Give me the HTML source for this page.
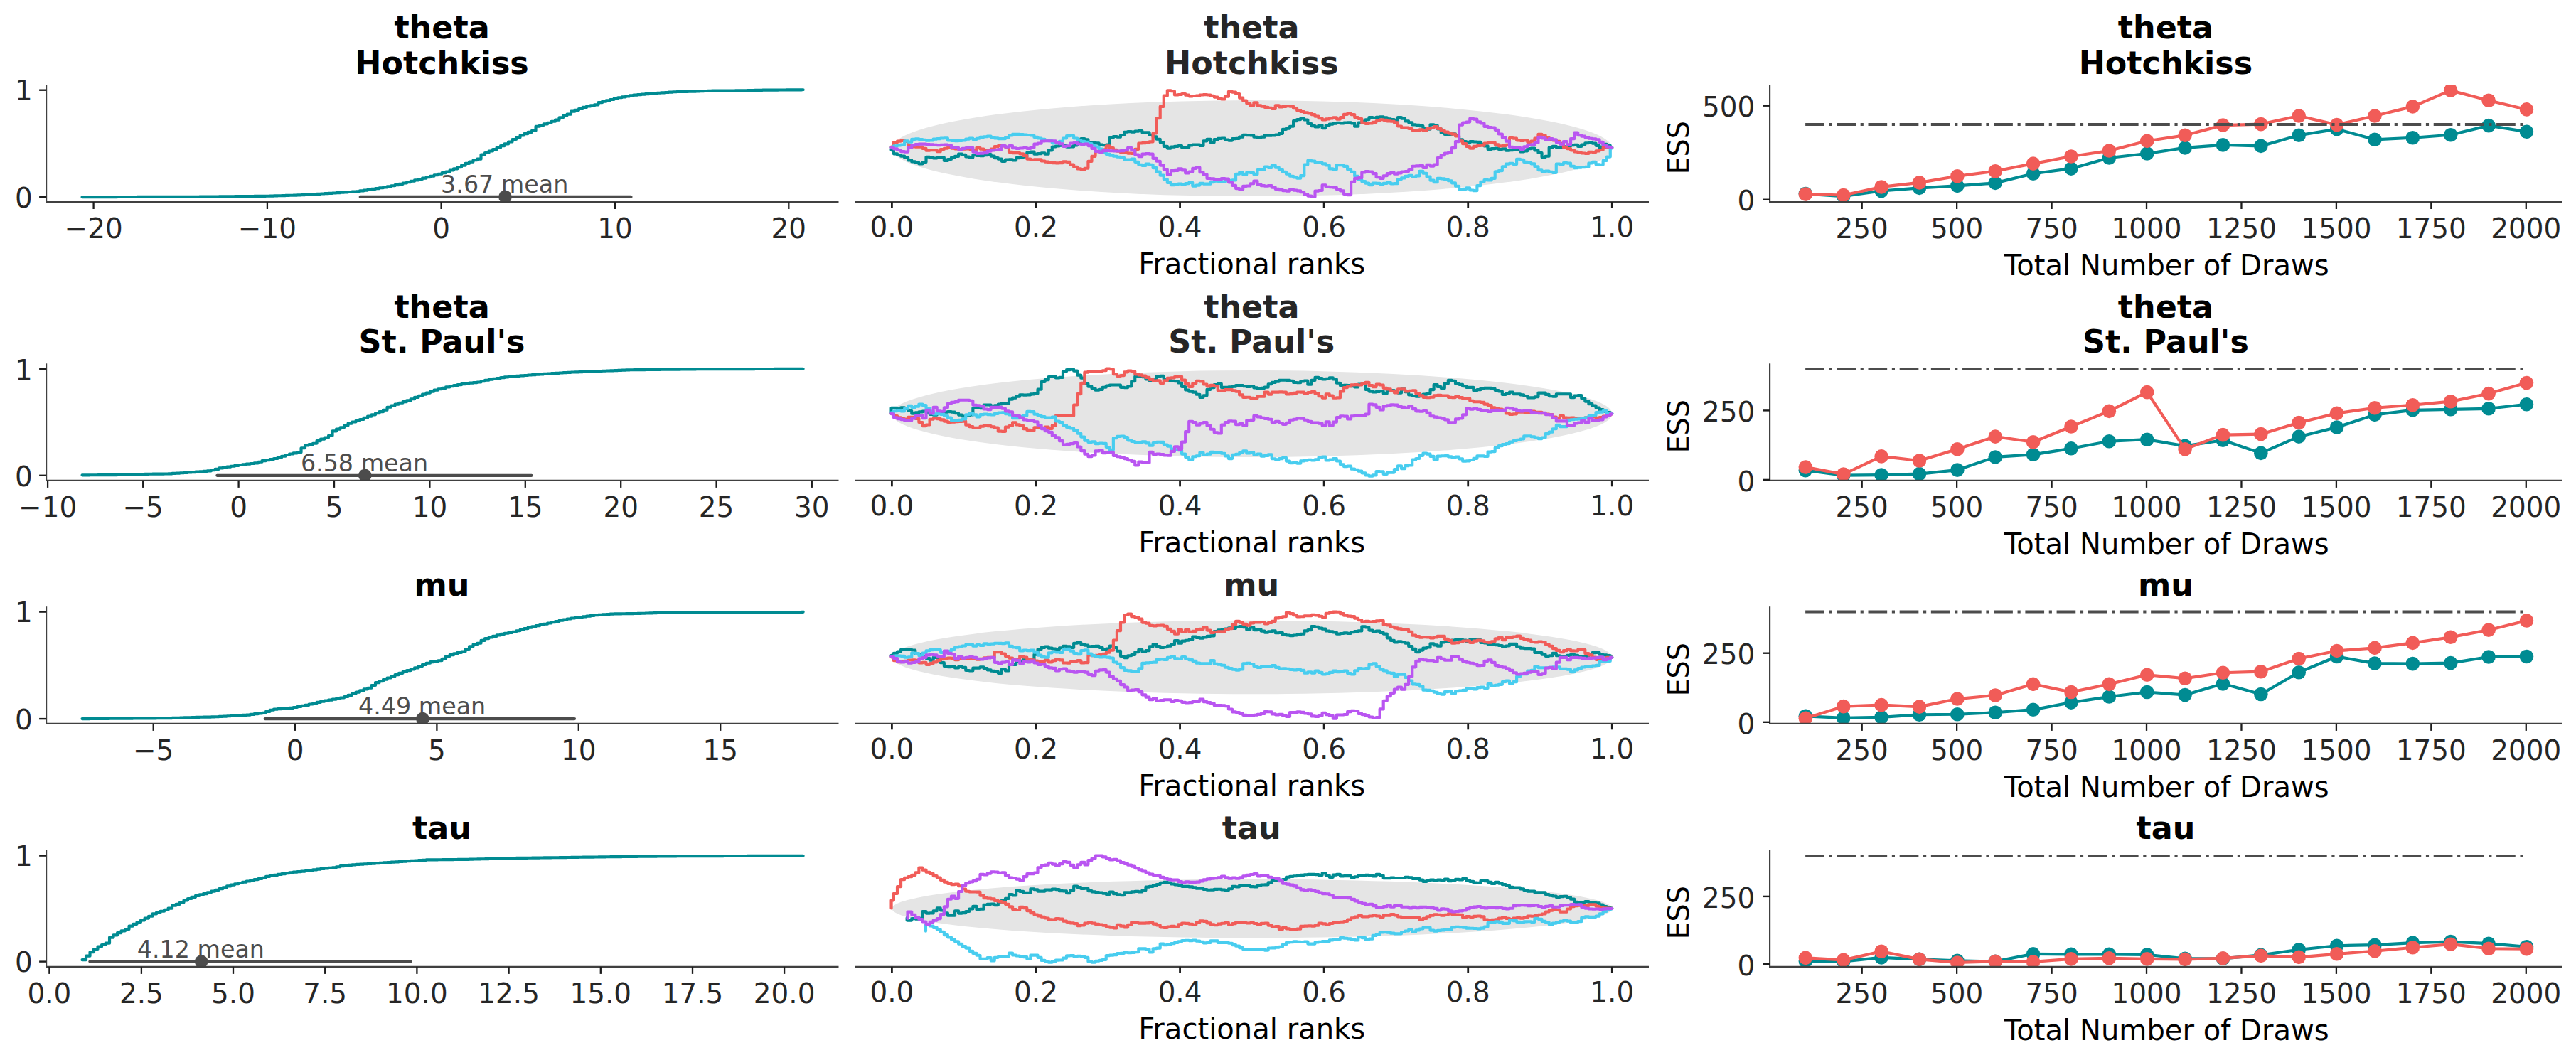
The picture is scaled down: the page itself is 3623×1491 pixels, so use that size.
<!DOCTYPE html>
<html><head><meta charset="utf-8"><title>plot</title>
<style>
html,body{margin:0;padding:0;background:#fff;}
svg{display:block;font-family:"DejaVu Sans","Liberation Sans",sans-serif;}
</style></head><body>
<svg width="3623" height="1491" viewBox="0 0 3623 1491">
<rect width="3623" height="1491" fill="#fff"/>
<defs><clipPath id="c1"><rect x="65.1" y="119.1" width="1114.4" height="164.9"/></clipPath><clipPath id="c2"><rect x="65.1" y="511.3" width="1114.4" height="164.6"/></clipPath><clipPath id="c3"><rect x="65.1" y="853.2" width="1114.4" height="164.7"/></clipPath><clipPath id="c4"><rect x="65.1" y="1195.1" width="1114.4" height="164.8"/></clipPath><clipPath id="c5"><rect x="1202.4" y="99.1" width="1116.6" height="184.9"/></clipPath><clipPath id="c6"><rect x="1202.4" y="491.3" width="1116.6" height="184.6"/></clipPath><clipPath id="c7"><rect x="1202.4" y="833.2" width="1116.6" height="184.7"/></clipPath><clipPath id="c8"><rect x="1202.4" y="1175.1" width="1116.6" height="184.8"/></clipPath><clipPath id="c9"><rect x="2489.1" y="119.1" width="1114.8" height="164.9"/></clipPath><clipPath id="c10"><rect x="2489.1" y="511.3" width="1114.8" height="164.6"/></clipPath><clipPath id="c11"><rect x="2489.1" y="853.2" width="1114.8" height="164.7"/></clipPath><clipPath id="c12"><rect x="2489.1" y="1195.1" width="1114.8" height="164.8"/></clipPath></defs>
<g clip-path="url(#c1)">
<path d="M115.53 277.17 L121.03 277.17 L121.03 277.15 L126.53 277.15 L126.53 277.14 L132.03 277.14 L132.03 277.12 L137.53 277.12 L137.53 277.11 L143.03 277.11 L143.03 277.09 L148.53 277.09 L148.53 277.08 L154.03 277.08 L154.03 277.06 L159.53 277.06 L159.53 277.04 L165.03 277.04 L165.03 277.03 L170.53 277.03 L170.53 277.01 L176.03 277.01 L176.03 277 L181.53 277 L181.53 276.98 L187.03 276.98 L187.03 276.97 L192.53 276.97 L192.53 276.95 L198.03 276.95 L198.03 276.94 L203.53 276.94 L203.53 276.92 L209.03 276.92 L209.03 276.9 L214.53 276.9 L214.53 276.89 L220.03 276.89 L220.03 276.87 L225.53 276.87 L225.53 276.86 L231.03 276.86 L231.03 276.84 L236.53 276.84 L236.53 276.83 L242.03 276.83 L242.03 276.81 L247.53 276.81 L247.53 276.79 L253.03 276.79 L253.03 276.78 L258.53 276.78 L258.53 276.76 L264.03 276.76 L264.03 276.75 L269.53 276.75 L269.53 276.73 L275.03 276.73 L275.03 276.72 L280.53 276.72 L280.53 276.69 L286.03 276.69 L286.03 276.64 L291.53 276.64 L291.53 276.58 L297.03 276.58 L297.03 276.53 L302.53 276.53 L302.53 276.47 L308.03 276.47 L308.03 276.42 L313.53 276.42 L313.53 276.36 L319.03 276.36 L319.03 276.31 L324.53 276.31 L324.53 276.25 L330.03 276.25 L330.03 276.2 L335.53 276.2 L335.53 276.14 L341.03 276.14 L341.03 276.09 L346.53 276.09 L346.53 276.03 L352.03 276.03 L352.03 275.98 L357.53 275.98 L357.53 275.92 L363.03 275.92 L363.03 275.87 L368.53 275.87 L368.53 275.81 L374.03 275.81 L374.03 275.73 L379.53 275.73 L379.53 275.57 L385.03 275.57 L385.03 275.4 L390.53 275.4 L390.53 275.24 L396.03 275.24 L396.03 275.07 L401.53 275.07 L401.53 274.91 L407.03 274.91 L407.03 274.74 L412.53 274.74 L412.53 274.58 L418.03 274.58 L418.03 274.41 L423.53 274.41 L423.53 274.12 L429.03 274.12 L429.03 273.79 L434.53 273.79 L434.53 273.46 L440.03 273.46 L440.03 273.13 L445.53 273.13 L445.53 272.8 L451.03 272.8 L451.03 272.47 L456.53 272.47 L456.53 272.14 L462.03 272.14 L462.03 271.81 L467.53 271.81 L467.53 271.47 L473.03 271.47 L473.03 271.1 L478.53 271.1 L478.53 270.74 L484.03 270.74 L484.03 270.37 L489.53 270.37 L489.53 270.01 L495.03 270.01 L495.03 269.64 L500.53 269.64 L500.53 269.23 L506.03 269.23 L506.03 268.41 L511.53 268.41 L511.53 267.58 L517.03 267.58 L517.03 266.76 L522.53 266.76 L522.53 265.93 L528.03 265.93 L528.03 265.11 L533.53 265.11 L533.53 264.28 L539.03 264.28 L539.03 263.44 L544.53 263.44 L544.53 262.34 L550.03 262.34 L550.03 261.24 L555.53 261.24 L555.53 260.14 L561.03 260.14 L561.03 258.9 L566.53 258.9 L566.53 257.53 L572.03 257.53 L572.03 256.15 L577.53 256.15 L577.53 254.78 L583.03 254.78 L583.03 253.4 L588.53 253.4 L588.53 252.03 L594.03 252.03 L594.03 250.65 L599.53 250.65 L599.53 249.23 L605.03 249.23 L605.03 247.75 L610.53 247.75 L610.53 246.26 L616.03 246.26 L616.03 244.78 L621.53 244.78 L621.53 243.14 L627.03 243.14 L627.03 241.49 L632.53 241.49 L632.53 239.51 L638.03 239.51 L638.03 237.35 L643.53 237.35 L643.53 235.06 L649.03 235.06 L649.03 232.65 L654.53 232.65 L654.53 229.9 L660.03 229.9 L660.03 227.54 L665.53 227.54 L665.53 225.25 L671.03 225.25 L671.03 223.64 L676.53 223.64 L676.53 217.48 L682.03 217.48 L682.03 214.98 L687.53 214.98 L687.53 212.51 L693.03 212.51 L693.03 210.18 L698.53 210.18 L698.53 207.65 L704.03 207.65 L704.03 205.09 L709.53 205.09 L709.53 202.4 L715.03 202.4 L715.03 199.46 L720.53 199.46 L720.53 196.02 L726.03 196.02 L726.03 193.17 L731.53 193.17 L731.53 190.42 L737.03 190.42 L737.03 188.09 L742.53 188.09 L742.53 185.89 L748.03 185.89 L748.03 183.82 L753.53 183.82 L753.53 177.72 L759.03 177.72 L759.03 176.07 L764.53 176.07 L764.53 174.42 L770.03 174.42 L770.03 172.77 L775.53 172.77 L775.53 170.74 L781.03 170.74 L781.03 168.54 L786.53 168.54 L786.53 165.33 L792.03 165.33 L792.03 162.29 L797.53 162.29 L797.53 160.64 L803.03 160.64 L803.03 156.65 L808.53 156.65 L808.53 154.82 L814.03 154.82 L814.03 152.99 L819.53 152.99 L819.53 150.94 L825.03 150.94 L825.03 149.41 L830.53 149.41 L830.53 148.38 L836.03 148.38 L836.03 147.35 L841.53 147.35 L841.53 144.18 L847.03 144.18 L847.03 142.76 L852.53 142.76 L852.53 141.39 L858.03 141.39 L858.03 140.01 L863.53 140.01 L863.53 138.64 L869.03 138.64 L869.03 137.28 L874.53 137.28 L874.53 136.29 L880.03 136.29 L880.03 135.3 L885.53 135.3 L885.53 134.31 L891.03 134.31 L891.03 133.57 L896.53 133.57 L896.53 133.08 L902.03 133.08 L902.03 132.58 L907.53 132.58 L907.53 132.09 L913.03 132.09 L913.03 131.65 L918.53 131.65 L918.53 131.21 L924.03 131.21 L924.03 130.77 L929.53 130.77 L929.53 130.36 L935.03 130.36 L935.03 129.99 L940.53 129.99 L940.53 129.63 L946.03 129.63 L946.03 129.26 L951.53 129.26 L951.53 128.96 L957.03 128.96 L957.03 128.87 L962.53 128.87 L962.53 128.79 L968.03 128.79 L968.03 128.7 L973.53 128.7 L973.53 128.62 L979.03 128.62 L979.03 128.45 L984.53 128.45 L984.53 128.23 L990.03 128.23 L990.03 128.01 L995.53 128.01 L995.53 127.79 L1001.03 127.79 L1001.03 127.62 L1006.53 127.62 L1006.53 127.62 L1012.03 127.62 L1012.03 127.63 L1017.53 127.63 L1017.53 127.63 L1023.03 127.63 L1023.03 127.64 L1028.53 127.64 L1028.53 127.56 L1034.03 127.56 L1034.03 127.45 L1039.53 127.45 L1039.53 127.34 L1045.03 127.34 L1045.03 127.23 L1050.53 127.23 L1050.53 127.12 L1056.03 127.12 L1056.03 127.01 L1061.53 127.01 L1061.53 126.9 L1067.03 126.9 L1067.03 126.79 L1072.53 126.79 L1072.53 126.7 L1078.03 126.7 L1078.03 126.65 L1083.53 126.65 L1083.53 126.61 L1089.03 126.61 L1089.03 126.57 L1094.53 126.57 L1094.53 126.52 L1100.03 126.52 L1100.03 126.48 L1105.53 126.48 L1105.53 126.43 L1111.03 126.43 L1111.03 126.39 L1116.53 126.39 L1116.53 126.35 L1122.03 126.35 L1122.03 126.3 L1127.53 126.3 L1127.53 126.26 L1129.64 126.26 L1129.64 126.24" fill="none" stroke="#008b92" stroke-width="4.17" stroke-linejoin="round" stroke-linecap="round"/>
<line x1="506.7" y1="276.9" x2="887.5" y2="276.9" stroke="#4c4c4c" stroke-width="4.17" stroke-linecap="round"/>
<circle cx="710.5" cy="276.9" r="9.3" fill="#4c4c4c"/>
</g>
<g clip-path="url(#c2)">
<path d="M115.53 668.35 L121.03 668.35 L121.03 668.31 L126.53 668.31 L126.53 668.28 L132.03 668.28 L132.03 668.24 L137.53 668.24 L137.53 668.2 L143.03 668.2 L143.03 668.17 L148.53 668.17 L148.53 668.13 L154.03 668.13 L154.03 668.1 L159.53 668.1 L159.53 668.06 L165.03 668.06 L165.03 668.02 L170.53 668.02 L170.53 667.99 L176.03 667.99 L176.03 667.95 L181.53 667.95 L181.53 667.92 L187.03 667.92 L187.03 667.83 L192.53 667.83 L192.53 667.43 L198.03 667.43 L198.03 667.03 L203.53 667.03 L203.53 666.84 L209.03 666.84 L209.03 666.77 L214.53 666.77 L214.53 666.7 L220.03 666.7 L220.03 666.62 L225.53 666.62 L225.53 666.55 L231.03 666.55 L231.03 666.48 L236.53 666.48 L236.53 666.32 L242.03 666.32 L242.03 665.95 L247.53 665.95 L247.53 665.59 L253.03 665.59 L253.03 665.22 L258.53 665.22 L258.53 664.85 L264.03 664.85 L264.03 664.49 L269.53 664.49 L269.53 664.12 L275.03 664.12 L275.03 663.68 L280.53 663.68 L280.53 663.24 L286.03 663.24 L286.03 662.8 L291.53 662.8 L291.53 662.36 L297.03 662.36 L297.03 661.24 L302.53 661.24 L302.53 659.83 L308.03 659.83 L308.03 658.41 L313.53 658.41 L313.53 657.42 L319.03 657.42 L319.03 656.57 L324.53 656.57 L324.53 655.73 L330.03 655.73 L330.03 654.88 L335.53 654.88 L335.53 654.03 L341.03 654.03 L341.03 653.24 L346.53 653.24 L346.53 652.62 L352.03 652.62 L352.03 652 L357.53 652 L357.53 651.38 L363.03 651.38 L363.03 649.78 L368.53 649.78 L368.53 648.1 L374.03 648.1 L374.03 647.07 L379.53 647.07 L379.53 646.04 L385.03 646.04 L385.03 645.01 L390.53 645.01 L390.53 643.46 L396.03 643.46 L396.03 641.74 L401.53 641.74 L401.53 640.02 L407.03 640.02 L407.03 638.5 L412.53 638.5 L412.53 637.32 L418.03 637.32 L418.03 636.14 L423.53 636.14 L423.53 630.23 L429.03 630.23 L429.03 626.31 L434.53 626.31 L434.53 625.04 L440.03 625.04 L440.03 623.73 L445.53 623.73 L445.53 620.06 L451.03 620.06 L451.03 617.6 L456.53 617.6 L456.53 615.5 L462.03 615.5 L462.03 612.75 L467.53 612.75 L467.53 606.44 L473.03 606.44 L473.03 603.57 L478.53 603.57 L478.53 601.37 L484.03 601.37 L484.03 598.54 L489.53 598.54 L489.53 595.57 L495.03 595.57 L495.03 593.52 L500.53 593.52 L500.53 591.87 L506.03 591.87 L506.03 589.98 L511.53 589.98 L511.53 587.92 L517.03 587.92 L517.03 585.66 L522.53 585.66 L522.53 583.36 L528.03 583.36 L528.03 581.18 L533.53 581.18 L533.53 579.2 L539.03 579.2 L539.03 576.75 L544.53 576.75 L544.53 572.71 L550.03 572.71 L550.03 570.62 L555.53 570.62 L555.53 568.6 L561.03 568.6 L561.03 566.74 L566.53 566.74 L566.53 565.09 L572.03 565.09 L572.03 563.44 L577.53 563.44 L577.53 561.22 L583.03 561.22 L583.03 558.93 L588.53 558.93 L588.53 556.72 L594.03 556.72 L594.03 554.65 L599.53 554.65 L599.53 552.62 L605.03 552.62 L605.03 550.6 L610.53 550.6 L610.53 548.65 L616.03 548.65 L616.03 547.24 L621.53 547.24 L621.53 545.84 L627.03 545.84 L627.03 544.43 L632.53 544.43 L632.53 543.15 L638.03 543.15 L638.03 542.16 L643.53 542.16 L643.53 541.17 L649.03 541.17 L649.03 540.18 L654.53 540.18 L654.53 539.21 L660.03 539.21 L660.03 538.66 L665.53 538.66 L665.53 538.11 L671.03 538.11 L671.03 537.49 L676.53 537.49 L676.53 536.11 L682.03 536.11 L682.03 534.74 L687.53 534.74 L687.53 533.66 L693.03 533.66 L693.03 532.84 L698.53 532.84 L698.53 532.01 L704.03 532.01 L704.03 531.19 L709.53 531.19 L709.53 530.36 L715.03 530.36 L715.03 529.72 L720.53 529.72 L720.53 529.28 L726.03 529.28 L726.03 528.84 L731.53 528.84 L731.53 528.4 L737.03 528.4 L737.03 527.96 L742.53 527.96 L742.53 527.52 L748.03 527.52 L748.03 527.09 L753.53 527.09 L753.53 526.7 L759.03 526.7 L759.03 526.32 L764.53 526.32 L764.53 525.93 L770.03 525.93 L770.03 525.55 L775.53 525.55 L775.53 525.19 L781.03 525.19 L781.03 524.84 L786.53 524.84 L786.53 524.49 L792.03 524.49 L792.03 524.14 L797.53 524.14 L797.53 523.8 L803.03 523.8 L803.03 523.51 L808.53 523.51 L808.53 523.29 L814.03 523.29 L814.03 523.07 L819.53 523.07 L819.53 522.85 L825.03 522.85 L825.03 522.62 L830.53 522.62 L830.53 522.4 L836.03 522.4 L836.03 522.18 L841.53 522.18 L841.53 521.96 L847.03 521.96 L847.03 521.74 L852.53 521.74 L852.53 521.52 L858.03 521.52 L858.03 521.3 L863.53 521.3 L863.53 521.08 L869.03 521.08 L869.03 520.86 L874.53 520.86 L874.53 520.64 L880.03 520.64 L880.03 520.42 L885.53 520.42 L885.53 520.21 L891.03 520.21 L891.03 520.16 L896.53 520.16 L896.53 520.1 L902.03 520.1 L902.03 520.05 L907.53 520.05 L907.53 519.99 L913.03 519.99 L913.03 519.94 L918.53 519.94 L918.53 519.88 L924.03 519.88 L924.03 519.83 L929.53 519.83 L929.53 519.77 L935.03 519.77 L935.03 519.72 L940.53 519.72 L940.53 519.66 L946.03 519.66 L946.03 519.61 L951.53 519.61 L951.53 519.55 L957.03 519.55 L957.03 519.5 L962.53 519.5 L962.53 519.44 L968.03 519.44 L968.03 519.39 L973.53 519.39 L973.53 519.33 L979.03 519.33 L979.03 519.28 L984.53 519.28 L984.53 519.26 L990.03 519.26 L990.03 519.25 L995.53 519.25 L995.53 519.23 L1001.03 519.23 L1001.03 519.21 L1006.53 519.21 L1006.53 519.2 L1012.03 519.2 L1012.03 519.18 L1017.53 519.18 L1017.53 519.16 L1023.03 519.16 L1023.03 519.15 L1028.53 519.15 L1028.53 519.13 L1034.03 519.13 L1034.03 519.11 L1039.53 519.11 L1039.53 519.09 L1045.03 519.09 L1045.03 519.08 L1050.53 519.08 L1050.53 519.06 L1056.03 519.06 L1056.03 519.04 L1061.53 519.04 L1061.53 519.03 L1067.03 519.03 L1067.03 519.01 L1072.53 519.01 L1072.53 518.99 L1078.03 518.99 L1078.03 518.98 L1083.53 518.98 L1083.53 518.96 L1089.03 518.96 L1089.03 518.94 L1094.53 518.94 L1094.53 518.93 L1100.03 518.93 L1100.03 518.91 L1105.53 518.91 L1105.53 518.89 L1111.03 518.89 L1111.03 518.87 L1116.53 518.87 L1116.53 518.86 L1122.03 518.86 L1122.03 518.84 L1127.53 518.84 L1127.53 518.82 L1129.64 518.82 L1129.64 518.82" fill="none" stroke="#008b92" stroke-width="4.17" stroke-linejoin="round" stroke-linecap="round"/>
<line x1="305.4" y1="668.8" x2="747.6" y2="668.8" stroke="#4c4c4c" stroke-width="4.17" stroke-linecap="round"/>
<circle cx="513.3" cy="668.8" r="9.3" fill="#4c4c4c"/>
</g>
<g clip-path="url(#c3)">
<path d="M115.53 1011.08 L121.03 1011.08 L121.03 1011.04 L126.53 1011.04 L126.53 1011 L132.03 1011 L132.03 1010.95 L137.53 1010.95 L137.53 1010.91 L143.03 1010.91 L143.03 1010.86 L148.53 1010.86 L148.53 1010.82 L154.03 1010.82 L154.03 1010.78 L159.53 1010.78 L159.53 1010.73 L165.03 1010.73 L165.03 1010.69 L170.53 1010.69 L170.53 1010.65 L176.03 1010.65 L176.03 1010.6 L181.53 1010.6 L181.53 1010.56 L187.03 1010.56 L187.03 1010.52 L192.53 1010.52 L192.53 1010.47 L198.03 1010.47 L198.03 1010.43 L203.53 1010.43 L203.53 1010.38 L209.03 1010.38 L209.03 1010.34 L214.53 1010.34 L214.53 1010.3 L220.03 1010.3 L220.03 1010.25 L225.53 1010.25 L225.53 1010.21 L231.03 1010.21 L231.03 1010.17 L236.53 1010.17 L236.53 1010.04 L242.03 1010.04 L242.03 1009.88 L247.53 1009.88 L247.53 1009.71 L253.03 1009.71 L253.03 1009.55 L258.53 1009.55 L258.53 1009.38 L264.03 1009.38 L264.03 1009.22 L269.53 1009.22 L269.53 1009.05 L275.03 1009.05 L275.03 1008.89 L280.53 1008.89 L280.53 1008.74 L286.03 1008.74 L286.03 1008.64 L291.53 1008.64 L291.53 1008.54 L297.03 1008.54 L297.03 1008.45 L302.53 1008.45 L302.53 1008.25 L308.03 1008.25 L308.03 1007.92 L313.53 1007.92 L313.53 1007.59 L319.03 1007.59 L319.03 1007.26 L324.53 1007.26 L324.53 1006.93 L330.03 1006.93 L330.03 1006.6 L335.53 1006.6 L335.53 1006.27 L341.03 1006.27 L341.03 1005.94 L346.53 1005.94 L346.53 1005.61 L352.03 1005.61 L352.03 1004.9 L357.53 1004.9 L357.53 1004.18 L363.03 1004.18 L363.03 1003.47 L368.53 1003.47 L368.53 1002.75 L374.03 1002.75 L374.03 1000.92 L379.53 1000.92 L379.53 998.72 L385.03 998.72 L385.03 997.62 L390.53 997.62 L390.53 997.17 L396.03 997.17 L396.03 996.71 L401.53 996.71 L401.53 996.25 L407.03 996.25 L407.03 995.79 L412.53 995.79 L412.53 995.01 L418.03 995.01 L418.03 993.98 L423.53 993.98 L423.53 992.95 L429.03 992.95 L429.03 991.87 L434.53 991.87 L434.53 990.52 L440.03 990.52 L440.03 989.18 L445.53 989.18 L445.53 987.84 L451.03 987.84 L451.03 986.61 L456.53 986.61 L456.53 985.6 L462.03 985.6 L462.03 984.59 L467.53 984.59 L467.53 983.57 L473.03 983.57 L473.03 982.54 L478.53 982.54 L478.53 981.5 L484.03 981.5 L484.03 980.01 L489.53 980.01 L489.53 977.89 L495.03 977.89 L495.03 975.77 L500.53 975.77 L500.53 973.61 L506.03 973.61 L506.03 971.41 L511.53 971.41 L511.53 969.4 L517.03 969.4 L517.03 967.75 L522.53 967.75 L522.53 964 L528.03 964 L528.03 960.16 L533.53 960.16 L533.53 958.07 L539.03 958.07 L539.03 955.78 L544.53 955.78 L544.53 953.49 L550.03 953.49 L550.03 951.25 L555.53 951.25 L555.53 949.05 L561.03 949.05 L561.03 946.85 L566.53 946.85 L566.53 944.93 L572.03 944.93 L572.03 943.2 L577.53 943.2 L577.53 941.47 L583.03 941.47 L583.03 939.39 L588.53 939.39 L588.53 937.1 L594.03 937.1 L594.03 934.83 L599.53 934.83 L599.53 932.76 L605.03 932.76 L605.03 931.15 L610.53 931.15 L610.53 930.21 L616.03 930.21 L616.03 929.26 L621.53 929.26 L621.53 926.89 L627.03 926.89 L627.03 923.06 L632.53 923.06 L632.53 921.19 L638.03 921.19 L638.03 919.35 L643.53 919.35 L643.53 917.92 L649.03 917.92 L649.03 916.49 L654.53 916.49 L654.53 912.97 L660.03 912.97 L660.03 909.31 L665.53 909.31 L665.53 906.43 L671.03 906.43 L671.03 904.78 L676.53 904.78 L676.53 900.88 L682.03 900.88 L682.03 898.06 L687.53 898.06 L687.53 896.5 L693.03 896.5 L693.03 894.94 L698.53 894.94 L698.53 893.39 L704.03 893.39 L704.03 891.83 L709.53 891.83 L709.53 890.76 L715.03 890.76 L715.03 889.84 L720.53 889.84 L720.53 888.79 L726.03 888.79 L726.03 887.25 L731.53 887.25 L731.53 885.71 L737.03 885.71 L737.03 884.17 L742.53 884.17 L742.53 882.63 L748.03 882.63 L748.03 881.41 L753.53 881.41 L753.53 880.2 L759.03 880.2 L759.03 878.99 L764.53 878.99 L764.53 877.78 L770.03 877.78 L770.03 876.53 L775.53 876.53 L775.53 875.27 L781.03 875.27 L781.03 874 L786.53 874 L786.53 872.74 L792.03 872.74 L792.03 871.56 L797.53 871.56 L797.53 870.46 L803.03 870.46 L803.03 869.51 L808.53 869.51 L808.53 868.8 L814.03 868.8 L814.03 868.08 L819.53 868.08 L819.53 867.37 L825.03 867.37 L825.03 866.64 L830.53 866.64 L830.53 865.87 L836.03 865.87 L836.03 865.12 L841.53 865.12 L841.53 864.74 L847.03 864.74 L847.03 864.35 L852.53 864.35 L852.53 863.97 L858.03 863.97 L858.03 863.58 L863.53 863.58 L863.53 863.43 L869.03 863.43 L869.03 863.34 L874.53 863.34 L874.53 863.25 L880.03 863.25 L880.03 863.15 L885.53 863.15 L885.53 863.06 L891.03 863.06 L891.03 862.97 L896.53 862.97 L896.53 862.87 L902.03 862.87 L902.03 862.73 L907.53 862.73 L907.53 862.51 L913.03 862.51 L913.03 862.29 L918.53 862.29 L918.53 862.07 L924.03 862.07 L924.03 861.86 L929.53 861.86 L929.53 861.64 L935.03 861.64 L935.03 861.55 L940.53 861.55 L940.53 861.55 L946.03 861.55 L946.03 861.55 L951.53 861.55 L951.53 861.55 L957.03 861.55 L957.03 861.55 L962.53 861.55 L962.53 861.55 L968.03 861.55 L968.03 861.55 L973.53 861.55 L973.53 861.55 L979.03 861.55 L979.03 861.55 L984.53 861.55 L984.53 861.55 L990.03 861.55 L990.03 861.55 L995.53 861.55 L995.53 861.55 L1001.03 861.55 L1001.03 861.55 L1006.53 861.55 L1006.53 861.55 L1012.03 861.55 L1012.03 861.55 L1017.53 861.55 L1017.53 861.55 L1023.03 861.55 L1023.03 861.55 L1028.53 861.55 L1028.53 861.55 L1034.03 861.55 L1034.03 861.55 L1039.53 861.55 L1039.53 861.55 L1045.03 861.55 L1045.03 861.55 L1050.53 861.55 L1050.53 861.55 L1056.03 861.55 L1056.03 861.55 L1061.53 861.55 L1061.53 861.55 L1067.03 861.55 L1067.03 861.55 L1072.53 861.55 L1072.53 861.55 L1078.03 861.55 L1078.03 861.55 L1083.53 861.55 L1083.53 861.55 L1089.03 861.55 L1089.03 861.55 L1094.53 861.55 L1094.53 861.55 L1100.03 861.55 L1100.03 861.55 L1105.53 861.55 L1105.53 861.55 L1111.03 861.55 L1111.03 861.55 L1116.53 861.55 L1116.53 861.55 L1122.03 861.55 L1122.03 861.23 L1127.53 861.23 L1127.53 860.79 L1129.64 860.79 L1129.64 860.62" fill="none" stroke="#008b92" stroke-width="4.17" stroke-linejoin="round" stroke-linecap="round"/>
<line x1="372.7" y1="1011.1" x2="808" y2="1011.1" stroke="#4c4c4c" stroke-width="4.17" stroke-linecap="round"/>
<circle cx="594.4" cy="1011.1" r="9.3" fill="#4c4c4c"/>
</g>
<g clip-path="url(#c4)">
<path d="M115.53 1350.13 L121.03 1350.13 L121.03 1344.65 L126.53 1344.65 L126.53 1339.2 L132.03 1339.2 L132.03 1334.97 L137.53 1334.97 L137.53 1331.53 L143.03 1331.53 L143.03 1328.97 L148.53 1328.97 L148.53 1326.68 L154.03 1326.68 L154.03 1318.57 L159.53 1318.57 L159.53 1315.39 L165.03 1315.39 L165.03 1312.09 L170.53 1312.09 L170.53 1309.3 L176.03 1309.3 L176.03 1307.1 L181.53 1307.1 L181.53 1302.57 L187.03 1302.57 L187.03 1299.82 L192.53 1299.82 L192.53 1297.07 L198.03 1297.07 L198.03 1294.32 L203.53 1294.32 L203.53 1291.57 L209.03 1291.57 L209.03 1288.74 L214.53 1288.74 L214.53 1285.43 L220.03 1285.43 L220.03 1283.6 L225.53 1283.6 L225.53 1281.76 L231.03 1281.76 L231.03 1279.93 L236.53 1279.93 L236.53 1277.66 L242.03 1277.66 L242.03 1273.67 L247.53 1273.67 L247.53 1271.84 L253.03 1271.84 L253.03 1269.33 L258.53 1269.33 L258.53 1266.29 L264.03 1266.29 L264.03 1263.99 L269.53 1263.99 L269.53 1261.81 L275.03 1261.81 L275.03 1259.79 L280.53 1259.79 L280.53 1258.42 L286.03 1258.42 L286.03 1257.04 L291.53 1257.04 L291.53 1255.34 L297.03 1255.34 L297.03 1253.62 L302.53 1253.62 L302.53 1251.89 L308.03 1251.89 L308.03 1250.06 L313.53 1250.06 L313.53 1248.22 L319.03 1248.22 L319.03 1246.39 L324.53 1246.39 L324.53 1244.56 L330.03 1244.56 L330.03 1243.25 L335.53 1243.25 L335.53 1242.01 L341.03 1242.01 L341.03 1240.77 L346.53 1240.77 L346.53 1239.49 L352.03 1239.49 L352.03 1238.21 L357.53 1238.21 L357.53 1237.1 L363.03 1237.1 L363.03 1236 L368.53 1236 L368.53 1234.8 L374.03 1234.8 L374.03 1232.87 L379.53 1232.87 L379.53 1231.68 L385.03 1231.68 L385.03 1230.79 L390.53 1230.79 L390.53 1229.89 L396.03 1229.89 L396.03 1229.06 L401.53 1229.06 L401.53 1228.23 L407.03 1228.23 L407.03 1227.41 L412.53 1227.41 L412.53 1226.68 L418.03 1226.68 L418.03 1226.13 L423.53 1226.13 L423.53 1225.58 L429.03 1225.58 L429.03 1225.03 L434.53 1225.03 L434.53 1224.25 L440.03 1224.25 L440.03 1223.43 L445.53 1223.43 L445.53 1222.6 L451.03 1222.6 L451.03 1221.86 L456.53 1221.86 L456.53 1221.31 L462.03 1221.31 L462.03 1220.76 L467.53 1220.76 L467.53 1220.21 L473.03 1220.21 L473.03 1219.24 L478.53 1219.24 L478.53 1218.14 L484.03 1218.14 L484.03 1217.53 L489.53 1217.53 L489.53 1216.92 L495.03 1216.92 L495.03 1216.31 L500.53 1216.31 L500.53 1215.92 L506.03 1215.92 L506.03 1215.57 L511.53 1215.57 L511.53 1215.23 L517.03 1215.23 L517.03 1214.89 L522.53 1214.89 L522.53 1214.54 L528.03 1214.54 L528.03 1214.19 L533.53 1214.19 L533.53 1213.81 L539.03 1213.81 L539.03 1213.42 L544.53 1213.42 L544.53 1213.04 L550.03 1213.04 L550.03 1212.66 L555.53 1212.66 L555.53 1212.3 L561.03 1212.3 L561.03 1211.93 L566.53 1211.93 L566.53 1211.56 L572.03 1211.56 L572.03 1211.2 L577.53 1211.2 L577.53 1210.84 L583.03 1210.84 L583.03 1210.49 L588.53 1210.49 L588.53 1210.14 L594.03 1210.14 L594.03 1209.79 L599.53 1209.79 L599.53 1209.44 L605.03 1209.44 L605.03 1209.36 L610.53 1209.36 L610.53 1209.3 L616.03 1209.3 L616.03 1209.24 L621.53 1209.24 L621.53 1209.18 L627.03 1209.18 L627.03 1209.12 L632.53 1209.12 L632.53 1209.06 L638.03 1209.06 L638.03 1209.01 L643.53 1209.01 L643.53 1208.95 L649.03 1208.95 L649.03 1208.89 L654.53 1208.89 L654.53 1208.79 L660.03 1208.79 L660.03 1208.65 L665.53 1208.65 L665.53 1208.5 L671.03 1208.5 L671.03 1208.35 L676.53 1208.35 L676.53 1208.21 L682.03 1208.21 L682.03 1208.06 L687.53 1208.06 L687.53 1207.91 L693.03 1207.91 L693.03 1207.77 L698.53 1207.77 L698.53 1207.62 L704.03 1207.62 L704.03 1207.47 L709.53 1207.47 L709.53 1207.33 L715.03 1207.33 L715.03 1207.18 L720.53 1207.18 L720.53 1207.03 L726.03 1207.03 L726.03 1206.94 L731.53 1206.94 L731.53 1206.87 L737.03 1206.87 L737.03 1206.79 L742.53 1206.79 L742.53 1206.72 L748.03 1206.72 L748.03 1206.65 L753.53 1206.65 L753.53 1206.57 L759.03 1206.57 L759.03 1206.5 L764.53 1206.5 L764.53 1206.43 L770.03 1206.43 L770.03 1206.35 L775.53 1206.35 L775.53 1206.28 L781.03 1206.28 L781.03 1206.21 L786.53 1206.21 L786.53 1206.13 L792.03 1206.13 L792.03 1206.06 L797.53 1206.06 L797.53 1205.99 L803.03 1205.99 L803.03 1205.91 L808.53 1205.91 L808.53 1205.84 L814.03 1205.84 L814.03 1205.77 L819.53 1205.77 L819.53 1205.69 L825.03 1205.69 L825.03 1205.62 L830.53 1205.62 L830.53 1205.55 L836.03 1205.55 L836.03 1205.47 L841.53 1205.47 L841.53 1205.4 L847.03 1205.4 L847.03 1205.33 L852.53 1205.33 L852.53 1205.25 L858.03 1205.25 L858.03 1205.18 L863.53 1205.18 L863.53 1205.11 L869.03 1205.11 L869.03 1205.06 L874.53 1205.06 L874.53 1205 L880.03 1205 L880.03 1204.95 L885.53 1204.95 L885.53 1204.89 L891.03 1204.89 L891.03 1204.84 L896.53 1204.84 L896.53 1204.78 L902.03 1204.78 L902.03 1204.73 L907.53 1204.73 L907.53 1204.67 L913.03 1204.67 L913.03 1204.62 L918.53 1204.62 L918.53 1204.56 L924.03 1204.56 L924.03 1204.51 L929.53 1204.51 L929.53 1204.45 L935.03 1204.45 L935.03 1204.4 L940.53 1204.4 L940.53 1204.34 L946.03 1204.34 L946.03 1204.29 L951.53 1204.29 L951.53 1204.23 L957.03 1204.23 L957.03 1204.19 L962.53 1204.19 L962.53 1204.18 L968.03 1204.18 L968.03 1204.16 L973.53 1204.16 L973.53 1204.15 L979.03 1204.15 L979.03 1204.13 L984.53 1204.13 L984.53 1204.12 L990.03 1204.12 L990.03 1204.1 L995.53 1204.1 L995.53 1204.09 L1001.03 1204.09 L1001.03 1204.07 L1006.53 1204.07 L1006.53 1204.06 L1012.03 1204.06 L1012.03 1204.04 L1017.53 1204.04 L1017.53 1204.03 L1023.03 1204.03 L1023.03 1204.02 L1028.53 1204.02 L1028.53 1204 L1034.03 1204 L1034.03 1203.99 L1039.53 1203.99 L1039.53 1203.97 L1045.03 1203.97 L1045.03 1203.96 L1050.53 1203.96 L1050.53 1203.94 L1056.03 1203.94 L1056.03 1203.93 L1061.53 1203.93 L1061.53 1203.91 L1067.03 1203.91 L1067.03 1203.9 L1072.53 1203.9 L1072.53 1203.88 L1078.03 1203.88 L1078.03 1203.87 L1083.53 1203.87 L1083.53 1203.85 L1089.03 1203.85 L1089.03 1203.84 L1094.53 1203.84 L1094.53 1203.82 L1100.03 1203.82 L1100.03 1203.81 L1105.53 1203.81 L1105.53 1203.8 L1111.03 1203.8 L1111.03 1203.78 L1116.53 1203.78 L1116.53 1203.77 L1122.03 1203.77 L1122.03 1203.75 L1127.53 1203.75 L1127.53 1203.74 L1129.64 1203.74 L1129.64 1203.73" fill="none" stroke="#008b92" stroke-width="4.17" stroke-linejoin="round" stroke-linecap="round"/>
<line x1="126.4" y1="1352.6" x2="577.3" y2="1352.6" stroke="#4c4c4c" stroke-width="4.17" stroke-linecap="round"/>
<circle cx="283.2" cy="1352.6" r="9.3" fill="#4c4c4c"/>
</g>
<g clip-path="url(#c5)">
<ellipse cx="1760.85" cy="208.6" rx="506.45" ry="67.5" fill="#e5e5e5"/>
<path d="M1253.58 210.09 L1253.58 211.04 L1254.4 211.04 L1256.93 211.04 L1256.93 216.3 L1262 216.3 L1262 217.99 L1267.06 217.99 L1267.06 219.67 L1272.13 219.67 L1272.13 221.65 L1277.19 221.65 L1277.19 225.45 L1282.25 225.45 L1282.25 227.43 L1287.32 227.43 L1287.32 228.95 L1292.38 228.95 L1292.38 230.47 L1297.45 230.47 L1297.45 228.07 L1302.51 228.07 L1302.51 220.76 L1307.58 220.76 L1307.58 221.86 L1312.64 221.86 L1312.64 222.52 L1317.71 222.52 L1317.71 221.8 L1322.77 221.8 L1322.77 221.48 L1327.84 221.48 L1327.84 225.91 L1332.9 225.91 L1332.9 223.96 L1337.96 223.96 L1337.96 221.59 L1343.03 221.59 L1343.03 219.9 L1348.09 219.9 L1348.09 216.52 L1353.16 216.52 L1353.16 217.79 L1358.22 217.79 L1358.22 220.47 L1363.29 220.47 L1363.29 221.51 L1368.35 221.51 L1368.35 218.04 L1373.42 218.04 L1373.42 218.88 L1378.48 218.88 L1378.48 219.1 L1383.54 219.1 L1383.54 218.15 L1388.61 218.15 L1388.61 217.2 L1393.67 217.2 L1393.67 219.7 L1398.74 219.7 L1398.74 222.13 L1403.8 222.13 L1403.8 223.65 L1408.87 223.65 L1408.87 226.79 L1413.93 226.79 L1413.93 224.66 L1419 224.66 L1419 224.44 L1424.06 224.44 L1424.06 225.29 L1429.13 225.29 L1429.13 222.12 L1434.19 222.12 L1434.19 221.17 L1439.25 221.17 L1439.25 220.33 L1444.32 220.33 L1444.32 214.57 L1449.38 214.57 L1449.38 213.56 L1454.45 213.56 L1454.45 216.64 L1459.51 216.64 L1459.51 216.1 L1464.58 216.1 L1464.58 215.26 L1469.64 215.26 L1469.64 216.73 L1474.71 216.73 L1474.71 211.52 L1479.77 211.52 L1479.77 206.48 L1484.83 206.48 L1484.83 205.53 L1489.9 205.53 L1489.9 204.58 L1494.96 204.58 L1494.96 205.08 L1500.03 205.08 L1500.03 206.77 L1505.09 206.77 L1505.09 206.41 L1510.16 206.41 L1510.16 204.3 L1515.22 204.3 L1515.22 199.97 L1520.29 199.97 L1520.29 195.04 L1525.35 195.04 L1525.35 196.31 L1530.42 196.31 L1530.42 199.98 L1535.48 199.98 L1535.48 200.4 L1540.54 200.4 L1540.54 201.37 L1545.61 201.37 L1545.61 203.55 L1550.67 203.55 L1550.67 204.06 L1555.74 204.06 L1555.74 203.46 L1560.8 203.46 L1560.8 193.74 L1565.87 193.74 L1565.87 191.99 L1570.93 191.99 L1570.93 192.72 L1576 192.72 L1576 190.03 L1581.06 190.03 L1581.06 185.75 L1586.12 185.75 L1586.12 185.11 L1591.19 185.11 L1591.19 185.62 L1596.25 185.62 L1596.25 184.67 L1601.32 184.67 L1601.32 183.97 L1606.38 183.97 L1606.38 186.32 L1611.45 186.32 L1611.45 186.32 L1616.51 186.32 L1616.51 189.8 L1621.58 189.8 L1621.58 192.34 L1626.64 192.34 L1626.64 195.75 L1631.71 195.75 L1631.71 200.29 L1636.77 200.29 L1636.77 205.9 L1641.83 205.9 L1641.83 208.6 L1646.9 208.6 L1646.9 206.7 L1651.96 206.7 L1651.96 205.85 L1657.03 205.85 L1657.03 205.01 L1662.09 205.01 L1662.09 207.5 L1667.16 207.5 L1667.16 207.85 L1672.22 207.85 L1672.22 204.3 L1677.29 204.3 L1677.29 203.66 L1682.35 203.66 L1682.35 203.67 L1687.41 203.67 L1687.41 204.94 L1692.48 204.94 L1692.48 198.34 L1697.54 198.34 L1697.54 195.81 L1702.61 195.81 L1702.61 200.23 L1707.67 200.23 L1707.67 196.17 L1712.74 196.17 L1712.74 194.91 L1717.8 194.91 L1717.8 194.49 L1722.87 194.49 L1722.87 196.6 L1727.93 196.6 L1727.93 197.6 L1733 197.6 L1733 195.06 L1738.06 195.06 L1738.06 194.81 L1743.12 194.81 L1743.12 192.69 L1748.19 192.69 L1748.19 189.79 L1753.25 189.79 L1753.25 190.16 L1758.32 190.16 L1758.32 190.52 L1763.38 190.52 L1763.38 192.77 L1768.45 192.77 L1768.45 193.66 L1773.51 193.66 L1773.51 192.64 L1778.58 192.64 L1778.58 190.56 L1783.64 190.56 L1783.64 190.56 L1788.7 190.56 L1788.7 190.42 L1793.77 190.42 L1793.77 189.58 L1798.83 189.58 L1798.83 187.79 L1803.9 187.79 L1803.9 181.88 L1808.96 181.88 L1808.96 180.61 L1814.03 180.61 L1814.03 177.74 L1819.09 177.74 L1819.09 170.08 L1824.16 170.08 L1824.16 168.06 L1829.22 168.06 L1829.22 166.64 L1834.29 166.64 L1834.29 168.52 L1839.35 168.52 L1839.35 173.96 L1844.41 173.96 L1844.41 177.11 L1849.48 177.11 L1849.48 178.38 L1854.54 178.38 L1854.54 176.1 L1859.61 176.1 L1859.61 180.04 L1864.67 180.04 L1864.67 176.24 L1869.74 176.24 L1869.74 174.57 L1874.8 174.57 L1874.8 173.62 L1879.87 173.62 L1879.87 172.79 L1884.93 172.79 L1884.93 173.52 L1889.99 173.52 L1889.99 172.51 L1895.06 172.51 L1895.06 172.27 L1900.12 172.27 L1900.12 173.29 L1905.19 173.29 L1905.19 177.65 L1910.25 177.65 L1910.25 172.67 L1915.32 172.67 L1915.32 170.65 L1920.38 170.65 L1920.38 168.22 L1925.45 168.22 L1925.45 165.1 L1930.51 165.1 L1930.51 165.94 L1935.58 165.94 L1935.58 164.92 L1940.64 164.92 L1940.64 164.42 L1945.7 164.42 L1945.7 165.33 L1950.77 165.33 L1950.77 167.31 L1955.83 167.31 L1955.83 168.15 L1960.9 168.15 L1960.9 169 L1965.96 169 L1965.96 165.09 L1971.03 165.09 L1971.03 166.71 L1976.09 166.71 L1976.09 170.4 L1981.16 170.4 L1981.16 172.21 L1986.22 172.21 L1986.22 175.39 L1991.28 175.39 L1991.28 175.8 L1996.35 175.8 L1996.35 177.07 L2001.41 177.07 L2001.41 181.02 L2006.48 181.02 L2006.48 181.74 L2011.54 181.74 L2011.54 175.28 L2016.61 175.28 L2016.61 176.57 L2021.67 176.57 L2021.67 181.32 L2026.74 181.32 L2026.74 186.92 L2031.8 186.92 L2031.8 188.88 L2036.87 188.88 L2036.87 189.49 L2041.93 189.49 L2041.93 188.22 L2046.99 188.22 L2046.99 190.85 L2052.06 190.85 L2052.06 196.33 L2057.12 196.33 L2057.12 199.1 L2062.19 199.1 L2062.19 201.21 L2067.25 201.21 L2067.25 199.11 L2072.32 199.11 L2072.32 199.47 L2077.38 199.47 L2077.38 199.83 L2082.45 199.83 L2082.45 202.93 L2087.51 202.93 L2087.51 205.38 L2092.57 205.38 L2092.57 210 L2097.64 210 L2097.64 209.15 L2102.7 209.15 L2102.7 208.57 L2107.77 208.57 L2107.77 210.03 L2112.83 210.03 L2112.83 209.4 L2117.9 209.4 L2117.9 211.75 L2122.96 211.75 L2122.96 211.24 L2128.03 211.24 L2128.03 210.68 L2133.09 210.68 L2133.09 210.32 L2138.16 210.32 L2138.16 213.44 L2143.22 213.44 L2143.22 212.36 L2148.28 212.36 L2148.28 209.05 L2153.35 209.05 L2153.35 208.54 L2158.41 208.54 L2158.41 211.39 L2163.48 211.39 L2163.48 215.01 L2168.54 215.01 L2168.54 221.11 L2173.61 221.11 L2173.61 219.75 L2178.67 219.75 L2178.67 207.49 L2183.74 207.49 L2183.74 205.87 L2188.8 205.87 L2188.8 207.37 L2193.86 207.37 L2193.86 206.87 L2198.93 206.87 L2198.93 206.28 L2203.99 206.28 L2203.99 205.44 L2209.06 205.44 L2209.06 204.17 L2214.12 204.17 L2214.12 203.95 L2219.19 203.95 L2219.19 205.89 L2224.25 205.89 L2224.25 203.49 L2229.32 203.49 L2229.32 201.21 L2234.38 201.21 L2234.38 200.93 L2239.45 200.93 L2239.45 201.57 L2244.51 201.57 L2244.51 204.79 L2249.57 204.79 L2249.57 207.38 L2254.64 207.38 L2254.64 202.82 L2259.7 202.82 L2259.7 204.76 L2264.77 204.76 L2264.77 207.26 L2267.3 207.26" fill="none" stroke="#008b92" stroke-width="4.17" stroke-linejoin="round" stroke-linecap="round"/>
<path d="M1253.58 207.55 L1253.58 206.53 L1254.4 206.53 L1256.93 206.53 L1256.93 200.2 L1262 200.2 L1262 198.54 L1267.06 198.54 L1267.06 197.9 L1272.13 197.9 L1272.13 198.98 L1277.19 198.98 L1277.19 204.47 L1282.25 204.47 L1282.25 206.31 L1287.32 206.31 L1287.32 206.7 L1292.38 206.7 L1292.38 206.7 L1297.45 206.7 L1297.45 208.94 L1302.51 208.94 L1302.51 211.63 L1307.58 211.63 L1307.58 211.27 L1312.64 211.27 L1312.64 211.17 L1317.71 211.17 L1317.71 213.2 L1322.77 213.2 L1322.77 209.99 L1327.84 209.99 L1327.84 208.73 L1332.9 208.73 L1332.9 207.61 L1337.96 207.61 L1337.96 208.56 L1343.03 208.56 L1343.03 209.51 L1348.09 209.51 L1348.09 209.98 L1353.16 209.98 L1353.16 209.7 L1358.22 209.7 L1358.22 209.42 L1363.29 209.42 L1363.29 209.8 L1368.35 209.8 L1368.35 211.32 L1373.42 211.32 L1373.42 207.85 L1378.48 207.85 L1378.48 209.57 L1383.54 209.57 L1383.54 211.79 L1388.61 211.79 L1388.61 211.79 L1393.67 211.79 L1393.67 209.54 L1398.74 209.54 L1398.74 206.16 L1403.8 206.16 L1403.8 205 L1408.87 205 L1408.87 205.48 L1413.93 205.48 L1413.93 207 L1419 207 L1419 213.87 L1424.06 213.87 L1424.06 215.14 L1429.13 215.14 L1429.13 215.19 L1434.19 215.19 L1434.19 216.36 L1439.25 216.36 L1439.25 219.01 L1444.32 219.01 L1444.32 223.56 L1449.38 223.56 L1449.38 224.94 L1454.45 224.94 L1454.45 224.22 L1459.51 224.22 L1459.51 224.32 L1464.58 224.32 L1464.58 226.5 L1469.64 226.5 L1469.64 227.58 L1474.71 227.58 L1474.71 228.67 L1479.77 228.67 L1479.77 229.06 L1484.83 229.06 L1484.83 229.37 L1489.9 229.37 L1489.9 229.2 L1494.96 229.2 L1494.96 227.3 L1500.03 227.3 L1500.03 227.82 L1505.09 227.82 L1505.09 231.61 L1510.16 231.61 L1510.16 234.91 L1515.22 234.91 L1515.22 237.41 L1520.29 237.41 L1520.29 238.61 L1525.35 238.61 L1525.35 236.71 L1530.42 236.71 L1530.42 226.9 L1535.48 226.9 L1535.48 219.86 L1540.54 219.86 L1540.54 213.07 L1545.61 213.07 L1545.61 211.89 L1550.67 211.89 L1550.67 210.37 L1555.74 210.37 L1555.74 205.36 L1560.8 205.36 L1560.8 208.07 L1565.87 208.07 L1565.87 210.94 L1570.93 210.94 L1570.93 212.75 L1576 212.75 L1576 214.39 L1581.06 214.39 L1581.06 214.81 L1586.12 214.81 L1586.12 215.68 L1591.19 215.68 L1591.19 215.95 L1596.25 215.95 L1596.25 209.87 L1601.32 209.87 L1601.32 201.48 L1606.38 201.48 L1606.38 201.16 L1611.45 201.16 L1611.45 200.85 L1616.51 200.85 L1616.51 199.41 L1621.58 199.41 L1621.58 187.32 L1626.64 187.32 L1626.64 166.14 L1631.71 166.14 L1631.71 149.8 L1636.77 149.8 L1636.77 134.68 L1641.83 134.68 L1641.83 127.23 L1646.9 127.23 L1646.9 128.24 L1651.96 128.24 L1651.96 133.51 L1657.03 133.51 L1657.03 133.01 L1662.09 133.01 L1662.09 132 L1667.16 132 L1667.16 133.64 L1672.22 133.64 L1672.22 135.33 L1677.29 135.33 L1677.29 135.03 L1682.35 135.03 L1682.35 134.66 L1687.41 134.66 L1687.41 133.48 L1692.48 133.48 L1692.48 133.09 L1697.54 133.09 L1697.54 133.51 L1702.61 133.51 L1702.61 134.83 L1707.67 134.83 L1707.67 136.61 L1712.74 136.61 L1712.74 138.06 L1717.8 138.06 L1717.8 139.5 L1722.87 139.5 L1722.87 135.75 L1727.93 135.75 L1727.93 128.79 L1733 128.79 L1733 129.63 L1738.06 129.63 L1738.06 132.02 L1743.12 132.02 L1743.12 137.64 L1748.19 137.64 L1748.19 141.69 L1753.25 141.69 L1753.25 145.3 L1758.32 145.3 L1758.32 148.37 L1763.38 148.37 L1763.38 144.22 L1768.45 144.22 L1768.45 148.36 L1773.51 148.36 L1773.51 149.62 L1778.58 149.62 L1778.58 150.86 L1783.64 150.86 L1783.64 151.94 L1788.7 151.94 L1788.7 153.03 L1793.77 153.03 L1793.77 148.43 L1798.83 148.43 L1798.83 150.32 L1803.9 150.32 L1803.9 149.83 L1808.96 149.83 L1808.96 149.05 L1814.03 149.05 L1814.03 149.69 L1819.09 149.69 L1819.09 152.19 L1824.16 152.19 L1824.16 155.15 L1829.22 155.15 L1829.22 156.96 L1834.29 156.96 L1834.29 158.42 L1839.35 158.42 L1839.35 159.43 L1844.41 159.43 L1844.41 161.12 L1849.48 161.12 L1849.48 163.65 L1854.54 163.65 L1854.54 166.18 L1859.61 166.18 L1859.61 168.4 L1864.67 168.4 L1864.67 167.39 L1869.74 167.39 L1869.74 166.37 L1874.8 166.37 L1874.8 165.36 L1879.87 165.36 L1879.87 167.58 L1884.93 167.58 L1884.93 165.16 L1889.99 165.16 L1889.99 160.79 L1895.06 160.79 L1895.06 159.78 L1900.12 159.78 L1900.12 161.06 L1905.19 161.06 L1905.19 165 L1910.25 165 L1910.25 167.02 L1915.32 167.02 L1915.32 172.76 L1920.38 172.76 L1920.38 174.03 L1925.45 174.03 L1925.45 173.4 L1930.51 173.4 L1930.51 171.87 L1935.58 171.87 L1935.58 169.98 L1940.64 169.98 L1940.64 168.26 L1945.7 168.26 L1945.7 168.82 L1950.77 168.82 L1950.77 170.31 L1955.83 170.31 L1955.83 170.73 L1960.9 170.73 L1960.9 172.39 L1965.96 172.39 L1965.96 177.46 L1971.03 177.46 L1971.03 179.53 L1976.09 179.53 L1976.09 179.53 L1981.16 179.53 L1981.16 180.99 L1986.22 180.99 L1986.22 183.07 L1991.28 183.07 L1991.28 183.71 L1996.35 183.71 L1996.35 182.26 L2001.41 182.26 L2001.41 183.77 L2006.48 183.77 L2006.48 181.14 L2011.54 181.14 L2011.54 179.82 L2016.61 179.82 L2016.61 178.16 L2021.67 178.16 L2021.67 181.02 L2026.74 181.02 L2026.74 183.71 L2031.8 183.71 L2031.8 185.61 L2036.87 185.61 L2036.87 187.4 L2041.93 187.4 L2041.93 188.66 L2046.99 188.66 L2046.99 191.41 L2052.06 191.41 L2052.06 198.4 L2057.12 198.4 L2057.12 202.19 L2062.19 202.19 L2062.19 205.99 L2067.25 205.99 L2067.25 208.76 L2072.32 208.76 L2072.32 205.83 L2077.38 205.83 L2077.38 205 L2082.45 205 L2082.45 204.57 L2087.51 204.57 L2087.51 201.5 L2092.57 201.5 L2092.57 200.66 L2097.64 200.66 L2097.64 200.32 L2102.7 200.32 L2102.7 203.34 L2107.77 203.34 L2107.77 205.37 L2112.83 205.37 L2112.83 205.08 L2117.9 205.08 L2117.9 203.82 L2122.96 203.82 L2122.96 194.01 L2128.03 194.01 L2128.03 194.64 L2133.09 194.64 L2133.09 197.3 L2138.16 197.3 L2138.16 197.83 L2143.22 197.83 L2143.22 197.5 L2148.28 197.5 L2148.28 199.84 L2153.35 199.84 L2153.35 198.57 L2158.41 198.57 L2158.41 194.61 L2163.48 194.61 L2163.48 188.91 L2168.54 188.91 L2168.54 190.17 L2173.61 190.17 L2173.61 193.48 L2178.67 193.48 L2178.67 195.97 L2183.74 195.97 L2183.74 197.37 L2188.8 197.37 L2188.8 198.78 L2193.86 198.78 L2193.86 201.8 L2198.93 201.8 L2198.93 207.5 L2203.99 207.5 L2203.99 209.05 L2209.06 209.05 L2209.06 211.29 L2214.12 211.29 L2214.12 213.46 L2219.19 213.46 L2219.19 214.72 L2224.25 214.72 L2224.25 215.51 L2229.32 215.51 L2229.32 216.01 L2234.38 216.01 L2234.38 213.72 L2239.45 213.72 L2239.45 214.02 L2244.51 214.02 L2244.51 212.29 L2249.57 212.29 L2249.57 211.03 L2254.64 211.03 L2254.64 206.95 L2259.7 206.95 L2259.7 207.36 L2264.77 207.36 L2264.77 207.78 L2267.3 207.78" fill="none" stroke="#f15c58" stroke-width="4.17" stroke-linejoin="round" stroke-linecap="round"/>
<path d="M1253.58 207.55 L1253.58 207.24 L1254.4 207.24 L1256.93 207.24 L1256.93 205.34 L1262 205.34 L1262 204.31 L1267.06 204.31 L1267.06 203.46 L1272.13 203.46 L1272.13 198.38 L1277.19 198.38 L1277.19 199.65 L1282.25 199.65 L1282.25 195.87 L1287.32 195.87 L1287.32 195.38 L1292.38 195.38 L1292.38 196.11 L1297.45 196.11 L1297.45 196.88 L1302.51 196.88 L1302.51 197.73 L1307.58 197.73 L1307.58 197.39 L1312.64 197.39 L1312.64 195.61 L1317.71 195.61 L1317.71 195.05 L1322.77 195.05 L1322.77 194.48 L1327.84 194.48 L1327.84 194.21 L1332.9 194.21 L1332.9 197.39 L1337.96 197.39 L1337.96 197.81 L1343.03 197.81 L1343.03 198.19 L1348.09 198.19 L1348.09 197.82 L1353.16 197.82 L1353.16 197.46 L1358.22 197.46 L1358.22 195.56 L1363.29 195.56 L1363.29 194.52 L1368.35 194.52 L1368.35 196.04 L1373.42 196.04 L1373.42 194.76 L1378.48 194.76 L1378.48 192.89 L1383.54 192.89 L1383.54 192.26 L1388.61 192.26 L1388.61 191.62 L1393.67 191.62 L1393.67 193.1 L1398.74 193.1 L1398.74 194.44 L1403.8 194.44 L1403.8 195.16 L1408.87 195.16 L1408.87 195.18 L1413.93 195.18 L1413.93 193.66 L1419 193.66 L1419 190.42 L1424.06 190.42 L1424.06 188.87 L1429.13 188.87 L1429.13 188.87 L1434.19 188.87 L1434.19 189.01 L1439.25 189.01 L1439.25 189.52 L1444.32 189.52 L1444.32 190.02 L1449.38 190.02 L1449.38 190.53 L1454.45 190.53 L1454.45 192.92 L1459.51 192.92 L1459.51 194.52 L1464.58 194.52 L1464.58 195.93 L1469.64 195.93 L1469.64 197.02 L1474.71 197.02 L1474.71 198.1 L1479.77 198.1 L1479.77 201.31 L1484.83 201.31 L1484.83 200.04 L1489.9 200.04 L1489.9 198.78 L1494.96 198.78 L1494.96 194.49 L1500.03 194.49 L1500.03 191.18 L1505.09 191.18 L1505.09 190.76 L1510.16 190.76 L1510.16 194.46 L1515.22 194.46 L1515.22 196.99 L1520.29 196.99 L1520.29 198.73 L1525.35 198.73 L1525.35 199.75 L1530.42 199.75 L1530.42 202.04 L1535.48 202.04 L1535.48 204.49 L1540.54 204.49 L1540.54 206.51 L1545.61 206.51 L1545.61 209.62 L1550.67 209.62 L1550.67 213.84 L1555.74 213.84 L1555.74 216.95 L1560.8 216.95 L1560.8 218.72 L1565.87 218.72 L1565.87 219.74 L1570.93 219.74 L1570.93 220.75 L1576 220.75 L1576 221.76 L1581.06 221.76 L1581.06 224.46 L1586.12 224.46 L1586.12 224.63 L1591.19 224.63 L1591.19 223.68 L1596.25 223.68 L1596.25 227.83 L1601.32 227.83 L1601.32 231.81 L1606.38 231.81 L1606.38 232.9 L1611.45 232.9 L1611.45 230.52 L1616.51 230.52 L1616.51 231.79 L1621.58 231.79 L1621.58 236.15 L1626.64 236.15 L1626.64 241.62 L1631.71 241.62 L1631.71 246.69 L1636.77 246.69 L1636.77 252.18 L1641.83 252.18 L1641.83 257.02 L1646.9 257.02 L1646.9 260.18 L1651.96 260.18 L1651.96 259.17 L1657.03 259.17 L1657.03 258.69 L1662.09 258.69 L1662.09 259.33 L1667.16 259.33 L1667.16 258.09 L1672.22 258.09 L1672.22 256.83 L1677.29 256.83 L1677.29 261.58 L1682.35 261.58 L1682.35 260.57 L1687.41 260.57 L1687.41 257.82 L1692.48 257.82 L1692.48 258.6 L1697.54 258.6 L1697.54 258.64 L1702.61 258.64 L1702.61 256.11 L1707.67 256.11 L1707.67 254.76 L1712.74 254.76 L1712.74 254.99 L1717.8 254.99 L1717.8 255.62 L1722.87 255.62 L1722.87 254.35 L1727.93 254.35 L1727.93 253.86 L1733 253.86 L1733 253.44 L1738.06 253.44 L1738.06 244.78 L1743.12 244.78 L1743.12 242.64 L1748.19 242.64 L1748.19 245.68 L1753.25 245.68 L1753.25 242.46 L1758.32 242.46 L1758.32 242.97 L1763.38 242.97 L1763.38 245.24 L1768.45 245.24 L1768.45 238.96 L1773.51 238.96 L1773.51 238.96 L1778.58 238.96 L1778.58 234.64 L1783.64 234.64 L1783.64 235.85 L1788.7 235.85 L1788.7 232.69 L1793.77 232.69 L1793.77 235.69 L1798.83 235.69 L1798.83 238.86 L1803.9 238.86 L1803.9 241.82 L1808.96 241.82 L1808.96 244.77 L1814.03 244.77 L1814.03 247.73 L1819.09 247.73 L1819.09 249.52 L1824.16 249.52 L1824.16 250.74 L1829.22 250.74 L1829.22 247.18 L1834.29 247.18 L1834.29 231.5 L1839.35 231.5 L1839.35 225.8 L1844.41 225.8 L1844.41 226.49 L1849.48 226.49 L1849.48 228.77 L1854.54 228.77 L1854.54 228.77 L1859.61 228.77 L1859.61 230.37 L1864.67 230.37 L1864.67 232.48 L1869.74 232.48 L1869.74 237.43 L1874.8 237.43 L1874.8 238.33 L1879.87 238.33 L1879.87 232.17 L1884.93 232.17 L1884.93 232.17 L1889.99 232.17 L1889.99 233.89 L1895.06 233.89 L1895.06 238.28 L1900.12 238.28 L1900.12 241.82 L1905.19 241.82 L1905.19 247.81 L1910.25 247.81 L1910.25 252.62 L1915.32 252.62 L1915.32 255.15 L1920.38 255.15 L1920.38 257.68 L1925.45 257.68 L1925.45 260.16 L1930.51 260.16 L1930.51 257.62 L1935.58 257.62 L1935.58 257.92 L1940.64 257.92 L1940.64 258.9 L1945.7 258.9 L1945.7 257.89 L1950.77 257.89 L1950.77 256.72 L1955.83 256.72 L1955.83 258.33 L1960.9 258.33 L1960.9 258.15 L1965.96 258.15 L1965.96 252.1 L1971.03 252.1 L1971.03 250.41 L1976.09 250.41 L1976.09 247.88 L1981.16 247.88 L1981.16 246.93 L1986.22 246.93 L1986.22 248.95 L1991.28 248.95 L1991.28 247.43 L1996.35 247.43 L1996.35 240.83 L2001.41 240.83 L2001.41 243.72 L2006.48 243.72 L2006.48 248.54 L2011.54 248.54 L2011.54 253.6 L2016.61 253.6 L2016.61 256.27 L2021.67 256.27 L2021.67 250.95 L2026.74 250.95 L2026.74 251.45 L2031.8 251.45 L2031.8 252.57 L2036.87 252.57 L2036.87 254.26 L2041.93 254.26 L2041.93 257.35 L2046.99 257.35 L2046.99 261.78 L2052.06 261.78 L2052.06 266.21 L2057.12 266.21 L2057.12 265.93 L2062.19 265.93 L2062.19 264.3 L2067.25 264.3 L2067.25 267.52 L2072.32 267.52 L2072.32 268.27 L2077.38 268.27 L2077.38 261.12 L2082.45 261.12 L2082.45 255.85 L2087.51 255.85 L2087.51 253.09 L2092.57 253.09 L2092.57 253.41 L2097.64 253.41 L2097.64 250.95 L2102.7 250.95 L2102.7 241.38 L2107.77 241.38 L2107.77 240.13 L2112.83 240.13 L2112.83 234.41 L2117.9 234.41 L2117.9 230.55 L2122.96 230.55 L2122.96 229.72 L2128.03 229.72 L2128.03 230.99 L2133.09 230.99 L2133.09 223.73 L2138.16 223.73 L2138.16 224.74 L2143.22 224.74 L2143.22 227.95 L2148.28 227.95 L2148.28 228.46 L2153.35 228.46 L2153.35 230.37 L2158.41 230.37 L2158.41 234.28 L2163.48 234.28 L2163.48 239.21 L2168.54 239.21 L2168.54 241.15 L2173.61 241.15 L2173.61 240.68 L2178.67 240.68 L2178.67 241.95 L2183.74 241.95 L2183.74 242.84 L2188.8 242.84 L2188.8 230.47 L2193.86 230.47 L2193.86 231.1 L2198.93 231.1 L2198.93 229.08 L2203.99 229.08 L2203.99 229.58 L2209.06 229.58 L2209.06 233.71 L2214.12 233.71 L2214.12 236.09 L2219.19 236.09 L2219.19 235.58 L2224.25 235.58 L2224.25 235.16 L2229.32 235.16 L2229.32 234.73 L2234.38 234.73 L2234.38 229.5 L2239.45 229.5 L2239.45 227.78 L2244.51 227.78 L2244.51 231.35 L2249.57 231.35 L2249.57 231.83 L2254.64 231.83 L2254.64 225.93 L2259.7 225.93 L2259.7 220.58 L2264.77 220.58 L2264.77 208.39 L2267.3 208.39" fill="none" stroke="#48cdef" stroke-width="4.17" stroke-linejoin="round" stroke-linecap="round"/>
<path d="M1253.58 207.55 L1253.58 207.79 L1254.4 207.79 L1256.93 207.79 L1256.93 209.31 L1262 209.31 L1262 211.01 L1267.06 211.01 L1267.06 213.18 L1272.13 213.18 L1272.13 213.59 L1277.19 213.59 L1277.19 207.65 L1282.25 207.65 L1282.25 204.33 L1287.32 204.33 L1287.32 203.11 L1292.38 203.11 L1292.38 202.69 L1297.45 202.69 L1297.45 202.64 L1302.51 202.64 L1302.51 203.06 L1307.58 203.06 L1307.58 203.44 L1312.64 203.44 L1312.64 203.75 L1317.71 203.75 L1317.71 204.07 L1322.77 204.07 L1322.77 203.91 L1327.84 203.91 L1327.84 203.6 L1332.9 203.6 L1332.9 204.15 L1337.96 204.15 L1337.96 207.55 L1343.03 207.55 L1343.03 207.83 L1348.09 207.83 L1348.09 210.36 L1353.16 210.36 L1353.16 208.84 L1358.22 208.84 L1358.22 208.04 L1363.29 208.04 L1363.29 207.73 L1368.35 207.73 L1368.35 213.55 L1373.42 213.55 L1373.42 216.03 L1378.48 216.03 L1378.48 215.61 L1383.54 215.61 L1383.54 215.17 L1388.61 215.17 L1388.61 212.63 L1393.67 212.63 L1393.67 211.37 L1398.74 211.37 L1398.74 210.74 L1403.8 210.74 L1403.8 210.1 L1408.87 210.1 L1408.87 205.14 L1413.93 205.14 L1413.93 206.66 L1419 206.66 L1419 205.11 L1424.06 205.11 L1424.06 208.27 L1429.13 208.27 L1429.13 209 L1434.19 209 L1434.19 208.46 L1439.25 208.46 L1439.25 208.02 L1444.32 208.02 L1444.32 208.9 L1449.38 208.9 L1449.38 207.63 L1454.45 207.63 L1454.45 202.7 L1459.51 202.7 L1459.51 201.68 L1464.58 201.68 L1464.58 198.5 L1469.64 198.5 L1469.64 198.21 L1474.71 198.21 L1474.71 198.21 L1479.77 198.21 L1479.77 198.21 L1484.83 198.21 L1484.83 200.1 L1489.9 200.1 L1489.9 202.21 L1494.96 202.21 L1494.96 205.81 L1500.03 205.81 L1500.03 205.25 L1505.09 205.25 L1505.09 201.48 L1510.16 201.48 L1510.16 200.8 L1515.22 200.8 L1515.22 202.49 L1520.29 202.49 L1520.29 203.04 L1525.35 203.04 L1525.35 202.53 L1530.42 202.53 L1530.42 205.12 L1535.48 205.12 L1535.48 208.92 L1540.54 208.92 L1540.54 212.91 L1545.61 212.91 L1545.61 214.04 L1550.67 214.04 L1550.67 212.14 L1555.74 212.14 L1555.74 212 L1560.8 212 L1560.8 212.25 L1565.87 212.25 L1565.87 212.5 L1570.93 212.5 L1570.93 212.47 L1576 212.47 L1576 212.11 L1581.06 212.11 L1581.06 211.21 L1586.12 211.21 L1586.12 207.86 L1591.19 207.86 L1591.19 211.27 L1596.25 211.27 L1596.25 217.56 L1601.32 217.56 L1601.32 220.04 L1606.38 220.04 L1606.38 216.69 L1611.45 216.69 L1611.45 216.19 L1616.51 216.19 L1616.51 216.63 L1621.58 216.63 L1621.58 222.94 L1626.64 222.94 L1626.64 226.74 L1631.71 226.74 L1631.71 232.57 L1636.77 232.57 L1636.77 238.6 L1641.83 238.6 L1641.83 245.7 L1646.9 245.7 L1646.9 240.09 L1651.96 240.09 L1651.96 239.86 L1657.03 239.86 L1657.03 237.26 L1662.09 237.26 L1662.09 239.4 L1667.16 239.4 L1667.16 243.46 L1672.22 243.46 L1672.22 241.56 L1677.29 241.56 L1677.29 236.88 L1682.35 236.88 L1682.35 235.62 L1687.41 235.62 L1687.41 242.04 L1692.48 242.04 L1692.48 245.37 L1697.54 245.37 L1697.54 250.96 L1702.61 250.96 L1702.61 251.39 L1707.67 251.39 L1707.67 252.14 L1712.74 252.14 L1712.74 252.74 L1717.8 252.74 L1717.8 251.01 L1722.87 251.01 L1722.87 251.64 L1727.93 251.64 L1727.93 256.31 L1733 256.31 L1733 260.8 L1738.06 260.8 L1738.06 265.12 L1743.12 265.12 L1743.12 266.51 L1748.19 266.51 L1748.19 261.93 L1753.25 261.93 L1753.25 261.48 L1758.32 261.48 L1758.32 258.24 L1763.38 258.24 L1763.38 254.47 L1768.45 254.47 L1768.45 259.35 L1773.51 259.35 L1773.51 261.06 L1778.58 261.06 L1778.58 261.77 L1783.64 261.77 L1783.64 261.14 L1788.7 261.14 L1788.7 263.7 L1793.77 263.7 L1793.77 265.91 L1798.83 265.91 L1798.83 267.18 L1803.9 267.18 L1803.9 268.07 L1808.96 268.07 L1808.96 268.58 L1814.03 268.58 L1814.03 266.31 L1819.09 266.31 L1819.09 267.57 L1824.16 267.57 L1824.16 268.33 L1829.22 268.33 L1829.22 270.23 L1834.29 270.23 L1834.29 273.22 L1839.35 273.22 L1839.35 275.61 L1844.41 275.61 L1844.41 276.88 L1849.48 276.88 L1849.48 268.61 L1854.54 268.61 L1854.54 267.98 L1859.61 267.98 L1859.61 260.41 L1864.67 260.41 L1864.67 262.94 L1869.74 262.94 L1869.74 263.11 L1874.8 263.11 L1874.8 263.76 L1879.87 263.76 L1879.87 266.26 L1884.93 266.26 L1884.93 268.29 L1889.99 268.29 L1889.99 272.97 L1895.06 272.97 L1895.06 274.11 L1900.12 274.11 L1900.12 255.73 L1905.19 255.73 L1905.19 250.82 L1910.25 250.82 L1910.25 250.19 L1915.32 250.19 L1915.32 242.33 L1920.38 242.33 L1920.38 241.06 L1925.45 241.06 L1925.45 241.52 L1930.51 241.52 L1930.51 244.08 L1935.58 244.08 L1935.58 249.15 L1940.64 249.15 L1940.64 250.85 L1945.7 250.85 L1945.7 247.24 L1950.77 247.24 L1950.77 244.2 L1955.83 244.2 L1955.83 242.88 L1960.9 242.88 L1960.9 244.77 L1965.96 244.77 L1965.96 243.33 L1971.03 243.33 L1971.03 241.64 L1976.09 241.64 L1976.09 241.04 L1981.16 241.04 L1981.16 239.01 L1986.22 239.01 L1986.22 233.78 L1991.28 233.78 L1991.28 233.42 L1996.35 233.42 L1996.35 233.06 L2001.41 233.06 L2001.41 236.03 L2006.48 236.03 L2006.48 231.93 L2011.54 231.93 L2011.54 233.55 L2016.61 233.55 L2016.61 231.65 L2021.67 231.65 L2021.67 222 L2026.74 222 L2026.74 218.1 L2031.8 218.1 L2031.8 215.57 L2036.87 215.57 L2036.87 214.65 L2041.93 214.65 L2041.93 208.1 L2046.99 208.1 L2046.99 199.05 L2052.06 199.05 L2052.06 175.58 L2057.12 175.58 L2057.12 172.58 L2062.19 172.58 L2062.19 171.56 L2067.25 171.56 L2067.25 166.79 L2072.32 166.79 L2072.32 167.69 L2077.38 167.69 L2077.38 171.41 L2082.45 171.41 L2082.45 173.38 L2087.51 173.38 L2087.51 177.95 L2092.57 177.95 L2092.57 178.96 L2097.64 178.96 L2097.64 179.53 L2102.7 179.53 L2102.7 182.86 L2107.77 182.86 L2107.77 188.51 L2112.83 188.51 L2112.83 193.57 L2117.9 193.57 L2117.9 198.64 L2122.96 198.64 L2122.96 206.73 L2128.03 206.73 L2128.03 207.15 L2133.09 207.15 L2133.09 207.72 L2138.16 207.72 L2138.16 209.86 L2143.22 209.86 L2143.22 206.22 L2148.28 206.22 L2148.28 203.95 L2153.35 203.95 L2153.35 203.45 L2158.41 203.45 L2158.41 200.91 L2163.48 200.91 L2163.48 192.95 L2168.54 192.95 L2168.54 194.36 L2173.61 194.36 L2173.61 196.83 L2178.67 196.83 L2178.67 195.04 L2183.74 195.04 L2183.74 196.26 L2188.8 196.26 L2188.8 200.2 L2193.86 200.2 L2193.86 202.73 L2198.93 202.73 L2198.93 199.11 L2203.99 199.11 L2203.99 203.24 L2209.06 203.24 L2209.06 195.14 L2214.12 195.14 L2214.12 186.54 L2219.19 186.54 L2219.19 190.18 L2224.25 190.18 L2224.25 191.7 L2229.32 191.7 L2229.32 193.22 L2234.38 193.22 L2234.38 194.73 L2239.45 194.73 L2239.45 195.29 L2244.51 195.29 L2244.51 196.35 L2249.57 196.35 L2249.57 199.9 L2254.64 199.9 L2254.64 203.96 L2259.7 203.96 L2259.7 206.5 L2264.77 206.5 L2264.77 207.63 L2267.3 207.63" fill="none" stroke="#b955f1" stroke-width="4.17" stroke-linejoin="round" stroke-linecap="round"/>
</g>
<g clip-path="url(#c6)">
<ellipse cx="1760.85" cy="582" rx="506.45" ry="61" fill="#e5e5e5"/>
<path d="M1253.58 581.41 L1253.58 573.77 L1254.4 573.77 L1256.93 573.77 L1256.93 573.77 L1262 573.77 L1262 577.28 L1267.06 577.28 L1267.06 573.41 L1272.13 573.41 L1272.13 575.01 L1277.19 575.01 L1277.19 578.02 L1282.25 578.02 L1282.25 581.68 L1287.32 581.68 L1287.32 580.44 L1292.38 580.44 L1292.38 579.43 L1297.45 579.43 L1297.45 578.49 L1302.51 578.49 L1302.51 579.86 L1307.58 579.86 L1307.58 582.81 L1312.64 582.81 L1312.64 583.73 L1317.71 583.73 L1317.71 581.33 L1322.77 581.33 L1322.77 580.32 L1327.84 580.32 L1327.84 579.54 L1332.9 579.54 L1332.9 579.12 L1337.96 579.12 L1337.96 579.54 L1343.03 579.54 L1343.03 581.22 L1348.09 581.22 L1348.09 583.56 L1353.16 583.56 L1353.16 585.47 L1358.22 585.47 L1358.22 584.96 L1363.29 584.96 L1363.29 583.48 L1368.35 583.48 L1368.35 573.76 L1373.42 573.76 L1373.42 573.25 L1378.48 573.25 L1378.48 574.1 L1383.54 574.1 L1383.54 569.53 L1388.61 569.53 L1388.61 569.53 L1393.67 569.53 L1393.67 572.25 L1398.74 572.25 L1398.74 570.23 L1403.8 570.23 L1403.8 568.53 L1408.87 568.53 L1408.87 567.01 L1413.93 567.01 L1413.93 567.48 L1419 567.48 L1419 561.7 L1424.06 561.7 L1424.06 559.57 L1429.13 559.57 L1429.13 557.75 L1434.19 557.75 L1434.19 555.22 L1439.25 555.22 L1439.25 555.69 L1444.32 555.69 L1444.32 555.36 L1449.38 555.36 L1449.38 554.42 L1454.45 554.42 L1454.45 553.47 L1459.51 553.47 L1459.51 547.65 L1464.58 547.65 L1464.58 536.98 L1469.64 536.98 L1469.64 534.18 L1474.71 534.18 L1474.71 530.01 L1479.77 530.01 L1479.77 529.34 L1484.83 529.34 L1484.83 531.52 L1489.9 531.52 L1489.9 530.91 L1494.96 530.91 L1494.96 522.29 L1500.03 522.29 L1500.03 520.18 L1505.09 520.18 L1505.09 519.67 L1510.16 519.67 L1510.16 521.68 L1515.22 521.68 L1515.22 527.68 L1520.29 527.68 L1520.29 531.66 L1525.35 531.66 L1525.35 539.72 L1530.42 539.72 L1530.42 543.65 L1535.48 543.65 L1535.48 546.18 L1540.54 546.18 L1540.54 548.71 L1545.61 548.71 L1545.61 547.93 L1550.67 547.93 L1550.67 544.73 L1555.74 544.73 L1555.74 542.62 L1560.8 542.62 L1560.8 541.51 L1565.87 541.51 L1565.87 541.51 L1570.93 541.51 L1570.93 541.51 L1576 541.51 L1576 544.85 L1581.06 544.85 L1581.06 545.26 L1586.12 545.26 L1586.12 543.41 L1591.19 543.41 L1591.19 536.25 L1596.25 536.25 L1596.25 529.62 L1601.32 529.62 L1601.32 529.65 L1606.38 529.65 L1606.38 530.16 L1611.45 530.16 L1611.45 533.33 L1616.51 533.33 L1616.51 535.21 L1621.58 535.21 L1621.58 534.42 L1626.64 534.42 L1626.64 529.56 L1631.71 529.56 L1631.71 528.77 L1636.77 528.77 L1636.77 533.55 L1641.83 533.55 L1641.83 535.06 L1646.9 535.06 L1646.9 535.81 L1651.96 535.81 L1651.96 536.17 L1657.03 536.17 L1657.03 538.46 L1662.09 538.46 L1662.09 543.96 L1667.16 543.96 L1667.16 548.48 L1672.22 548.48 L1672.22 550.65 L1677.29 550.65 L1677.29 551.66 L1682.35 551.66 L1682.35 554.75 L1687.41 554.75 L1687.41 558.85 L1692.48 558.85 L1692.48 556.21 L1697.54 556.21 L1697.54 547.83 L1702.61 547.83 L1702.61 545.23 L1707.67 545.23 L1707.67 541.18 L1712.74 541.18 L1712.74 539.81 L1717.8 539.81 L1717.8 544.9 L1722.87 544.9 L1722.87 544.9 L1727.93 544.9 L1727.93 544.44 L1733 544.44 L1733 543.7 L1738.06 543.7 L1738.06 542.18 L1743.12 542.18 L1743.12 542.07 L1748.19 542.07 L1748.19 543.09 L1753.25 543.09 L1753.25 543.95 L1758.32 543.95 L1758.32 543.32 L1763.38 543.32 L1763.38 545.41 L1768.45 545.41 L1768.45 546.33 L1773.51 546.33 L1773.51 545.83 L1778.58 545.83 L1778.58 544.67 L1783.64 544.67 L1783.64 540.21 L1788.7 540.21 L1788.7 537.9 L1793.77 537.9 L1793.77 536.63 L1798.83 536.63 L1798.83 534.72 L1803.9 534.72 L1803.9 534.72 L1808.96 534.72 L1808.96 534.87 L1814.03 534.87 L1814.03 535.88 L1819.09 535.88 L1819.09 538 L1824.16 538 L1824.16 538.24 L1829.22 538.24 L1829.22 536.41 L1834.29 536.41 L1834.29 535.65 L1839.35 535.65 L1839.35 540.66 L1844.41 540.66 L1844.41 534.9 L1849.48 534.9 L1849.48 530.95 L1854.54 530.95 L1854.54 532.1 L1859.61 532.1 L1859.61 533.5 L1864.67 533.5 L1864.67 532.81 L1869.74 532.81 L1869.74 531.32 L1874.8 531.32 L1874.8 533.38 L1879.87 533.38 L1879.87 538.78 L1884.93 538.78 L1884.93 542.19 L1889.99 542.19 L1889.99 541.77 L1895.06 541.77 L1895.06 541.99 L1900.12 541.99 L1900.12 543.26 L1905.19 543.26 L1905.19 544.53 L1910.25 544.53 L1910.25 540.64 L1915.32 540.64 L1915.32 540.01 L1920.38 540.01 L1920.38 547.8 L1925.45 547.8 L1925.45 550.59 L1930.51 550.59 L1930.51 551.48 L1935.58 551.48 L1935.58 550.85 L1940.64 550.85 L1940.64 550.18 L1945.7 550.18 L1945.7 553.4 L1950.77 553.4 L1950.77 549.15 L1955.83 549.15 L1955.83 549.15 L1960.9 549.15 L1960.9 551.86 L1965.96 551.86 L1965.96 552.55 L1971.03 552.55 L1971.03 547.45 L1976.09 547.45 L1976.09 551.16 L1981.16 551.16 L1981.16 555.46 L1986.22 555.46 L1986.22 556.98 L1991.28 556.98 L1991.28 557.64 L1996.35 557.64 L1996.35 555.92 L2001.41 555.92 L2001.41 554.64 L2006.48 554.64 L2006.48 553.16 L2011.54 553.16 L2011.54 548.09 L2016.61 548.09 L2016.61 541.05 L2021.67 541.05 L2021.67 544.03 L2026.74 544.03 L2026.74 546 L2031.8 546 L2031.8 539.45 L2036.87 539.45 L2036.87 534.72 L2041.93 534.72 L2041.93 535.82 L2046.99 535.82 L2046.99 539.6 L2052.06 539.6 L2052.06 540.86 L2057.12 540.86 L2057.12 543.17 L2062.19 543.17 L2062.19 544.9 L2067.25 544.9 L2067.25 544.9 L2072.32 544.9 L2072.32 549.15 L2077.38 549.15 L2077.38 548.14 L2082.45 548.14 L2082.45 546.1 L2087.51 546.1 L2087.51 545.75 L2092.57 545.75 L2092.57 545.75 L2097.64 545.75 L2097.64 546.88 L2102.7 546.88 L2102.7 548.97 L2107.77 548.97 L2107.77 550.49 L2112.83 550.49 L2112.83 555.02 L2117.9 555.02 L2117.9 553.6 L2122.96 553.6 L2122.96 551.7 L2128.03 551.7 L2128.03 554.24 L2133.09 554.24 L2133.09 554.24 L2138.16 554.24 L2138.16 555.36 L2143.22 555.36 L2143.22 557 L2148.28 557 L2148.28 559.34 L2153.35 559.34 L2153.35 559.29 L2158.41 559.29 L2158.41 558.28 L2163.48 558.28 L2163.48 552.55 L2168.54 552.55 L2168.54 552.55 L2173.61 552.55 L2173.61 554.88 L2178.67 554.88 L2178.67 557.1 L2183.74 557.1 L2183.74 557.64 L2188.8 557.64 L2188.8 554.24 L2193.86 554.24 L2193.86 554.24 L2198.93 554.24 L2198.93 554.24 L2203.99 554.24 L2203.99 554.24 L2209.06 554.24 L2209.06 559.18 L2214.12 559.18 L2214.12 556.69 L2219.19 556.69 L2219.19 555.97 L2224.25 555.97 L2224.25 560.34 L2229.32 560.34 L2229.32 564.58 L2234.38 564.58 L2234.38 568.16 L2239.45 568.16 L2239.45 570.47 L2244.51 570.47 L2244.51 573.62 L2249.57 573.62 L2249.57 576.15 L2254.64 576.15 L2254.64 578.68 L2259.7 578.68 L2259.7 580.17 L2264.77 580.17 L2264.77 581.57 L2267.3 581.57" fill="none" stroke="#008b92" stroke-width="4.17" stroke-linejoin="round" stroke-linecap="round"/>
<path d="M1253.58 581.41 L1253.58 581.96 L1254.4 581.96 L1256.93 581.96 L1256.93 585.14 L1262 585.14 L1262 587.25 L1267.06 587.25 L1267.06 589.13 L1272.13 589.13 L1272.13 589.63 L1277.19 589.63 L1277.19 586.95 L1282.25 586.95 L1282.25 586.87 L1287.32 586.87 L1287.32 588.81 L1292.38 588.81 L1292.38 593.97 L1297.45 593.97 L1297.45 599.15 L1302.51 599.15 L1302.51 597.53 L1307.58 597.53 L1307.58 589.78 L1312.64 589.78 L1312.64 588.52 L1317.71 588.52 L1317.71 589.16 L1322.77 589.16 L1322.77 590.43 L1327.84 590.43 L1327.84 592.64 L1332.9 592.64 L1332.9 594 L1337.96 594 L1337.96 593.64 L1343.03 593.64 L1343.03 593.28 L1348.09 593.28 L1348.09 592.97 L1353.16 592.97 L1353.16 592.65 L1358.22 592.65 L1358.22 597.64 L1363.29 597.64 L1363.29 600.17 L1368.35 600.17 L1368.35 601.79 L1373.42 601.79 L1373.42 601.75 L1378.48 601.75 L1378.48 599.72 L1383.54 599.72 L1383.54 598.57 L1388.61 598.57 L1388.61 599.07 L1393.67 599.07 L1393.67 600.21 L1398.74 600.21 L1398.74 601.66 L1403.8 601.66 L1403.8 606.69 L1408.87 606.69 L1408.87 606.88 L1413.93 606.88 L1413.93 600.7 L1419 600.7 L1419 599.02 L1424.06 599.02 L1424.06 594.39 L1429.13 594.39 L1429.13 597.39 L1434.19 597.39 L1434.19 598.76 L1439.25 598.76 L1439.25 603.13 L1444.32 603.13 L1444.32 604.92 L1449.38 604.92 L1449.38 605.81 L1454.45 605.81 L1454.45 601.22 L1459.51 601.22 L1459.51 600.87 L1464.58 600.87 L1464.58 601.72 L1469.64 601.72 L1469.64 600.63 L1474.71 600.63 L1474.71 603 L1479.77 603 L1479.77 598.27 L1484.83 598.27 L1484.83 584.81 L1489.9 584.81 L1489.9 584.81 L1494.96 584.81 L1494.96 584 L1500.03 584 L1500.03 584.1 L1505.09 584.1 L1505.09 584.98 L1510.16 584.98 L1510.16 569.47 L1515.22 569.47 L1515.22 554.2 L1520.29 554.2 L1520.29 538.94 L1525.35 538.94 L1525.35 523.66 L1530.42 523.66 L1530.42 522.22 L1535.48 522.22 L1535.48 522.41 L1540.54 522.41 L1540.54 522.63 L1545.61 522.63 L1545.61 521.98 L1550.67 521.98 L1550.67 521.22 L1555.74 521.22 L1555.74 518.58 L1560.8 518.58 L1560.8 519.28 L1565.87 519.28 L1565.87 526.12 L1570.93 526.12 L1570.93 528.93 L1576 528.93 L1576 528.08 L1581.06 528.08 L1581.06 523.38 L1586.12 523.38 L1586.12 521.51 L1591.19 521.51 L1591.19 522.25 L1596.25 522.25 L1596.25 526.29 L1601.32 526.29 L1601.32 527.37 L1606.38 527.37 L1606.38 528.46 L1611.45 528.46 L1611.45 530.93 L1616.51 530.93 L1616.51 533.93 L1621.58 533.93 L1621.58 535.54 L1626.64 535.54 L1626.64 535.3 L1631.71 535.3 L1631.71 538.79 L1636.77 538.79 L1636.77 535.42 L1641.83 535.42 L1641.83 531.75 L1646.9 531.75 L1646.9 531.32 L1651.96 531.32 L1651.96 530.13 L1657.03 530.13 L1657.03 529.63 L1662.09 529.63 L1662.09 534.63 L1667.16 534.63 L1667.16 540.08 L1672.22 540.08 L1672.22 543.98 L1677.29 543.98 L1677.29 539.28 L1682.35 539.28 L1682.35 535.71 L1687.41 535.71 L1687.41 536.37 L1692.48 536.37 L1692.48 540.52 L1697.54 540.52 L1697.54 543.41 L1702.61 543.41 L1702.61 541.84 L1707.67 541.84 L1707.67 543.18 L1712.74 543.18 L1712.74 549.51 L1717.8 549.51 L1717.8 549.41 L1722.87 549.41 L1722.87 548.17 L1727.93 548.17 L1727.93 548.18 L1733 548.18 L1733 549.45 L1738.06 549.45 L1738.06 550.71 L1743.12 550.71 L1743.12 555.38 L1748.19 555.38 L1748.19 558.94 L1753.25 558.94 L1753.25 558.78 L1758.32 558.78 L1758.32 559.86 L1763.38 559.86 L1763.38 560.36 L1768.45 560.36 L1768.45 557.64 L1773.51 557.64 L1773.51 557.64 L1778.58 557.64 L1778.58 551.54 L1783.64 551.54 L1783.64 554.56 L1788.7 554.56 L1788.7 551.54 L1793.77 551.54 L1793.77 551.67 L1798.83 551.67 L1798.83 551.3 L1803.9 551.3 L1803.9 551.54 L1808.96 551.54 L1808.96 554.46 L1814.03 554.46 L1814.03 554.07 L1819.09 554.07 L1819.09 552.8 L1824.16 552.8 L1824.16 551.53 L1829.22 551.53 L1829.22 551.62 L1834.29 551.62 L1834.29 553.31 L1839.35 553.31 L1839.35 551.98 L1844.41 551.98 L1844.41 551.12 L1849.48 551.12 L1849.48 553.65 L1854.54 553.65 L1854.54 557.13 L1859.61 557.13 L1859.61 559.55 L1864.67 559.55 L1864.67 554.39 L1869.74 554.39 L1869.74 556.52 L1874.8 556.52 L1874.8 559.74 L1879.87 559.74 L1879.87 559.44 L1884.93 559.44 L1884.93 550.4 L1889.99 550.4 L1889.99 545.1 L1895.06 545.1 L1895.06 543.41 L1900.12 543.41 L1900.12 541.4 L1905.19 541.4 L1905.19 541.11 L1910.25 541.11 L1910.25 541.51 L1915.32 541.51 L1915.32 539.24 L1920.38 539.24 L1920.38 537.84 L1925.45 537.84 L1925.45 542.17 L1930.51 542.17 L1930.51 544.04 L1935.58 544.04 L1935.58 540.66 L1940.64 540.66 L1940.64 541.46 L1945.7 541.46 L1945.7 545.79 L1950.77 545.79 L1950.77 547.31 L1955.83 547.31 L1955.83 549.84 L1960.9 549.84 L1960.9 552.37 L1965.96 552.37 L1965.96 547.45 L1971.03 547.45 L1971.03 547.45 L1976.09 547.45 L1976.09 550.48 L1981.16 550.48 L1981.16 549.84 L1986.22 549.84 L1986.22 549.21 L1991.28 549.21 L1991.28 553.13 L1996.35 553.13 L1996.35 556.24 L2001.41 556.24 L2001.41 558.84 L2006.48 558.84 L2006.48 559.23 L2011.54 559.23 L2011.54 558.72 L2016.61 558.72 L2016.61 556.45 L2021.67 556.45 L2021.67 555.94 L2026.74 555.94 L2026.74 556.49 L2031.8 556.49 L2031.8 556.65 L2036.87 556.65 L2036.87 558.82 L2041.93 558.82 L2041.93 559.12 L2046.99 559.12 L2046.99 557.85 L2052.06 557.85 L2052.06 559.05 L2057.12 559.05 L2057.12 560.94 L2062.19 560.94 L2062.19 560.3 L2067.25 560.3 L2067.25 563.83 L2072.32 563.83 L2072.32 565.28 L2077.38 565.28 L2077.38 565.28 L2082.45 565.28 L2082.45 565.92 L2087.51 565.92 L2087.51 568.68 L2092.57 568.68 L2092.57 570.13 L2097.64 570.13 L2097.64 573.42 L2102.7 573.42 L2102.7 574.88 L2107.77 574.88 L2107.77 575.47 L2112.83 575.47 L2112.83 576.92 L2117.9 576.92 L2117.9 581.52 L2122.96 581.52 L2122.96 582.79 L2128.03 582.79 L2128.03 582.36 L2133.09 582.36 L2133.09 579.72 L2138.16 579.72 L2138.16 579.72 L2143.22 579.72 L2143.22 579.96 L2148.28 579.96 L2148.28 580.37 L2153.35 580.37 L2153.35 578.5 L2158.41 578.5 L2158.41 579.72 L2163.48 579.72 L2163.48 579.72 L2168.54 579.72 L2168.54 581.04 L2173.61 581.04 L2173.61 582.49 L2178.67 582.49 L2178.67 583.16 L2183.74 583.16 L2183.74 586.53 L2188.8 586.53 L2188.8 588.42 L2193.86 588.42 L2193.86 584.81 L2198.93 584.81 L2198.93 587.57 L2203.99 587.57 L2203.99 587.86 L2209.06 587.86 L2209.06 587.63 L2214.12 587.63 L2214.12 588.05 L2219.19 588.05 L2219.19 588.21 L2224.25 588.21 L2224.25 588.02 L2229.32 588.02 L2229.32 587.38 L2234.38 587.38 L2234.38 586.95 L2239.45 586.95 L2239.45 586.53 L2244.51 586.53 L2244.51 588.1 L2249.57 588.1 L2249.57 587.02 L2254.64 587.02 L2254.64 585.55 L2259.7 585.55 L2259.7 583.94 L2264.77 583.94 L2264.77 582.33 L2267.3 582.33" fill="none" stroke="#f15c58" stroke-width="4.17" stroke-linejoin="round" stroke-linecap="round"/>
<path d="M1253.58 580.56 L1253.58 580.24 L1254.4 580.24 L1256.93 580.24 L1256.93 578.21 L1262 578.21 L1262 577.58 L1267.06 577.58 L1267.06 578.42 L1272.13 578.42 L1272.13 574.68 L1277.19 574.68 L1277.19 570.89 L1282.25 570.89 L1282.25 573.06 L1287.32 573.06 L1287.32 571.77 L1292.38 571.77 L1292.38 568.58 L1297.45 568.58 L1297.45 570.05 L1302.51 570.05 L1302.51 574.23 L1307.58 574.23 L1307.58 578.51 L1312.64 578.51 L1312.64 582.29 L1317.71 582.29 L1317.71 581.84 L1322.77 581.84 L1322.77 582.84 L1327.84 582.84 L1327.84 584.74 L1332.9 584.74 L1332.9 587.53 L1337.96 587.53 L1337.96 591.6 L1343.03 591.6 L1343.03 591.56 L1348.09 591.56 L1348.09 590.71 L1353.16 590.71 L1353.16 589.52 L1358.22 589.52 L1358.22 583.25 L1363.29 583.25 L1363.29 581.47 L1368.35 581.47 L1368.35 583.37 L1373.42 583.37 L1373.42 586.29 L1378.48 586.29 L1378.48 583.1 L1383.54 583.1 L1383.54 582.47 L1388.61 582.47 L1388.61 583.11 L1393.67 583.11 L1393.67 583.46 L1398.74 583.46 L1398.74 581.94 L1403.8 581.94 L1403.8 580.58 L1408.87 580.58 L1408.87 580.31 L1413.93 580.31 L1413.93 582.21 L1419 582.21 L1419 583.49 L1424.06 583.49 L1424.06 588.21 L1429.13 588.21 L1429.13 588.21 L1434.19 588.21 L1434.19 585.79 L1439.25 585.79 L1439.25 584.86 L1444.32 584.86 L1444.32 578.95 L1449.38 578.95 L1449.38 579.15 L1454.45 579.15 L1454.45 582.76 L1459.51 582.76 L1459.51 584.66 L1464.58 584.66 L1464.58 586.14 L1469.64 586.14 L1469.64 587.59 L1474.71 587.59 L1474.71 587.63 L1479.77 587.63 L1479.77 586.61 L1484.83 586.61 L1484.83 592.46 L1489.9 592.46 L1489.9 593.97 L1494.96 593.97 L1494.96 598.07 L1500.03 598.07 L1500.03 600.92 L1505.09 600.92 L1505.09 602.44 L1510.16 602.44 L1510.16 605.39 L1515.22 605.39 L1515.22 609.55 L1520.29 609.55 L1520.29 614.61 L1525.35 614.61 L1525.35 619.68 L1530.42 619.68 L1530.42 621.91 L1535.48 621.91 L1535.48 621.4 L1540.54 621.4 L1540.54 624.13 L1545.61 624.13 L1545.61 623.67 L1550.67 623.67 L1550.67 623.84 L1555.74 623.84 L1555.74 628.96 L1560.8 628.96 L1560.8 632.71 L1565.87 632.71 L1565.87 616.2 L1570.93 616.2 L1570.93 613.86 L1576 613.86 L1576 613.52 L1581.06 613.52 L1581.06 615.04 L1586.12 615.04 L1586.12 619.32 L1591.19 619.32 L1591.19 620.98 L1596.25 620.98 L1596.25 622.24 L1601.32 622.24 L1601.32 622.53 L1606.38 622.53 L1606.38 621.41 L1611.45 621.41 L1611.45 623.31 L1616.51 623.31 L1616.51 626.64 L1621.58 626.64 L1621.58 622.98 L1626.64 622.98 L1626.64 621.71 L1631.71 621.71 L1631.71 621.9 L1636.77 621.9 L1636.77 625.59 L1641.83 625.59 L1641.83 627.61 L1646.9 627.61 L1646.9 631.5 L1651.96 631.5 L1651.96 632.35 L1657.03 632.35 L1657.03 633.19 L1662.09 633.19 L1662.09 638.61 L1667.16 638.61 L1667.16 643.03 L1672.22 643.03 L1672.22 646.68 L1677.29 646.68 L1677.29 642.24 L1682.35 642.24 L1682.35 641.23 L1687.41 641.23 L1687.41 636.6 L1692.48 636.6 L1692.48 639.71 L1697.54 639.71 L1697.54 638.7 L1702.61 638.7 L1702.61 635.92 L1707.67 635.92 L1707.67 636.56 L1712.74 636.56 L1712.74 636.01 L1717.8 636.01 L1717.8 637.74 L1722.87 637.74 L1722.87 641.36 L1727.93 641.36 L1727.93 645.09 L1733 645.09 L1733 639.76 L1738.06 639.76 L1738.06 638.75 L1743.12 638.75 L1743.12 636.88 L1748.19 636.88 L1748.19 634.35 L1753.25 634.35 L1753.25 637.32 L1758.32 637.32 L1758.32 636.68 L1763.38 636.68 L1763.38 639.74 L1768.45 639.74 L1768.45 638.48 L1773.51 638.48 L1773.51 641.58 L1778.58 641.58 L1778.58 640.94 L1783.64 640.94 L1783.64 639.42 L1788.7 639.42 L1788.7 645.26 L1793.77 645.26 L1793.77 646.28 L1798.83 646.28 L1798.83 645.12 L1803.9 645.12 L1803.9 643.81 L1808.96 643.81 L1808.96 648.57 L1814.03 648.57 L1814.03 651.28 L1819.09 651.28 L1819.09 650.41 L1824.16 650.41 L1824.16 651.72 L1829.22 651.72 L1829.22 648.38 L1834.29 648.38 L1834.29 647.54 L1839.35 647.54 L1839.35 646.88 L1844.41 646.88 L1844.41 647.5 L1849.48 647.5 L1849.48 646.24 L1854.54 646.24 L1854.54 643.36 L1859.61 643.36 L1859.61 642.54 L1864.67 642.54 L1864.67 647.37 L1869.74 647.37 L1869.74 646.66 L1874.8 646.66 L1874.8 645.18 L1879.87 645.18 L1879.87 648.47 L1884.93 648.47 L1884.93 653.26 L1889.99 653.26 L1889.99 656.1 L1895.06 656.1 L1895.06 655.6 L1900.12 655.6 L1900.12 659.58 L1905.19 659.58 L1905.19 660.84 L1910.25 660.84 L1910.25 662.55 L1915.32 662.55 L1915.32 665.29 L1920.38 665.29 L1920.38 668.46 L1925.45 668.46 L1925.45 669.7 L1930.51 669.7 L1930.51 668.43 L1935.58 668.43 L1935.58 663.18 L1940.64 663.18 L1940.64 663.34 L1945.7 663.34 L1945.7 666.91 L1950.77 666.91 L1950.77 664.62 L1955.83 664.62 L1955.83 664.62 L1960.9 664.62 L1960.9 660.15 L1965.96 660.15 L1965.96 655.28 L1971.03 655.28 L1971.03 659.17 L1976.09 659.17 L1976.09 655.12 L1981.16 655.12 L1981.16 654.49 L1986.22 654.49 L1986.22 646.56 L1991.28 646.56 L1991.28 645.03 L1996.35 645.03 L1996.35 640.8 L2001.41 640.8 L2001.41 637.64 L2006.48 637.64 L2006.48 638.57 L2011.54 638.57 L2011.54 641.9 L2016.61 641.9 L2016.61 646.62 L2021.67 646.62 L2021.67 641.68 L2026.74 641.68 L2026.74 641.22 L2031.8 641.22 L2031.8 641.08 L2036.87 641.08 L2036.87 642.35 L2041.93 642.35 L2041.93 643.28 L2046.99 643.28 L2046.99 642.65 L2052.06 642.65 L2052.06 645.36 L2057.12 645.36 L2057.12 648.73 L2062.19 648.73 L2062.19 648.3 L2067.25 648.3 L2067.25 647.03 L2072.32 647.03 L2072.32 644.89 L2077.38 644.89 L2077.38 641.36 L2082.45 641.36 L2082.45 641.35 L2087.51 641.35 L2087.51 642.03 L2092.57 642.03 L2092.57 635.69 L2097.64 635.69 L2097.64 635.19 L2102.7 635.19 L2102.7 629.63 L2107.77 629.63 L2107.77 627.13 L2112.83 627.13 L2112.83 625.2 L2117.9 625.2 L2117.9 624.14 L2122.96 624.14 L2122.96 621.54 L2128.03 621.54 L2128.03 620.02 L2133.09 620.02 L2133.09 618.87 L2138.16 618.87 L2138.16 617.53 L2143.22 617.53 L2143.22 613.35 L2148.28 613.35 L2148.28 613.22 L2153.35 613.22 L2153.35 614.23 L2158.41 614.23 L2158.41 615.6 L2163.48 615.6 L2163.48 617.05 L2168.54 617.05 L2168.54 615.55 L2173.61 615.55 L2173.61 610.11 L2178.67 610.11 L2178.67 607.7 L2183.74 607.7 L2183.74 603.21 L2188.8 603.21 L2188.8 597.92 L2193.86 597.92 L2193.86 600.07 L2198.93 600.07 L2198.93 600.09 L2203.99 600.09 L2203.99 590.86 L2209.06 590.86 L2209.06 590.25 L2214.12 590.25 L2214.12 589.77 L2219.19 589.77 L2219.19 589.35 L2224.25 589.35 L2224.25 588.3 L2229.32 588.3 L2229.32 587.36 L2234.38 587.36 L2234.38 585.19 L2239.45 585.19 L2239.45 584.01 L2244.51 584.01 L2244.51 580.15 L2249.57 580.15 L2249.57 579.55 L2254.64 579.55 L2254.64 578.02 L2259.7 578.02 L2259.7 581.58 L2264.77 581.58 L2264.77 581.85 L2267.3 581.85" fill="none" stroke="#48cdef" stroke-width="4.17" stroke-linejoin="round" stroke-linecap="round"/>
<path d="M1253.58 581.41 L1253.58 582.23 L1254.4 582.23 L1256.93 582.23 L1256.93 587.29 L1262 587.29 L1262 589.04 L1267.06 589.04 L1267.06 590.12 L1272.13 590.12 L1272.13 591.64 L1277.19 591.64 L1277.19 591.56 L1282.25 591.56 L1282.25 588.31 L1287.32 588.31 L1287.32 584.99 L1292.38 584.99 L1292.38 584.15 L1297.45 584.15 L1297.45 588.21 L1302.51 588.21 L1302.51 576.73 L1307.58 576.73 L1307.58 581.41 L1312.64 581.41 L1312.64 572.92 L1317.71 572.92 L1317.71 578.23 L1322.77 578.23 L1322.77 578.74 L1327.84 578.74 L1327.84 573.26 L1332.9 573.26 L1332.9 567.66 L1337.96 567.66 L1337.96 565.88 L1343.03 565.88 L1343.03 565.07 L1348.09 565.07 L1348.09 562.73 L1353.16 562.73 L1353.16 562.73 L1358.22 562.73 L1358.22 562.73 L1363.29 562.73 L1363.29 563.92 L1368.35 563.92 L1368.35 569.76 L1373.42 569.76 L1373.42 570.4 L1378.48 570.4 L1378.48 571.41 L1383.54 571.41 L1383.54 575.48 L1388.61 575.48 L1388.61 576.11 L1393.67 576.11 L1393.67 572.94 L1398.74 572.94 L1398.74 572.92 L1403.8 572.92 L1403.8 572.92 L1408.87 572.92 L1408.87 574.59 L1413.93 574.59 L1413.93 578.33 L1419 578.33 L1419 579.34 L1424.06 579.34 L1424.06 584.21 L1429.13 584.21 L1429.13 585.06 L1434.19 585.06 L1434.19 587.46 L1439.25 587.46 L1439.25 590.35 L1444.32 590.35 L1444.32 591.07 L1449.38 591.07 L1449.38 591.94 L1454.45 591.94 L1454.45 593.21 L1459.51 593.21 L1459.51 597.98 L1464.58 597.98 L1464.58 603.04 L1469.64 603.04 L1469.64 606.07 L1474.71 606.07 L1474.71 607.85 L1479.77 607.85 L1479.77 613.02 L1484.83 613.02 L1484.83 615.4 L1489.9 615.4 L1489.9 620.18 L1494.96 620.18 L1494.96 625.46 L1500.03 625.46 L1500.03 624.95 L1505.09 624.95 L1505.09 624.17 L1510.16 624.17 L1510.16 623.16 L1515.22 623.16 L1515.22 628.47 L1520.29 628.47 L1520.29 634.14 L1525.35 634.14 L1525.35 638.77 L1530.42 638.77 L1530.42 642.13 L1535.48 642.13 L1535.48 640.42 L1540.54 640.42 L1540.54 634.4 L1545.61 634.4 L1545.61 633.39 L1550.67 633.39 L1550.67 637.2 L1555.74 637.2 L1555.74 636.7 L1560.8 636.7 L1560.8 635.92 L1565.87 635.92 L1565.87 641.01 L1570.93 641.01 L1570.93 642.28 L1576 642.28 L1576 643.58 L1581.06 643.58 L1581.06 645.1 L1586.12 645.1 L1586.12 647.14 L1591.19 647.14 L1591.19 648.88 L1596.25 648.88 L1596.25 654.43 L1601.32 654.43 L1601.32 649.65 L1606.38 649.65 L1606.38 650.22 L1611.45 650.22 L1611.45 650.94 L1616.51 650.94 L1616.51 635.93 L1621.58 635.93 L1621.58 638.96 L1626.64 638.96 L1626.64 638.46 L1631.71 638.46 L1631.71 639.17 L1636.77 639.17 L1636.77 640.44 L1641.83 640.44 L1641.83 640.76 L1646.9 640.76 L1646.9 634.9 L1651.96 634.9 L1651.96 628.26 L1657.03 628.26 L1657.03 631.86 L1662.09 631.86 L1662.09 621.55 L1667.16 621.55 L1667.16 607.08 L1672.22 607.08 L1672.22 592.76 L1677.29 592.76 L1677.29 594.06 L1682.35 594.06 L1682.35 597.65 L1687.41 597.65 L1687.41 595.3 L1692.48 595.3 L1692.48 594.19 L1697.54 594.19 L1697.54 598.94 L1702.61 598.94 L1702.61 603.78 L1707.67 603.78 L1707.67 608.22 L1712.74 608.22 L1712.74 609.53 L1717.8 609.53 L1717.8 597.63 L1722.87 597.63 L1722.87 594.15 L1727.93 594.15 L1727.93 592.32 L1733 592.32 L1733 592.63 L1738.06 592.63 L1738.06 597.23 L1743.12 597.23 L1743.12 596.13 L1748.19 596.13 L1748.19 598.68 L1753.25 598.68 L1753.25 591.33 L1758.32 591.33 L1758.32 590.82 L1763.38 590.82 L1763.38 584.95 L1768.45 584.95 L1768.45 586.45 L1773.51 586.45 L1773.51 587.89 L1778.58 587.89 L1778.58 588.9 L1783.64 588.9 L1783.64 589.77 L1788.7 589.77 L1788.7 594.32 L1793.77 594.32 L1793.77 592.87 L1798.83 592.87 L1798.83 594.98 L1803.9 594.98 L1803.9 596.83 L1808.96 596.83 L1808.96 594.94 L1814.03 594.94 L1814.03 590.78 L1819.09 590.78 L1819.09 589.73 L1824.16 589.73 L1824.16 588.47 L1829.22 588.47 L1829.22 588.71 L1834.29 588.71 L1834.29 590.78 L1839.35 590.78 L1839.35 592.92 L1844.41 592.92 L1844.41 594.61 L1849.48 594.61 L1849.48 594.61 L1854.54 594.61 L1854.54 595.58 L1859.61 595.58 L1859.61 598.6 L1864.67 598.6 L1864.67 593.3 L1869.74 593.3 L1869.74 598.61 L1874.8 598.61 L1874.8 593.64 L1879.87 593.64 L1879.87 587.06 L1884.93 587.06 L1884.93 585.28 L1889.99 585.28 L1889.99 585.62 L1895.06 585.62 L1895.06 589.45 L1900.12 589.45 L1900.12 585.24 L1905.19 585.24 L1905.19 584.36 L1910.25 584.36 L1910.25 584.8 L1915.32 584.8 L1915.32 584.38 L1920.38 584.38 L1920.38 582.52 L1925.45 582.52 L1925.45 568.69 L1930.51 568.69 L1930.51 569.32 L1935.58 569.32 L1935.58 572.93 L1940.64 572.93 L1940.64 576.52 L1945.7 576.52 L1945.7 571.45 L1950.77 571.45 L1950.77 570.43 L1955.83 570.43 L1955.83 569.42 L1960.9 569.42 L1960.9 569.69 L1965.96 569.69 L1965.96 571.83 L1971.03 571.83 L1971.03 572.84 L1976.09 572.84 L1976.09 573.7 L1981.16 573.7 L1981.16 571.11 L1986.22 571.11 L1986.22 575.06 L1991.28 575.06 L1991.28 578.33 L1996.35 578.33 L1996.35 578.77 L2001.41 578.77 L2001.41 578.02 L2006.48 578.02 L2006.48 580.74 L2011.54 580.74 L2011.54 585.23 L2016.61 585.23 L2016.61 586.54 L2021.67 586.54 L2021.67 587.56 L2026.74 587.56 L2026.74 588.57 L2031.8 588.57 L2031.8 590.37 L2036.87 590.37 L2036.87 594.21 L2041.93 594.21 L2041.93 594.29 L2046.99 594.29 L2046.99 589.42 L2052.06 589.42 L2052.06 588.43 L2057.12 588.43 L2057.12 583.29 L2062.19 583.29 L2062.19 574.62 L2067.25 574.62 L2067.25 575.59 L2072.32 575.59 L2072.32 574.62 L2077.38 574.62 L2077.38 575.84 L2082.45 575.84 L2082.45 577.28 L2087.51 577.28 L2087.51 577.86 L2092.57 577.86 L2092.57 578.88 L2097.64 578.88 L2097.64 576.96 L2102.7 576.96 L2102.7 576.83 L2107.77 576.83 L2107.77 577.56 L2112.83 577.56 L2112.83 576.86 L2117.9 576.86 L2117.9 573.77 L2122.96 573.77 L2122.96 574.4 L2128.03 574.4 L2128.03 575.92 L2133.09 575.92 L2133.09 577.72 L2138.16 577.72 L2138.16 578.36 L2143.22 578.36 L2143.22 577.17 L2148.28 577.17 L2148.28 577.36 L2153.35 577.36 L2153.35 580.04 L2158.41 580.04 L2158.41 580.88 L2163.48 580.88 L2163.48 581.18 L2168.54 581.18 L2168.54 580.77 L2173.61 580.77 L2173.61 583.11 L2178.67 583.11 L2178.67 583.26 L2183.74 583.26 L2183.74 587.8 L2188.8 587.8 L2188.8 592.45 L2193.86 592.45 L2193.86 592.45 L2198.93 592.45 L2198.93 592.45 L2203.99 592.45 L2203.99 598.3 L2209.06 598.3 L2209.06 598.39 L2214.12 598.39 L2214.12 595.38 L2219.19 595.38 L2219.19 594.66 L2224.25 594.66 L2224.25 591.14 L2229.32 591.14 L2229.32 594.2 L2234.38 594.2 L2234.38 588.21 L2239.45 588.21 L2239.45 591.32 L2244.51 591.32 L2244.51 591.12 L2249.57 591.12 L2249.57 590.3 L2254.64 590.3 L2254.64 586.4 L2259.7 586.4 L2259.7 584.09 L2264.77 584.09 L2264.77 582.36 L2267.3 582.36" fill="none" stroke="#b955f1" stroke-width="4.17" stroke-linejoin="round" stroke-linecap="round"/>
</g>
<g clip-path="url(#c7)">
<ellipse cx="1760.85" cy="924.5" rx="506.45" ry="51.8" fill="#e5e5e5"/>
<path d="M1253.58 923.11 L1253.58 921.72 L1254.4 921.72 L1256.93 921.72 L1256.93 918.74 L1262 918.74 L1262 916.51 L1267.06 916.51 L1267.06 913.8 L1272.13 913.8 L1272.13 913.02 L1277.19 913.02 L1277.19 913.75 L1282.25 913.75 L1282.25 914.47 L1287.32 914.47 L1287.32 919.96 L1292.38 919.96 L1292.38 920.35 L1297.45 920.35 L1297.45 924.05 L1302.51 924.05 L1302.51 926.1 L1307.58 926.1 L1307.58 928.57 L1312.64 928.57 L1312.64 924.81 L1317.71 924.81 L1317.71 924.81 L1322.77 924.81 L1322.77 932.19 L1327.84 932.19 L1327.84 937.11 L1332.9 937.11 L1332.9 938.12 L1337.96 938.12 L1337.96 937.78 L1343.03 937.78 L1343.03 939.38 L1348.09 939.38 L1348.09 937.9 L1353.16 937.9 L1353.16 938.84 L1358.22 938.84 L1358.22 942.99 L1363.29 942.99 L1363.29 943.49 L1368.35 943.49 L1368.35 939.68 L1373.42 939.68 L1373.42 939.64 L1378.48 939.64 L1378.48 938.42 L1383.54 938.42 L1383.54 940.13 L1388.61 940.13 L1388.61 942.36 L1393.67 942.36 L1393.67 943.77 L1398.74 943.77 L1398.74 944.9 L1403.8 944.9 L1403.8 946.85 L1408.87 946.85 L1408.87 941.24 L1413.93 941.24 L1413.93 943.39 L1419 943.39 L1419 934.52 L1424.06 934.52 L1424.06 934.98 L1429.13 934.98 L1429.13 930.44 L1434.19 930.44 L1434.19 929.93 L1439.25 929.93 L1439.25 926.22 L1444.32 926.22 L1444.32 927.53 L1449.38 927.53 L1449.38 928.21 L1454.45 928.21 L1454.45 920.64 L1459.51 920.64 L1459.51 913.34 L1464.58 913.34 L1464.58 910.81 L1469.64 910.81 L1469.64 909.53 L1474.71 909.53 L1474.71 911.7 L1479.77 911.7 L1479.77 912.53 L1484.83 912.53 L1484.83 913.3 L1489.9 913.3 L1489.9 911.27 L1494.96 911.27 L1494.96 908.78 L1500.03 908.78 L1500.03 909.42 L1505.09 909.42 L1505.09 911 L1510.16 911 L1510.16 904.71 L1515.22 904.71 L1515.22 903.71 L1520.29 903.71 L1520.29 906.37 L1525.35 906.37 L1525.35 907.63 L1530.42 907.63 L1530.42 909.45 L1535.48 909.45 L1535.48 909.03 L1540.54 909.03 L1540.54 908.95 L1545.61 908.95 L1545.61 910.97 L1550.67 910.97 L1550.67 913.33 L1555.74 913.33 L1555.74 912.56 L1560.8 912.56 L1560.8 908.68 L1565.87 908.68 L1565.87 911.02 L1570.93 911.02 L1570.93 915.77 L1576 915.77 L1576 923.03 L1581.06 923.03 L1581.06 925.08 L1586.12 925.08 L1586.12 922.26 L1591.19 922.26 L1591.19 921.02 L1596.25 921.02 L1596.25 917.17 L1601.32 917.17 L1601.32 913.77 L1606.38 913.77 L1606.38 916.59 L1611.45 916.59 L1611.45 915.07 L1616.51 915.07 L1616.51 909.44 L1621.58 909.44 L1621.58 906.2 L1626.64 906.2 L1626.64 909.19 L1631.71 909.19 L1631.71 910.96 L1636.77 910.96 L1636.77 910.19 L1641.83 910.19 L1641.83 908.66 L1646.9 908.66 L1646.9 906.13 L1651.96 906.13 L1651.96 901.04 L1657.03 901.04 L1657.03 904.78 L1662.09 904.78 L1662.09 901.62 L1667.16 901.62 L1667.16 900.72 L1672.22 900.72 L1672.22 899.71 L1677.29 899.71 L1677.29 895.47 L1682.35 895.47 L1682.35 897 L1687.41 897 L1687.41 897.64 L1692.48 897.64 L1692.48 896.47 L1697.54 896.47 L1697.54 894.95 L1702.61 894.95 L1702.61 894.45 L1707.67 894.45 L1707.67 888.15 L1712.74 888.15 L1712.74 886.3 L1717.8 886.3 L1717.8 885.8 L1722.87 885.8 L1722.87 884.59 L1727.93 884.59 L1727.93 883.33 L1733 883.33 L1733 883.86 L1738.06 883.86 L1738.06 881.76 L1743.12 881.76 L1743.12 881.08 L1748.19 881.08 L1748.19 882.26 L1753.25 882.26 L1753.25 885.75 L1758.32 885.75 L1758.32 882.36 L1763.38 882.36 L1763.38 886.15 L1768.45 886.15 L1768.45 885.08 L1773.51 885.08 L1773.51 887.56 L1778.58 887.56 L1778.58 889.56 L1783.64 889.56 L1783.64 888.29 L1788.7 888.29 L1788.7 887.45 L1793.77 887.45 L1793.77 890.22 L1798.83 890.22 L1798.83 890 L1803.9 890 L1803.9 892.86 L1808.96 892.86 L1808.96 893.52 L1814.03 893.52 L1814.03 894.16 L1819.09 894.16 L1819.09 893.52 L1824.16 893.52 L1824.16 892.89 L1829.22 892.89 L1829.22 891.77 L1834.29 891.77 L1834.29 887.3 L1839.35 887.3 L1839.35 886.04 L1844.41 886.04 L1844.41 881.14 L1849.48 881.14 L1849.48 881.76 L1854.54 881.76 L1854.54 883.64 L1859.61 883.64 L1859.61 884.65 L1864.67 884.65 L1864.67 887.52 L1869.74 887.52 L1869.74 888.37 L1874.8 888.37 L1874.8 889.42 L1879.87 889.42 L1879.87 891.7 L1884.93 891.7 L1884.93 891.03 L1889.99 891.03 L1889.99 890.33 L1895.06 890.33 L1895.06 890.85 L1900.12 890.85 L1900.12 889.11 L1905.19 889.11 L1905.19 888.1 L1910.25 888.1 L1910.25 887.45 L1915.32 887.45 L1915.32 881.21 L1920.38 881.21 L1920.38 882.45 L1925.45 882.45 L1925.45 886.62 L1930.51 886.62 L1930.51 888.3 L1935.58 888.3 L1935.58 887.66 L1940.64 887.66 L1940.64 889.84 L1945.7 889.84 L1945.7 891.61 L1950.77 891.61 L1950.77 897.36 L1955.83 897.36 L1955.83 900.88 L1960.9 900.88 L1960.9 903.41 L1965.96 903.41 L1965.96 902.35 L1971.03 902.35 L1971.03 903.06 L1976.09 903.06 L1976.09 904.57 L1981.16 904.57 L1981.16 909.09 L1986.22 909.09 L1986.22 912.79 L1991.28 912.79 L1991.28 917.24 L1996.35 917.24 L1996.35 914.56 L2001.41 914.56 L2001.41 911.54 L2006.48 911.54 L2006.48 910.38 L2011.54 910.38 L2011.54 905.28 L2016.61 905.28 L2016.61 907.34 L2021.67 907.34 L2021.67 908.68 L2026.74 908.68 L2026.74 903.42 L2031.8 903.42 L2031.8 902.73 L2036.87 902.73 L2036.87 902.51 L2041.93 902.51 L2041.93 900.6 L2046.99 900.6 L2046.99 899.66 L2052.06 899.66 L2052.06 899.65 L2057.12 899.65 L2057.12 900.58 L2062.19 900.58 L2062.19 902.5 L2067.25 902.5 L2067.25 899.34 L2072.32 899.34 L2072.32 899.34 L2077.38 899.34 L2077.38 900.18 L2082.45 900.18 L2082.45 903.97 L2087.51 903.97 L2087.51 904.43 L2092.57 904.43 L2092.57 906.14 L2097.64 906.14 L2097.64 906.98 L2102.7 906.98 L2102.7 907.26 L2107.77 907.26 L2107.77 907.99 L2112.83 907.99 L2112.83 909.45 L2117.9 909.45 L2117.9 908.46 L2122.96 908.46 L2122.96 905.93 L2128.03 905.93 L2128.03 905.91 L2133.09 905.91 L2133.09 909.7 L2138.16 909.7 L2138.16 911.56 L2143.22 911.56 L2143.22 912.07 L2148.28 912.07 L2148.28 912.07 L2153.35 912.07 L2153.35 912.64 L2158.41 912.64 L2158.41 918.02 L2163.48 918.02 L2163.48 917.98 L2168.54 917.98 L2168.54 920.67 L2173.61 920.67 L2173.61 922.81 L2178.67 922.81 L2178.67 922.26 L2183.74 922.26 L2183.74 918.87 L2188.8 918.87 L2188.8 922.27 L2193.86 922.27 L2193.86 923.53 L2198.93 923.53 L2198.93 923.54 L2203.99 923.54 L2203.99 921.89 L2209.06 921.89 L2209.06 920.56 L2214.12 920.56 L2214.12 921.74 L2219.19 921.74 L2219.19 923.44 L2224.25 923.44 L2224.25 923.94 L2229.32 923.94 L2229.32 923.35 L2234.38 923.35 L2234.38 919.97 L2239.45 919.97 L2239.45 918.11 L2244.51 918.11 L2244.51 918.02 L2249.57 918.02 L2249.57 920.73 L2254.64 920.73 L2254.64 921.37 L2259.7 921.37 L2259.7 922.2 L2264.77 922.2 L2264.77 924.26 L2267.3 924.26" fill="none" stroke="#008b92" stroke-width="4.17" stroke-linejoin="round" stroke-linecap="round"/>
<path d="M1253.58 923.11 L1253.58 924.33 L1254.4 924.33 L1256.93 924.33 L1256.93 929.2 L1262 929.2 L1262 931.23 L1267.06 931.23 L1267.06 930.78 L1272.13 930.78 L1272.13 929.73 L1277.19 929.73 L1277.19 928.46 L1282.25 928.46 L1282.25 928.21 L1287.32 928.21 L1287.32 928.71 L1292.38 928.71 L1292.38 932.38 L1297.45 932.38 L1297.45 931.75 L1302.51 931.75 L1302.51 934.83 L1307.58 934.83 L1307.58 933.14 L1312.64 933.14 L1312.64 931.37 L1317.71 931.37 L1317.71 928.91 L1322.77 928.91 L1322.77 927.28 L1327.84 927.28 L1327.84 926.26 L1332.9 926.26 L1332.9 925.66 L1337.96 925.66 L1337.96 925.89 L1343.03 925.89 L1343.03 928.21 L1348.09 928.21 L1348.09 926.74 L1353.16 926.74 L1353.16 925.96 L1358.22 925.96 L1358.22 926.38 L1363.29 926.38 L1363.29 926.51 L1368.35 926.51 L1368.35 926.51 L1373.42 926.51 L1373.42 927.67 L1378.48 927.67 L1378.48 926.91 L1383.54 926.91 L1383.54 925.37 L1388.61 925.37 L1388.61 924.81 L1393.67 924.81 L1393.67 924.81 L1398.74 924.81 L1398.74 917.17 L1403.8 917.17 L1403.8 917.17 L1408.87 917.17 L1408.87 919.66 L1413.93 919.66 L1413.93 923.02 L1419 923.02 L1419 925.58 L1424.06 925.58 L1424.06 928.11 L1429.13 928.11 L1429.13 927.6 L1434.19 927.6 L1434.19 923.11 L1439.25 923.11 L1439.25 924.52 L1444.32 924.52 L1444.32 927.28 L1449.38 927.28 L1449.38 928.43 L1454.45 928.43 L1454.45 929.5 L1459.51 929.5 L1459.51 930.75 L1464.58 930.75 L1464.58 930.12 L1469.64 930.12 L1469.64 928.41 L1474.71 928.41 L1474.71 931.46 L1479.77 931.46 L1479.77 929.25 L1484.83 929.25 L1484.83 927.64 L1489.9 927.64 L1489.9 928.29 L1494.96 928.29 L1494.96 932.53 L1500.03 932.53 L1500.03 932.56 L1505.09 932.56 L1505.09 930.98 L1510.16 930.98 L1510.16 930.02 L1515.22 930.02 L1515.22 929.18 L1520.29 929.18 L1520.29 932.45 L1525.35 932.45 L1525.35 932.15 L1530.42 932.15 L1530.42 921.42 L1535.48 921.42 L1535.48 922.14 L1540.54 922.14 L1540.54 921.74 L1545.61 921.74 L1545.61 920.92 L1550.67 920.92 L1550.67 919.9 L1555.74 919.9 L1555.74 917.65 L1560.8 917.65 L1560.8 914.72 L1565.87 914.72 L1565.87 900.53 L1570.93 900.53 L1570.93 887.2 L1576 887.2 L1576 875.41 L1581.06 875.41 L1581.06 864.97 L1586.12 864.97 L1586.12 863.68 L1591.19 863.68 L1591.19 867.16 L1596.25 867.16 L1596.25 868.42 L1601.32 868.42 L1601.32 870.6 L1606.38 870.6 L1606.38 875.61 L1611.45 875.61 L1611.45 876.63 L1616.51 876.63 L1616.51 879.83 L1621.58 879.83 L1621.58 880.33 L1626.64 880.33 L1626.64 879.75 L1631.71 879.75 L1631.71 879.66 L1636.77 879.66 L1636.77 880.72 L1641.83 880.72 L1641.83 884.92 L1646.9 884.92 L1646.9 887.88 L1651.96 887.88 L1651.96 891.67 L1657.03 891.67 L1657.03 885.75 L1662.09 885.75 L1662.09 888.97 L1667.16 888.97 L1667.16 885.75 L1672.22 885.75 L1672.22 888.85 L1677.29 888.85 L1677.29 887.92 L1682.35 887.92 L1682.35 885.06 L1687.41 885.06 L1687.41 884.9 L1692.48 884.9 L1692.48 882.36 L1697.54 882.36 L1697.54 886.55 L1702.61 886.55 L1702.61 889.83 L1707.67 889.83 L1707.67 888.82 L1712.74 888.82 L1712.74 888.3 L1717.8 888.3 L1717.8 888.3 L1722.87 888.3 L1722.87 885.8 L1727.93 885.8 L1727.93 884.14 L1733 884.14 L1733 878.53 L1738.06 878.53 L1738.06 873.82 L1743.12 873.82 L1743.12 875.56 L1748.19 875.56 L1748.19 877.91 L1753.25 877.91 L1753.25 879.55 L1758.32 879.55 L1758.32 876.41 L1763.38 876.41 L1763.38 875.4 L1768.45 875.4 L1768.45 875.45 L1773.51 875.45 L1773.51 875.02 L1778.58 875.02 L1778.58 877.34 L1783.64 877.34 L1783.64 875.97 L1788.7 875.97 L1788.7 873.86 L1793.77 873.86 L1793.77 869.41 L1798.83 869.41 L1798.83 868.15 L1803.9 868.15 L1803.9 867.23 L1808.96 867.23 L1808.96 861.61 L1814.03 861.61 L1814.03 863.05 L1819.09 863.05 L1819.09 865.21 L1824.16 865.21 L1824.16 867.4 L1829.22 867.4 L1829.22 867.25 L1834.29 867.25 L1834.29 866.23 L1839.35 866.23 L1839.35 866.23 L1844.41 866.23 L1844.41 864.92 L1849.48 864.92 L1849.48 865.5 L1854.54 865.5 L1854.54 866.77 L1859.61 866.77 L1859.61 868.04 L1864.67 868.04 L1864.67 862.76 L1869.74 862.76 L1869.74 861.88 L1874.8 861.88 L1874.8 860.62 L1879.87 860.62 L1879.87 860.75 L1884.93 860.75 L1884.93 863.13 L1889.99 863.13 L1889.99 865.75 L1895.06 865.75 L1895.06 866.59 L1900.12 866.59 L1900.12 867.18 L1905.19 867.18 L1905.19 869.71 L1910.25 869.71 L1910.25 872.24 L1915.32 872.24 L1915.32 874.7 L1920.38 874.7 L1920.38 873.88 L1925.45 873.88 L1925.45 874.51 L1930.51 874.51 L1930.51 874.15 L1935.58 874.15 L1935.58 873.3 L1940.64 873.3 L1940.64 873.02 L1945.7 873.02 L1945.7 878.97 L1950.77 878.97 L1950.77 879.42 L1955.83 879.42 L1955.83 881.73 L1960.9 881.73 L1960.9 883.31 L1965.96 883.31 L1965.96 884.39 L1971.03 884.39 L1971.03 885.65 L1976.09 885.65 L1976.09 885.75 L1981.16 885.75 L1981.16 888.84 L1986.22 888.84 L1986.22 893.7 L1991.28 893.7 L1991.28 894.96 L1996.35 894.96 L1996.35 896.61 L2001.41 896.61 L2001.41 896.23 L2006.48 896.23 L2006.48 896.29 L2011.54 896.29 L2011.54 897.32 L2016.61 897.32 L2016.61 896.45 L2021.67 896.45 L2021.67 894.84 L2026.74 894.84 L2026.74 894.91 L2031.8 894.91 L2031.8 898.8 L2036.87 898.8 L2036.87 900.87 L2041.93 900.87 L2041.93 904.67 L2046.99 904.67 L2046.99 904.22 L2052.06 904.22 L2052.06 902.95 L2057.12 902.95 L2057.12 901.49 L2062.19 901.49 L2062.19 901.42 L2067.25 901.42 L2067.25 903.95 L2072.32 903.95 L2072.32 901.68 L2077.38 901.68 L2077.38 900.59 L2082.45 900.59 L2082.45 901.25 L2087.51 901.25 L2087.51 903.04 L2092.57 903.04 L2092.57 903.75 L2097.64 903.75 L2097.64 902.23 L2102.7 902.23 L2102.7 898.43 L2107.77 898.43 L2107.77 896.79 L2112.83 896.79 L2112.83 900.19 L2117.9 900.19 L2117.9 896.79 L2122.96 896.79 L2122.96 896.79 L2128.03 896.79 L2128.03 895.53 L2133.09 895.53 L2133.09 894.63 L2138.16 894.63 L2138.16 897.8 L2143.22 897.8 L2143.22 899.59 L2148.28 899.59 L2148.28 900.57 L2153.35 900.57 L2153.35 902.99 L2158.41 902.99 L2158.41 903.36 L2163.48 903.36 L2163.48 902.65 L2168.54 902.65 L2168.54 903.06 L2173.61 903.06 L2173.61 906.18 L2178.67 906.18 L2178.67 908.72 L2183.74 908.72 L2183.74 912.12 L2188.8 912.12 L2188.8 914.91 L2193.86 914.91 L2193.86 917.16 L2198.93 917.16 L2198.93 915.15 L2203.99 915.15 L2203.99 913.76 L2209.06 913.76 L2209.06 915.44 L2214.12 915.44 L2214.12 915.47 L2219.19 915.47 L2219.19 913.77 L2224.25 913.77 L2224.25 913.77 L2229.32 913.77 L2229.32 919.08 L2234.38 919.08 L2234.38 921.29 L2239.45 921.29 L2239.45 924.6 L2244.51 924.6 L2244.51 927.82 L2249.57 927.82 L2249.57 927.19 L2254.64 927.19 L2254.64 926.55 L2259.7 926.55 L2259.7 924.94 L2264.77 924.94 L2264.77 924.81 L2267.3 924.81" fill="none" stroke="#f15c58" stroke-width="4.17" stroke-linejoin="round" stroke-linecap="round"/>
<path d="M1253.58 923.11 L1253.58 923.03 L1254.4 923.03 L1256.93 923.03 L1256.93 922.52 L1262 922.52 L1262 922.47 L1267.06 922.47 L1267.06 922.89 L1272.13 922.89 L1272.13 924.74 L1277.19 924.74 L1277.19 924.23 L1282.25 924.23 L1282.25 918.51 L1287.32 918.51 L1287.32 918.99 L1292.38 918.99 L1292.38 922.26 L1297.45 922.26 L1297.45 918.52 L1302.51 918.52 L1302.51 915.21 L1307.58 915.21 L1307.58 914.14 L1312.64 914.14 L1312.64 913.54 L1317.71 913.54 L1317.71 913.99 L1322.77 913.99 L1322.77 917.82 L1327.84 917.82 L1327.84 916.15 L1332.9 916.15 L1332.9 915.73 L1337.96 915.73 L1337.96 912.96 L1343.03 912.96 L1343.03 910.49 L1348.09 910.49 L1348.09 909.48 L1353.16 909.48 L1353.16 908.46 L1358.22 908.46 L1358.22 906.88 L1363.29 906.88 L1363.29 906.72 L1368.35 906.72 L1368.35 908.63 L1373.42 908.63 L1373.42 907 L1378.48 907 L1378.48 908.01 L1383.54 908.01 L1383.54 905.29 L1388.61 905.29 L1388.61 905.92 L1393.67 905.92 L1393.67 905.57 L1398.74 905.57 L1398.74 904.72 L1403.8 904.72 L1403.8 904.85 L1408.87 904.85 L1408.87 905.08 L1413.93 905.08 L1413.93 904.45 L1419 904.45 L1419 908.8 L1424.06 908.8 L1424.06 910.32 L1429.13 910.32 L1429.13 911.19 L1434.19 911.19 L1434.19 915.47 L1439.25 915.47 L1439.25 914.48 L1444.32 914.48 L1444.32 915.16 L1449.38 915.16 L1449.38 914.66 L1454.45 914.66 L1454.45 917.77 L1459.51 917.77 L1459.51 921.64 L1464.58 921.64 L1464.58 924.18 L1469.64 924.18 L1469.64 924.58 L1474.71 924.58 L1474.71 918.29 L1479.77 918.29 L1479.77 916.89 L1484.83 916.89 L1484.83 917.41 L1489.9 917.41 L1489.9 917.83 L1494.96 917.83 L1494.96 913.84 L1500.03 913.84 L1500.03 912.92 L1505.09 912.92 L1505.09 915.65 L1510.16 915.65 L1510.16 919.01 L1515.22 919.01 L1515.22 920.08 L1520.29 920.08 L1520.29 915 L1525.35 915 L1525.35 914.45 L1530.42 914.45 L1530.42 919.54 L1535.48 919.54 L1535.48 922.16 L1540.54 922.16 L1540.54 923.95 L1545.61 923.95 L1545.61 924.5 L1550.67 924.5 L1550.67 924.06 L1555.74 924.06 L1555.74 924.69 L1560.8 924.69 L1560.8 925.49 L1565.87 925.49 L1565.87 931.48 L1570.93 931.48 L1570.93 933.88 L1576 933.88 L1576 939.16 L1581.06 939.16 L1581.06 942.88 L1586.12 942.88 L1586.12 943.4 L1591.19 943.4 L1591.19 944.8 L1596.25 944.8 L1596.25 944.69 L1601.32 944.69 L1601.32 940.3 L1606.38 940.3 L1606.38 932.8 L1611.45 932.8 L1611.45 932.33 L1616.51 932.33 L1616.51 932.02 L1621.58 932.02 L1621.58 931.7 L1626.64 931.7 L1626.64 927.91 L1631.71 927.91 L1631.71 927.37 L1636.77 927.37 L1636.77 928 L1641.83 928 L1641.83 924.8 L1646.9 924.8 L1646.9 923.11 L1651.96 923.11 L1651.96 926.21 L1657.03 926.21 L1657.03 926.95 L1662.09 926.95 L1662.09 923.96 L1667.16 923.96 L1667.16 926.9 L1672.22 926.9 L1672.22 928.17 L1677.29 928.17 L1677.29 929.84 L1682.35 929.84 L1682.35 932.7 L1687.41 932.7 L1687.41 933.3 L1692.48 933.3 L1692.48 933.3 L1697.54 933.3 L1697.54 933.3 L1702.61 933.3 L1702.61 929.06 L1707.67 929.06 L1707.67 933.81 L1712.74 933.81 L1712.74 934.75 L1717.8 934.75 L1717.8 935.76 L1722.87 935.76 L1722.87 938.71 L1727.93 938.71 L1727.93 939.97 L1733 939.97 L1733 941.62 L1738.06 941.62 L1738.06 942.55 L1743.12 942.55 L1743.12 941.35 L1748.19 941.35 L1748.19 933.45 L1753.25 933.45 L1753.25 932.72 L1758.32 932.72 L1758.32 933.99 L1763.38 933.99 L1763.38 937.09 L1768.45 937.09 L1768.45 939 L1773.51 939 L1773.51 937.73 L1778.58 937.73 L1778.58 937.01 L1783.64 937.01 L1783.64 937.34 L1788.7 937.34 L1788.7 936.06 L1793.77 936.06 L1793.77 938.81 L1798.83 938.81 L1798.83 940.52 L1803.9 940.52 L1803.9 940.34 L1808.96 940.34 L1808.96 940.85 L1814.03 940.85 L1814.03 941.97 L1819.09 941.97 L1819.09 942.34 L1824.16 942.34 L1824.16 941.9 L1829.22 941.9 L1829.22 942.8 L1834.29 942.8 L1834.29 946.69 L1839.35 946.69 L1839.35 945.33 L1844.41 945.33 L1844.41 946.59 L1849.48 946.59 L1849.48 943.49 L1854.54 943.49 L1854.54 945.91 L1859.61 945.91 L1859.61 948.47 L1864.67 948.47 L1864.67 947.21 L1869.74 947.21 L1869.74 945.94 L1874.8 945.94 L1874.8 943.67 L1879.87 943.67 L1879.87 945.19 L1884.93 945.19 L1884.93 944.26 L1889.99 944.26 L1889.99 943.49 L1895.06 943.49 L1895.06 946.96 L1900.12 946.96 L1900.12 948.53 L1905.19 948.53 L1905.19 943.28 L1910.25 943.28 L1910.25 940.11 L1915.32 940.11 L1915.32 940.61 L1920.38 940.61 L1920.38 940.05 L1925.45 940.05 L1925.45 934.56 L1930.51 934.56 L1930.51 933.31 L1935.58 933.31 L1935.58 937.55 L1940.64 937.55 L1940.64 941.58 L1945.7 941.58 L1945.7 943.4 L1950.77 943.4 L1950.77 946.21 L1955.83 946.21 L1955.83 946.85 L1960.9 946.85 L1960.9 951.98 L1965.96 951.98 L1965.96 948.58 L1971.03 948.58 L1971.03 948.58 L1976.09 948.58 L1976.09 952.93 L1981.16 952.93 L1981.16 957.46 L1986.22 957.46 L1986.22 962.32 L1991.28 962.32 L1991.28 962.95 L1996.35 962.95 L1996.35 965.29 L2001.41 965.29 L2001.41 970.66 L2006.48 970.66 L2006.48 970.84 L2011.54 970.84 L2011.54 971.86 L2016.61 971.86 L2016.61 973.72 L2021.67 973.72 L2021.67 976 L2026.74 976 L2026.74 976.6 L2031.8 976.6 L2031.8 973.11 L2036.87 973.11 L2036.87 972.6 L2041.93 972.6 L2041.93 975.75 L2046.99 975.75 L2046.99 972.21 L2052.06 972.21 L2052.06 971.51 L2057.12 971.51 L2057.12 970.91 L2062.19 970.91 L2062.19 968.65 L2067.25 968.65 L2067.25 968.35 L2072.32 968.35 L2072.32 969.46 L2077.38 969.46 L2077.38 967.18 L2082.45 967.18 L2082.45 966.54 L2087.51 966.54 L2087.51 967.99 L2092.57 967.99 L2092.57 962.17 L2097.64 962.17 L2097.64 964.62 L2102.7 964.62 L2102.7 963.78 L2107.77 963.78 L2107.77 962.85 L2112.83 962.85 L2112.83 959.01 L2117.9 959.01 L2117.9 957.51 L2122.96 957.51 L2122.96 961.52 L2128.03 961.52 L2128.03 959.18 L2133.09 959.18 L2133.09 951.62 L2138.16 951.62 L2138.16 948.08 L2143.22 948.08 L2143.22 948.23 L2148.28 948.23 L2148.28 943.46 L2153.35 943.46 L2153.35 942.82 L2158.41 942.82 L2158.41 937.35 L2163.48 937.35 L2163.48 939.24 L2168.54 939.24 L2168.54 939.24 L2173.61 939.24 L2173.61 939.24 L2178.67 939.24 L2178.67 938.81 L2183.74 938.81 L2183.74 938.39 L2188.8 938.39 L2188.8 938.41 L2193.86 938.41 L2193.86 940.94 L2198.93 940.94 L2198.93 940.94 L2203.99 940.94 L2203.99 941.57 L2209.06 941.57 L2209.06 945.08 L2214.12 945.08 L2214.12 942.32 L2219.19 942.32 L2219.19 940.15 L2224.25 940.15 L2224.25 938.46 L2229.32 938.46 L2229.32 937.79 L2234.38 937.79 L2234.38 937.15 L2239.45 937.15 L2239.45 936.52 L2244.51 936.52 L2244.51 935.89 L2249.57 935.89 L2249.57 930.2 L2254.64 930.2 L2254.64 929.9 L2259.7 929.9 L2259.7 929.9 L2264.77 929.9 L2264.77 925.02 L2267.3 925.02" fill="none" stroke="#48cdef" stroke-width="4.17" stroke-linejoin="round" stroke-linecap="round"/>
<path d="M1253.58 923.11 L1253.58 923.72 L1254.4 923.72 L1256.93 923.72 L1256.93 926.07 L1262 926.07 L1262 930.93 L1267.06 930.93 L1267.06 931.49 L1272.13 931.49 L1272.13 930.92 L1277.19 930.92 L1277.19 932.78 L1282.25 932.78 L1282.25 931.96 L1287.32 931.96 L1287.32 931.1 L1292.38 931.1 L1292.38 926.41 L1297.45 926.41 L1297.45 924.97 L1302.51 924.97 L1302.51 921.41 L1307.58 921.41 L1307.58 920.68 L1312.64 920.68 L1312.64 921.33 L1317.71 921.33 L1317.71 923.03 L1322.77 923.03 L1322.77 923.76 L1327.84 923.76 L1327.84 915.47 L1332.9 915.47 L1332.9 918.95 L1337.96 918.95 L1337.96 920.22 L1343.03 920.22 L1343.03 926.15 L1348.09 926.15 L1348.09 923.11 L1353.16 923.11 L1353.16 925.62 L1358.22 925.62 L1358.22 924.78 L1363.29 924.78 L1363.29 923.99 L1368.35 923.99 L1368.35 924.88 L1373.42 924.88 L1373.42 926.73 L1378.48 926.73 L1378.48 927.34 L1383.54 927.34 L1383.54 926.07 L1388.61 926.07 L1388.61 925.32 L1393.67 925.32 L1393.67 924.81 L1398.74 924.81 L1398.74 931.83 L1403.8 931.83 L1403.8 933.28 L1408.87 933.28 L1408.87 931.64 L1413.93 931.64 L1413.93 930.98 L1419 930.98 L1419 935 L1424.06 935 L1424.06 928.21 L1429.13 928.21 L1429.13 928.94 L1434.19 928.94 L1434.19 933.3 L1439.25 933.3 L1439.25 930.87 L1444.32 930.87 L1444.32 931.29 L1449.38 931.29 L1449.38 929.57 L1454.45 929.57 L1454.45 932.47 L1459.51 932.47 L1459.51 934.8 L1464.58 934.8 L1464.58 934.22 L1469.64 934.22 L1469.64 937.31 L1474.71 937.31 L1474.71 939.36 L1479.77 939.36 L1479.77 939.87 L1484.83 939.87 L1484.83 943.49 L1489.9 943.49 L1489.9 941.26 L1494.96 941.26 L1494.96 940.65 L1500.03 940.65 L1500.03 943.59 L1505.09 943.59 L1505.09 944.1 L1510.16 944.1 L1510.16 945.69 L1515.22 945.69 L1515.22 944.95 L1520.29 944.95 L1520.29 944.34 L1525.35 944.34 L1525.35 945.7 L1530.42 945.7 L1530.42 948.8 L1535.48 948.8 L1535.48 950.07 L1540.54 950.07 L1540.54 943.71 L1545.61 943.71 L1545.61 942.37 L1550.67 942.37 L1550.67 942.2 L1555.74 942.2 L1555.74 945.67 L1560.8 945.67 L1560.8 951.6 L1565.87 951.6 L1565.87 954.86 L1570.93 954.86 L1570.93 957.87 L1576 957.87 L1576 963.05 L1581.06 963.05 L1581.06 966.52 L1586.12 966.52 L1586.12 971.51 L1591.19 971.51 L1591.19 970.58 L1596.25 970.58 L1596.25 970.14 L1601.32 970.14 L1601.32 973.11 L1606.38 973.11 L1606.38 977.32 L1611.45 977.32 L1611.45 980.7 L1616.51 980.7 L1616.51 984.18 L1621.58 984.18 L1621.58 982.64 L1626.64 982.64 L1626.64 985.92 L1631.71 985.92 L1631.71 985.08 L1636.77 985.08 L1636.77 984.24 L1641.83 984.24 L1641.83 984.26 L1646.9 984.26 L1646.9 986.79 L1651.96 986.79 L1651.96 985.1 L1657.03 985.1 L1657.03 985.93 L1662.09 985.93 L1662.09 987.82 L1667.16 987.82 L1667.16 988.49 L1672.22 988.49 L1672.22 988.1 L1677.29 988.1 L1677.29 986.83 L1682.35 986.83 L1682.35 986.79 L1687.41 986.79 L1687.41 983.63 L1692.48 983.63 L1692.48 987.08 L1697.54 987.08 L1697.54 988.09 L1702.61 988.09 L1702.61 989.25 L1707.67 989.25 L1707.67 992.19 L1712.74 992.19 L1712.74 992.14 L1717.8 992.14 L1717.8 992.26 L1722.87 992.26 L1722.87 993.15 L1727.93 993.15 L1727.93 997.48 L1733 997.48 L1733 1001.37 L1738.06 1001.37 L1738.06 1002.01 L1743.12 1002.01 L1743.12 1003.88 L1748.19 1003.88 L1748.19 1005.84 L1753.25 1005.84 L1753.25 1007.03 L1758.32 1007.03 L1758.32 1006.4 L1763.38 1006.4 L1763.38 1005.77 L1768.45 1005.77 L1768.45 1004.93 L1773.51 1004.93 L1773.51 1003.92 L1778.58 1003.92 L1778.58 1001.08 L1783.64 1001.08 L1783.64 1001.27 L1788.7 1001.27 L1788.7 1004.41 L1793.77 1004.41 L1793.77 1005.33 L1798.83 1005.33 L1798.83 1004.89 L1803.9 1004.89 L1803.9 1006.58 L1808.96 1006.58 L1808.96 1008.02 L1814.03 1008.02 L1814.03 1002.07 L1819.09 1002.07 L1819.09 1002.07 L1824.16 1002.07 L1824.16 1001.4 L1829.22 1001.4 L1829.22 1001.89 L1834.29 1001.89 L1834.29 1003.4 L1839.35 1003.4 L1839.35 1004.27 L1844.41 1004.27 L1844.41 1007.41 L1849.48 1007.41 L1849.48 1007.89 L1854.54 1007.89 L1854.54 1006.8 L1859.61 1006.8 L1859.61 1002.92 L1864.67 1002.92 L1864.67 1005.04 L1869.74 1005.04 L1869.74 1006.95 L1874.8 1006.95 L1874.8 1010.56 L1879.87 1010.56 L1879.87 1005.47 L1884.93 1005.47 L1884.93 1005.47 L1889.99 1005.47 L1889.99 1005.01 L1895.06 1005.01 L1895.06 1001.16 L1900.12 1001.16 L1900.12 999.9 L1905.19 999.9 L1905.19 999.97 L1910.25 999.97 L1910.25 1003.81 L1915.32 1003.81 L1915.32 1005.07 L1920.38 1005.07 L1920.38 1006.78 L1925.45 1006.78 L1925.45 1008.46 L1930.51 1008.46 L1930.51 1009.71 L1935.58 1009.71 L1935.58 1009.08 L1940.64 1009.08 L1940.64 997.34 L1945.7 997.34 L1945.7 985.82 L1950.77 985.82 L1950.77 979.04 L1955.83 979.04 L1955.83 974.81 L1960.9 974.81 L1960.9 969.5 L1965.96 969.5 L1965.96 966.52 L1971.03 966.52 L1971.03 969.66 L1976.09 969.66 L1976.09 962.81 L1981.16 962.81 L1981.16 951.9 L1986.22 951.9 L1986.22 938.32 L1991.28 938.32 L1991.28 929.76 L1996.35 929.76 L1996.35 927.59 L2001.41 927.59 L2001.41 928.26 L2006.48 928.26 L2006.48 929.06 L2011.54 929.06 L2011.54 929.06 L2016.61 929.06 L2016.61 930.75 L2021.67 930.75 L2021.67 924.81 L2026.74 924.81 L2026.74 926.75 L2031.8 926.75 L2031.8 928.75 L2036.87 928.75 L2036.87 928.73 L2041.93 928.73 L2041.93 923.11 L2046.99 923.11 L2046.99 923.96 L2052.06 923.96 L2052.06 927.77 L2057.12 927.77 L2057.12 930.17 L2062.19 930.17 L2062.19 931.75 L2067.25 931.75 L2067.25 932.77 L2072.32 932.77 L2072.32 934.1 L2077.38 934.1 L2077.38 936.18 L2082.45 936.18 L2082.45 936.02 L2087.51 936.02 L2087.51 929.87 L2092.57 929.87 L2092.57 928.21 L2097.64 928.21 L2097.64 931.86 L2102.7 931.86 L2102.7 936.11 L2107.77 936.11 L2107.77 937.47 L2112.83 937.47 L2112.83 938.55 L2117.9 938.55 L2117.9 940.31 L2122.96 940.31 L2122.96 942.91 L2128.03 942.91 L2128.03 946.22 L2133.09 946.22 L2133.09 948.53 L2138.16 948.53 L2138.16 947.68 L2143.22 947.68 L2143.22 946.84 L2148.28 946.84 L2148.28 945.78 L2153.35 945.78 L2153.35 943.98 L2158.41 943.98 L2158.41 944.46 L2163.48 944.46 L2163.48 948.99 L2168.54 948.99 L2168.54 947.23 L2173.61 947.23 L2173.61 939.47 L2178.67 939.47 L2178.67 938.81 L2183.74 938.81 L2183.74 940.94 L2188.8 940.94 L2188.8 931.6 L2193.86 931.6 L2193.86 924.81 L2198.93 924.81 L2198.93 924.81 L2203.99 924.81 L2203.99 928.13 L2209.06 928.13 L2209.06 925.01 L2214.12 925.01 L2214.12 924.81 L2219.19 924.81 L2219.19 925.21 L2224.25 925.21 L2224.25 925.85 L2229.32 925.85 L2229.32 926.48 L2234.38 926.48 L2234.38 925.85 L2239.45 925.85 L2239.45 925.66 L2244.51 925.66 L2244.51 924.97 L2249.57 924.97 L2249.57 924.34 L2254.64 924.34 L2254.64 928.13 L2259.7 928.13 L2259.7 926.41 L2264.77 926.41 L2264.77 924.81 L2267.3 924.81" fill="none" stroke="#b955f1" stroke-width="4.17" stroke-linejoin="round" stroke-linecap="round"/>
</g>
<g clip-path="url(#c8)">
<ellipse cx="1760.85" cy="1278" rx="506.45" ry="41.4" fill="#e5e5e5"/>
<path d="M1275.66 1291.04 L1275.66 1294.62 L1279.72 1294.62 L1282.25 1294.62 L1282.25 1292.12 L1287.32 1292.12 L1287.32 1292.62 L1292.38 1292.62 L1292.38 1291.94 L1297.45 1291.94 L1297.45 1282.11 L1302.51 1282.11 L1302.51 1284.61 L1307.58 1284.61 L1307.58 1284.36 L1312.64 1284.36 L1312.64 1281.24 L1317.71 1281.24 L1317.71 1277.45 L1322.77 1277.45 L1322.77 1280.52 L1327.84 1280.52 L1327.84 1284.28 L1332.9 1284.28 L1332.9 1287.64 L1337.96 1287.64 L1337.96 1287.64 L1343.03 1287.64 L1343.03 1281.27 L1348.09 1281.27 L1348.09 1284.61 L1353.16 1284.61 L1353.16 1284.19 L1358.22 1284.19 L1358.22 1281.98 L1363.29 1281.98 L1363.29 1278.51 L1368.35 1278.51 L1368.35 1274.88 L1373.42 1274.88 L1373.42 1279.15 L1378.48 1279.15 L1378.48 1278.72 L1383.54 1278.72 L1383.54 1272.83 L1388.61 1272.83 L1388.61 1271.79 L1393.67 1271.79 L1393.67 1271.49 L1398.74 1271.49 L1398.74 1273.21 L1403.8 1273.21 L1403.8 1268.7 L1408.87 1268.7 L1408.87 1266.47 L1413.93 1266.47 L1413.93 1263.93 L1419 1263.93 L1419 1258.19 L1424.06 1258.19 L1424.06 1259.52 L1429.13 1259.52 L1429.13 1252.07 L1434.19 1252.07 L1434.19 1253.91 L1439.25 1253.91 L1439.25 1255.89 L1444.32 1255.89 L1444.32 1255.84 L1449.38 1255.84 L1449.38 1250.28 L1454.45 1250.28 L1454.45 1251.27 L1459.51 1251.27 L1459.51 1253.58 L1464.58 1253.58 L1464.58 1253.58 L1469.64 1253.58 L1469.64 1251.49 L1474.71 1251.49 L1474.71 1251.61 L1479.77 1251.61 L1479.77 1250.54 L1484.83 1250.54 L1484.83 1251.04 L1489.9 1251.04 L1489.9 1253.12 L1494.96 1253.12 L1494.96 1253.37 L1500.03 1253.37 L1500.03 1256.23 L1505.09 1256.23 L1505.09 1252.57 L1510.16 1252.57 L1510.16 1246.52 L1515.22 1246.52 L1515.22 1248.04 L1520.29 1248.04 L1520.29 1250.03 L1525.35 1250.03 L1525.35 1249.56 L1530.42 1249.56 L1530.42 1253.05 L1535.48 1253.05 L1535.48 1254.31 L1540.54 1254.31 L1540.54 1255.05 L1545.61 1255.05 L1545.61 1255.69 L1550.67 1255.69 L1550.67 1256.6 L1555.74 1256.6 L1555.74 1257.92 L1560.8 1257.92 L1560.8 1254.53 L1565.87 1254.53 L1565.87 1257.19 L1570.93 1257.19 L1570.93 1258.24 L1576 1258.24 L1576 1259.04 L1581.06 1259.04 L1581.06 1255.38 L1586.12 1255.38 L1586.12 1255.31 L1591.19 1255.31 L1591.19 1254.45 L1596.25 1254.45 L1596.25 1253.93 L1601.32 1253.93 L1601.32 1254.44 L1606.38 1254.44 L1606.38 1252.36 L1611.45 1252.36 L1611.45 1247.63 L1616.51 1247.63 L1616.51 1246.89 L1621.58 1246.89 L1621.58 1245.7 L1626.64 1245.7 L1626.64 1244.02 L1631.71 1244.02 L1631.71 1241.75 L1636.77 1241.75 L1636.77 1240.94 L1641.83 1240.94 L1641.83 1241.52 L1646.9 1241.52 L1646.9 1243.49 L1651.96 1243.49 L1651.96 1244.34 L1657.03 1244.34 L1657.03 1244.89 L1662.09 1244.89 L1662.09 1246.84 L1667.16 1246.84 L1667.16 1246.89 L1672.22 1246.89 L1672.22 1247.43 L1677.29 1247.43 L1677.29 1248.27 L1682.35 1248.27 L1682.35 1249.65 L1687.41 1249.65 L1687.41 1249.76 L1692.48 1249.76 L1692.48 1251 L1697.54 1251 L1697.54 1251.73 L1702.61 1251.73 L1702.61 1251.6 L1707.67 1251.6 L1707.67 1250.8 L1712.74 1250.8 L1712.74 1250.78 L1717.8 1250.78 L1717.8 1251.5 L1722.87 1251.5 L1722.87 1252.16 L1727.93 1252.16 L1727.93 1250.23 L1733 1250.23 L1733 1246.89 L1738.06 1246.89 L1738.06 1247.29 L1743.12 1247.29 L1743.12 1245.38 L1748.19 1245.38 L1748.19 1245.19 L1753.25 1245.19 L1753.25 1245.88 L1758.32 1245.88 L1758.32 1247.06 L1763.38 1247.06 L1763.38 1247.4 L1768.45 1247.4 L1768.45 1245.79 L1773.51 1245.79 L1773.51 1244.52 L1778.58 1244.52 L1778.58 1244.34 L1783.64 1244.34 L1783.64 1241.36 L1788.7 1241.36 L1788.7 1238.4 L1793.77 1238.4 L1793.77 1238.4 L1798.83 1238.4 L1798.83 1237.98 L1803.9 1237.98 L1803.9 1236.97 L1808.96 1236.97 L1808.96 1233.78 L1814.03 1233.78 L1814.03 1232.79 L1819.09 1232.79 L1819.09 1232.21 L1824.16 1232.21 L1824.16 1231.71 L1829.22 1231.71 L1829.22 1230.93 L1834.29 1230.93 L1834.29 1230.25 L1839.35 1230.25 L1839.35 1229.9 L1844.41 1229.9 L1844.41 1229.9 L1849.48 1229.9 L1849.48 1230.16 L1854.54 1230.16 L1854.54 1231.06 L1859.61 1231.06 L1859.61 1228.21 L1864.67 1228.21 L1864.67 1231.28 L1869.74 1231.28 L1869.74 1233.8 L1874.8 1233.8 L1874.8 1230.66 L1879.87 1230.66 L1879.87 1229.9 L1884.93 1229.9 L1884.93 1232.45 L1889.99 1232.45 L1889.99 1232.12 L1895.06 1232.12 L1895.06 1232.09 L1900.12 1232.09 L1900.12 1234.12 L1905.19 1234.12 L1905.19 1233.21 L1910.25 1233.21 L1910.25 1231.6 L1915.32 1231.6 L1915.32 1231.58 L1920.38 1231.58 L1920.38 1230.73 L1925.45 1230.73 L1925.45 1231.66 L1930.51 1231.66 L1930.51 1232.36 L1935.58 1232.36 L1935.58 1229.9 L1940.64 1229.9 L1940.64 1231.5 L1945.7 1231.5 L1945.7 1235.24 L1950.77 1235.24 L1950.77 1235.14 L1955.83 1235.14 L1955.83 1234.54 L1960.9 1234.54 L1960.9 1235 L1965.96 1235 L1965.96 1235 L1971.03 1235 L1971.03 1235 L1976.09 1235 L1976.09 1233.73 L1981.16 1233.73 L1981.16 1234.23 L1986.22 1234.23 L1986.22 1235.85 L1991.28 1235.85 L1991.28 1235.85 L1996.35 1235.85 L1996.35 1237.57 L2001.41 1237.57 L2001.41 1239.9 L2006.48 1239.9 L2006.48 1238.6 L2011.54 1238.6 L2011.54 1237.65 L2016.61 1237.65 L2016.61 1238.28 L2021.67 1238.28 L2021.67 1237.66 L2026.74 1237.66 L2026.74 1238.27 L2031.8 1238.27 L2031.8 1236.7 L2036.87 1236.7 L2036.87 1239.09 L2041.93 1239.09 L2041.93 1238.1 L2046.99 1238.1 L2046.99 1236.8 L2052.06 1236.8 L2052.06 1237.44 L2057.12 1237.44 L2057.12 1235.85 L2062.19 1235.85 L2062.19 1238.31 L2067.25 1238.31 L2067.25 1239.93 L2072.32 1239.93 L2072.32 1241.46 L2077.38 1241.46 L2077.38 1241.79 L2082.45 1241.79 L2082.45 1238.85 L2087.51 1238.85 L2087.51 1239.17 L2092.57 1239.17 L2092.57 1240.85 L2097.64 1240.85 L2097.64 1242.92 L2102.7 1242.92 L2102.7 1240.94 L2107.77 1240.94 L2107.77 1242.59 L2112.83 1242.59 L2112.83 1244.13 L2117.9 1244.13 L2117.9 1245.61 L2122.96 1245.61 L2122.96 1247.94 L2128.03 1247.94 L2128.03 1248.58 L2133.09 1248.58 L2133.09 1248.7 L2138.16 1248.7 L2138.16 1250.39 L2143.22 1250.39 L2143.22 1252.07 L2148.28 1252.07 L2148.28 1253.68 L2153.35 1253.68 L2153.35 1253.68 L2158.41 1253.68 L2158.41 1255.38 L2163.48 1255.38 L2163.48 1255.38 L2168.54 1255.38 L2168.54 1255.38 L2173.61 1255.38 L2173.61 1257.96 L2178.67 1257.96 L2178.67 1259.63 L2183.74 1259.63 L2183.74 1260.49 L2188.8 1260.49 L2188.8 1261.88 L2193.86 1261.88 L2193.86 1261.04 L2198.93 1261.04 L2198.93 1260.75 L2203.99 1260.75 L2203.99 1262.13 L2209.06 1262.13 L2209.06 1264.66 L2214.12 1264.66 L2214.12 1268.83 L2219.19 1268.83 L2219.19 1269.78 L2224.25 1269.78 L2224.25 1268.99 L2229.32 1268.99 L2229.32 1268.15 L2234.38 1268.15 L2234.38 1269.32 L2239.45 1269.32 L2239.45 1269.81 L2244.51 1269.81 L2244.51 1270.27 L2249.57 1270.27 L2249.57 1272.53 L2254.64 1272.53 L2254.64 1275.06 L2259.7 1275.06 L2259.7 1276.46 L2264.77 1276.46 L2264.77 1277.66 L2267.3 1277.66" fill="none" stroke="#008b92" stroke-width="4.17" stroke-linejoin="round" stroke-linecap="round"/>
<path d="M1253.58 1277.45 L1253.58 1266.33 L1254.4 1266.33 L1256.93 1266.33 L1256.93 1256.92 L1262 1256.92 L1262 1247.06 L1267.06 1247.06 L1267.06 1237.2 L1272.13 1237.2 L1272.13 1234.95 L1277.19 1234.95 L1277.19 1233.15 L1282.25 1233.15 L1282.25 1230.93 L1287.32 1230.93 L1287.32 1227.42 L1292.38 1227.42 L1292.38 1220.57 L1297.45 1220.57 L1297.45 1223.67 L1302.51 1223.67 L1302.51 1226.77 L1307.58 1226.77 L1307.58 1228.94 L1312.64 1228.94 L1312.64 1232.06 L1317.71 1232.06 L1317.71 1234.58 L1322.77 1234.58 L1322.77 1237.85 L1327.84 1237.85 L1327.84 1240.78 L1332.9 1240.78 L1332.9 1242.81 L1337.96 1242.81 L1337.96 1244.09 L1343.03 1244.09 L1343.03 1243.63 L1348.09 1243.63 L1348.09 1246.22 L1353.16 1246.22 L1353.16 1250.5 L1358.22 1250.5 L1358.22 1253.77 L1363.29 1253.77 L1363.29 1254.53 L1368.35 1254.53 L1368.35 1254.53 L1373.42 1254.53 L1373.42 1254.68 L1378.48 1254.68 L1378.48 1259.69 L1383.54 1259.69 L1383.54 1263.19 L1388.61 1263.19 L1388.61 1263.7 L1393.67 1263.7 L1393.67 1264.43 L1398.74 1264.43 L1398.74 1266.95 L1403.8 1266.95 L1403.8 1268.11 L1408.87 1268.11 L1408.87 1268.91 L1413.93 1268.91 L1413.93 1271.83 L1419 1271.83 L1419 1275.36 L1424.06 1275.36 L1424.06 1279 L1429.13 1279 L1429.13 1279.96 L1434.19 1279.96 L1434.19 1275.88 L1439.25 1275.88 L1439.25 1277.17 L1444.32 1277.17 L1444.32 1281.2 L1449.38 1281.2 L1449.38 1284.07 L1454.45 1284.07 L1454.45 1286.6 L1459.51 1286.6 L1459.51 1288.39 L1464.58 1288.39 L1464.58 1289.76 L1469.64 1289.76 L1469.64 1291.5 L1474.71 1291.5 L1474.71 1293.4 L1479.77 1293.4 L1479.77 1293.58 L1484.83 1293.58 L1484.83 1292.16 L1489.9 1292.16 L1489.9 1292.64 L1494.96 1292.64 L1494.96 1295.55 L1500.03 1295.55 L1500.03 1296.82 L1505.09 1296.82 L1505.09 1298.45 L1510.16 1298.45 L1510.16 1299.07 L1515.22 1299.07 L1515.22 1302.07 L1520.29 1302.07 L1520.29 1301.37 L1525.35 1301.37 L1525.35 1298.66 L1530.42 1298.66 L1530.42 1297.83 L1535.48 1297.83 L1535.48 1298.68 L1540.54 1298.68 L1540.54 1299.95 L1545.61 1299.95 L1545.61 1300.69 L1550.67 1300.69 L1550.67 1301.6 L1555.74 1301.6 L1555.74 1303.53 L1560.8 1303.53 L1560.8 1304.71 L1565.87 1304.71 L1565.87 1305.34 L1570.93 1305.34 L1570.93 1300.83 L1576 1300.83 L1576 1302.68 L1581.06 1302.68 L1581.06 1304.43 L1586.12 1304.43 L1586.12 1300.85 L1591.19 1300.85 L1591.19 1296.98 L1596.25 1296.98 L1596.25 1297.98 L1601.32 1297.98 L1601.32 1298.68 L1606.38 1298.68 L1606.38 1298.68 L1611.45 1298.68 L1611.45 1298.44 L1616.51 1298.44 L1616.51 1297.89 L1621.58 1297.89 L1621.58 1299.58 L1626.64 1299.58 L1626.64 1301.31 L1631.71 1301.31 L1631.71 1304.37 L1636.77 1304.37 L1636.77 1304.88 L1641.83 1304.88 L1641.83 1303.56 L1646.9 1303.56 L1646.9 1302.92 L1651.96 1302.92 L1651.96 1303.77 L1657.03 1303.77 L1657.03 1300.44 L1662.09 1300.44 L1662.09 1298.68 L1667.16 1298.68 L1667.16 1298.94 L1672.22 1298.94 L1672.22 1299.78 L1677.29 1299.78 L1677.29 1300.75 L1682.35 1300.75 L1682.35 1297.36 L1687.41 1297.36 L1687.41 1295.43 L1692.48 1295.43 L1692.48 1295.93 L1697.54 1295.93 L1697.54 1298.45 L1702.61 1298.45 L1702.61 1300.27 L1707.67 1300.27 L1707.67 1301.16 L1712.74 1301.16 L1712.74 1299.66 L1717.8 1299.66 L1717.8 1298.75 L1722.87 1298.75 L1722.87 1297.9 L1727.93 1297.9 L1727.93 1300.86 L1733 1300.86 L1733 1299.06 L1738.06 1299.06 L1738.06 1296.98 L1743.12 1296.98 L1743.12 1297.17 L1748.19 1297.17 L1748.19 1298.01 L1753.25 1298.01 L1753.25 1298.5 L1758.32 1298.5 L1758.32 1298 L1763.38 1298 L1763.38 1299.01 L1768.45 1299.01 L1768.45 1300.13 L1773.51 1300.13 L1773.51 1298.86 L1778.58 1298.86 L1778.58 1298.68 L1783.64 1298.68 L1783.64 1301.67 L1788.7 1301.67 L1788.7 1303.66 L1793.77 1303.66 L1793.77 1303.03 L1798.83 1303.03 L1798.83 1307.17 L1803.9 1307.17 L1803.9 1304.88 L1808.96 1304.88 L1808.96 1306.41 L1814.03 1306.41 L1814.03 1307.04 L1819.09 1307.04 L1819.09 1307.85 L1824.16 1307.85 L1824.16 1306.67 L1829.22 1306.67 L1829.22 1302.92 L1834.29 1302.92 L1834.29 1302.54 L1839.35 1302.54 L1839.35 1302.45 L1844.41 1302.45 L1844.41 1302.55 L1849.48 1302.55 L1849.48 1301.71 L1854.54 1301.71 L1854.54 1298.68 L1859.61 1298.68 L1859.61 1299.35 L1864.67 1299.35 L1864.67 1300.59 L1869.74 1300.59 L1869.74 1298.96 L1874.8 1298.96 L1874.8 1297.49 L1879.87 1297.49 L1879.87 1296.98 L1884.93 1296.98 L1884.93 1296.73 L1889.99 1296.73 L1889.99 1296 L1895.06 1296 L1895.06 1293.46 L1900.12 1293.46 L1900.12 1291.25 L1905.19 1291.25 L1905.19 1289.56 L1910.25 1289.56 L1910.25 1288.03 L1915.32 1288.03 L1915.32 1289.34 L1920.38 1289.34 L1920.38 1289.32 L1925.45 1289.32 L1925.45 1288.48 L1930.51 1288.48 L1930.51 1287.64 L1935.58 1287.64 L1935.58 1288.49 L1940.64 1288.49 L1940.64 1290.07 L1945.7 1290.07 L1945.7 1287.64 L1950.77 1287.64 L1950.77 1287.64 L1955.83 1287.64 L1955.83 1286.1 L1960.9 1286.1 L1960.9 1287.47 L1965.96 1287.47 L1965.96 1289.5 L1971.03 1289.5 L1971.03 1290.69 L1976.09 1290.69 L1976.09 1290.54 L1981.16 1290.54 L1981.16 1290.19 L1986.22 1290.19 L1986.22 1290.19 L1991.28 1290.19 L1991.28 1290.78 L1996.35 1290.78 L1996.35 1293.31 L2001.41 1293.31 L2001.41 1291.9 L2006.48 1291.9 L2006.48 1289.26 L2011.54 1289.26 L2011.54 1287.57 L2016.61 1287.57 L2016.61 1286.34 L2021.67 1286.34 L2021.67 1286.84 L2026.74 1286.84 L2026.74 1287.64 L2031.8 1287.64 L2031.8 1286.76 L2036.87 1286.76 L2036.87 1285.29 L2041.93 1285.29 L2041.93 1286.05 L2046.99 1286.05 L2046.99 1286.68 L2052.06 1286.68 L2052.06 1286.79 L2057.12 1286.79 L2057.12 1290.38 L2062.19 1290.38 L2062.19 1289.19 L2067.25 1289.19 L2067.25 1289.86 L2072.32 1289.86 L2072.32 1288.82 L2077.38 1288.82 L2077.38 1288.49 L2082.45 1288.49 L2082.45 1289.45 L2087.51 1289.45 L2087.51 1293.66 L2092.57 1293.66 L2092.57 1294.29 L2097.64 1294.29 L2097.64 1293.94 L2102.7 1293.94 L2102.7 1293.21 L2107.77 1293.21 L2107.77 1291.64 L2112.83 1291.64 L2112.83 1290.39 L2117.9 1290.39 L2117.9 1291.92 L2122.96 1291.92 L2122.96 1293.07 L2128.03 1293.07 L2128.03 1291.7 L2133.09 1291.7 L2133.09 1291.04 L2138.16 1291.04 L2138.16 1291.65 L2143.22 1291.65 L2143.22 1290.66 L2148.28 1290.66 L2148.28 1288.49 L2153.35 1288.49 L2153.35 1288.71 L2158.41 1288.71 L2158.41 1288.02 L2163.48 1288.02 L2163.48 1286.75 L2168.54 1286.75 L2168.54 1285.48 L2173.61 1285.48 L2173.61 1282.51 L2178.67 1282.51 L2178.67 1280.7 L2183.74 1280.7 L2183.74 1279.16 L2188.8 1279.16 L2188.8 1279.79 L2193.86 1279.79 L2193.86 1282.54 L2198.93 1282.54 L2198.93 1282.55 L2203.99 1282.55 L2203.99 1278.48 L2209.06 1278.48 L2209.06 1275.06 L2214.12 1275.06 L2214.12 1274.28 L2219.19 1274.28 L2219.19 1273.65 L2224.25 1273.65 L2224.25 1273.39 L2229.32 1273.39 L2229.32 1274.03 L2234.38 1274.03 L2234.38 1272.44 L2239.45 1272.44 L2239.45 1272.36 L2244.51 1272.36 L2244.51 1274.75 L2249.57 1274.75 L2249.57 1276.77 L2254.64 1276.77 L2254.64 1277.4 L2259.7 1277.4 L2259.7 1277.67 L2264.77 1277.67 L2264.77 1277.9 L2267.3 1277.9" fill="none" stroke="#f15c58" stroke-width="4.17" stroke-linejoin="round" stroke-linecap="round"/>
<path d="M1301.98 1309.71 L1301.98 1300.97 L1305.05 1300.97 L1307.58 1300.97 L1307.58 1302.52 L1312.64 1302.52 L1312.64 1304.85 L1317.71 1304.85 L1317.71 1307.49 L1322.77 1307.49 L1322.77 1310.76 L1327.84 1310.76 L1327.84 1315.09 L1332.9 1315.09 L1332.9 1318.37 L1337.96 1318.37 L1337.96 1321.41 L1343.03 1321.41 L1343.03 1324.29 L1348.09 1324.29 L1348.09 1327.73 L1353.16 1327.73 L1353.16 1331.05 L1358.22 1331.05 L1358.22 1333.58 L1363.29 1333.58 L1363.29 1337.85 L1368.35 1337.85 L1368.35 1340.89 L1373.42 1340.89 L1373.42 1343.78 L1378.48 1343.78 L1378.48 1348.77 L1383.54 1348.77 L1383.54 1348.71 L1388.61 1348.71 L1388.61 1347.09 L1393.67 1347.09 L1393.67 1351.32 L1398.74 1351.32 L1398.74 1346.8 L1403.8 1346.8 L1403.8 1345.82 L1408.87 1345.82 L1408.87 1345.92 L1413.93 1345.92 L1413.93 1345.68 L1419 1345.68 L1419 1340.65 L1424.06 1340.65 L1424.06 1343.48 L1429.13 1343.48 L1429.13 1344.49 L1434.19 1344.49 L1434.19 1345.13 L1439.25 1345.13 L1439.25 1346.15 L1444.32 1346.15 L1444.32 1348.77 L1449.38 1348.77 L1449.38 1343.68 L1454.45 1343.68 L1454.45 1343.68 L1459.51 1343.68 L1459.51 1346.87 L1464.58 1346.87 L1464.58 1350.88 L1469.64 1350.88 L1469.64 1352.09 L1474.71 1352.09 L1474.71 1353.7 L1479.77 1353.7 L1479.77 1352.34 L1484.83 1352.34 L1484.83 1350.65 L1489.9 1350.65 L1489.9 1350.47 L1494.96 1350.47 L1494.96 1347.65 L1500.03 1347.65 L1500.03 1344.35 L1505.09 1344.35 L1505.09 1344.19 L1510.16 1344.19 L1510.16 1345.37 L1515.22 1345.37 L1515.22 1344.71 L1520.29 1344.71 L1520.29 1345.25 L1525.35 1345.25 L1525.35 1346.81 L1530.42 1346.81 L1530.42 1352.4 L1535.48 1352.4 L1535.48 1353.72 L1540.54 1353.72 L1540.54 1351.76 L1545.61 1351.76 L1545.61 1350.79 L1550.67 1350.79 L1550.67 1349.85 L1555.74 1349.85 L1555.74 1344.06 L1560.8 1344.06 L1560.8 1343.68 L1565.87 1343.68 L1565.87 1343.17 L1570.93 1343.17 L1570.93 1341.13 L1576 1341.13 L1576 1340.82 L1581.06 1340.82 L1581.06 1339.72 L1586.12 1339.72 L1586.12 1340.28 L1591.19 1340.28 L1591.19 1339.81 L1596.25 1339.81 L1596.25 1339.15 L1601.32 1339.15 L1601.32 1334.34 L1606.38 1334.34 L1606.38 1334.38 L1611.45 1334.38 L1611.45 1335.19 L1616.51 1335.19 L1616.51 1339.43 L1621.58 1339.43 L1621.58 1334.23 L1626.64 1334.23 L1626.64 1333.66 L1631.71 1333.66 L1631.71 1327.54 L1636.77 1327.54 L1636.77 1329.23 L1641.83 1329.23 L1641.83 1328.39 L1646.9 1328.39 L1646.9 1327.12 L1651.96 1327.12 L1651.96 1325.85 L1657.03 1325.85 L1657.03 1324.45 L1662.09 1324.45 L1662.09 1323.03 L1667.16 1323.03 L1667.16 1322.71 L1672.22 1322.71 L1672.22 1323.04 L1677.29 1323.04 L1677.29 1322.7 L1682.35 1322.7 L1682.35 1323.55 L1687.41 1323.55 L1687.41 1324.88 L1692.48 1324.88 L1692.48 1326.37 L1697.54 1326.37 L1697.54 1325.92 L1702.61 1325.92 L1702.61 1323.3 L1707.67 1323.3 L1707.67 1323.3 L1712.74 1323.3 L1712.74 1325.92 L1717.8 1325.92 L1717.8 1325.92 L1722.87 1325.92 L1722.87 1325.85 L1727.93 1325.85 L1727.93 1326.76 L1733 1326.76 L1733 1329.12 L1738.06 1329.12 L1738.06 1330.67 L1743.12 1330.67 L1743.12 1333.2 L1748.19 1333.2 L1748.19 1335.27 L1753.25 1335.27 L1753.25 1335.57 L1758.32 1335.57 L1758.32 1335.19 L1763.38 1335.19 L1763.38 1335.19 L1768.45 1335.19 L1768.45 1335.19 L1773.51 1335.19 L1773.51 1335.19 L1778.58 1335.19 L1778.58 1336.58 L1783.64 1336.58 L1783.64 1333.49 L1788.7 1333.49 L1788.7 1333.34 L1793.77 1333.34 L1793.77 1332.78 L1798.83 1332.78 L1798.83 1331.88 L1803.9 1331.88 L1803.9 1328.7 L1808.96 1328.7 L1808.96 1325.75 L1814.03 1325.75 L1814.03 1325.12 L1819.09 1325.12 L1819.09 1324.32 L1824.16 1324.32 L1824.16 1324.82 L1829.22 1324.82 L1829.22 1325 L1834.29 1325 L1834.29 1324.62 L1839.35 1324.62 L1839.35 1327.54 L1844.41 1327.54 L1844.41 1327.54 L1849.48 1327.54 L1849.48 1325.48 L1854.54 1325.48 L1854.54 1324.73 L1859.61 1324.73 L1859.61 1324.15 L1864.67 1324.15 L1864.67 1324.15 L1869.74 1324.15 L1869.74 1322.4 L1874.8 1322.4 L1874.8 1321.77 L1879.87 1321.77 L1879.87 1320.98 L1884.93 1320.98 L1884.93 1319.09 L1889.99 1319.09 L1889.99 1319.72 L1895.06 1319.72 L1895.06 1320.36 L1900.12 1320.36 L1900.12 1321.23 L1905.19 1321.23 L1905.19 1322.45 L1910.25 1322.45 L1910.25 1318.23 L1915.32 1318.23 L1915.32 1319.11 L1920.38 1319.11 L1920.38 1321.59 L1925.45 1321.59 L1925.45 1320.68 L1930.51 1320.68 L1930.51 1315.93 L1935.58 1315.93 L1935.58 1314.21 L1940.64 1314.21 L1940.64 1311.41 L1945.7 1311.41 L1945.7 1311.05 L1950.77 1311.05 L1950.77 1311.6 L1955.83 1311.6 L1955.83 1312.65 L1960.9 1312.65 L1960.9 1313.34 L1965.96 1313.34 L1965.96 1313.3 L1971.03 1313.3 L1971.03 1310.98 L1976.09 1310.98 L1976.09 1309.5 L1981.16 1309.5 L1981.16 1307.63 L1986.22 1307.63 L1986.22 1310.56 L1991.28 1310.56 L1991.28 1308.41 L1996.35 1308.41 L1996.35 1306.5 L2001.41 1306.5 L2001.41 1304.62 L2006.48 1304.62 L2006.48 1304.62 L2011.54 1304.62 L2011.54 1308.55 L2016.61 1308.55 L2016.61 1309.59 L2021.67 1309.59 L2021.67 1308.95 L2026.74 1308.95 L2026.74 1308.32 L2031.8 1308.32 L2031.8 1307.14 L2036.87 1307.14 L2036.87 1307.19 L2041.93 1307.19 L2041.93 1304.51 L2046.99 1304.51 L2046.99 1303.88 L2052.06 1303.88 L2052.06 1304.19 L2057.12 1304.19 L2057.12 1304.75 L2062.19 1304.75 L2062.19 1305.66 L2067.25 1305.66 L2067.25 1305.71 L2072.32 1305.71 L2072.32 1305.98 L2077.38 1305.98 L2077.38 1306.32 L2082.45 1306.32 L2082.45 1305.54 L2087.51 1305.54 L2087.51 1303.47 L2092.57 1303.47 L2092.57 1297.83 L2097.64 1297.83 L2097.64 1297.55 L2102.7 1297.55 L2102.7 1296.35 L2107.77 1296.35 L2107.77 1296.86 L2112.83 1296.86 L2112.83 1298.83 L2117.9 1298.83 L2117.9 1298.86 L2122.96 1298.86 L2122.96 1294.43 L2128.03 1294.43 L2128.03 1295.12 L2133.09 1295.12 L2133.09 1296.81 L2138.16 1296.81 L2138.16 1297.49 L2143.22 1297.49 L2143.22 1296.32 L2148.28 1296.32 L2148.28 1296.26 L2153.35 1296.26 L2153.35 1296.81 L2158.41 1296.81 L2158.41 1291.92 L2163.48 1291.92 L2163.48 1292.86 L2168.54 1292.86 L2168.54 1295.89 L2173.61 1295.89 L2173.61 1297.28 L2178.67 1297.28 L2178.67 1300.35 L2183.74 1300.35 L2183.74 1298.66 L2188.8 1298.66 L2188.8 1296.97 L2193.86 1296.97 L2193.86 1295.71 L2198.93 1295.71 L2198.93 1294.72 L2203.99 1294.72 L2203.99 1295.54 L2209.06 1295.54 L2209.06 1297.78 L2214.12 1297.78 L2214.12 1297.21 L2219.19 1297.21 L2219.19 1296.17 L2224.25 1296.17 L2224.25 1290.76 L2229.32 1290.76 L2229.32 1289.37 L2234.38 1289.37 L2234.38 1289.94 L2239.45 1289.94 L2239.45 1289.8 L2244.51 1289.8 L2244.51 1288.64 L2249.57 1288.64 L2249.57 1285.43 L2254.64 1285.43 L2254.64 1281.88 L2259.7 1281.88 L2259.7 1279.92 L2264.77 1279.92 L2264.77 1278.36 L2267.3 1278.36" fill="none" stroke="#48cdef" stroke-width="4.17" stroke-linejoin="round" stroke-linecap="round"/>
<path d="M1276.51 1291.88 L1276.51 1282.55 L1279.72 1282.55 L1282.25 1282.55 L1282.25 1286.72 L1287.32 1286.72 L1287.32 1290.49 L1292.38 1290.49 L1292.38 1293.02 L1297.45 1293.02 L1297.45 1296.5 L1302.51 1296.5 L1302.51 1300.01 L1307.58 1300.01 L1307.58 1296.82 L1312.64 1296.82 L1312.64 1294.59 L1317.71 1294.59 L1317.71 1292.1 L1322.77 1292.1 L1322.77 1286.05 L1327.84 1286.05 L1327.84 1275.35 L1332.9 1275.35 L1332.9 1264.74 L1337.96 1264.74 L1337.96 1260.47 L1343.03 1260.47 L1343.03 1263.87 L1348.09 1263.87 L1348.09 1253.97 L1353.16 1253.97 L1353.16 1245.87 L1358.22 1245.87 L1358.22 1242.07 L1363.29 1242.07 L1363.29 1240.5 L1368.35 1240.5 L1368.35 1239.18 L1373.42 1239.18 L1373.42 1236.73 L1378.48 1236.73 L1378.48 1229.92 L1383.54 1229.92 L1383.54 1230.46 L1388.61 1230.46 L1388.61 1228.62 L1393.67 1228.62 L1393.67 1226.23 L1398.74 1226.23 L1398.74 1226.5 L1403.8 1226.5 L1403.8 1228 L1408.87 1228 L1408.87 1227.37 L1413.93 1227.37 L1413.93 1231.53 L1419 1231.53 L1419 1234.47 L1424.06 1234.47 L1424.06 1234.98 L1429.13 1234.98 L1429.13 1236.62 L1434.19 1236.62 L1434.19 1238.31 L1439.25 1238.31 L1439.25 1233.04 L1444.32 1233.04 L1444.32 1229.16 L1449.38 1229.16 L1449.38 1229.06 L1454.45 1229.06 L1454.45 1227.53 L1459.51 1227.53 L1459.51 1220.27 L1464.58 1220.27 L1464.58 1217.88 L1469.64 1217.88 L1469.64 1216.68 L1474.71 1216.68 L1474.71 1213.77 L1479.77 1213.77 L1479.77 1215.54 L1484.83 1215.54 L1484.83 1217.46 L1489.9 1217.46 L1489.9 1215.19 L1494.96 1215.19 L1494.96 1212.08 L1500.03 1212.08 L1500.03 1212.87 L1505.09 1212.87 L1505.09 1216.83 L1510.16 1216.83 L1510.16 1220.57 L1515.22 1220.57 L1515.22 1216.28 L1520.29 1216.28 L1520.29 1212.92 L1525.35 1212.92 L1525.35 1216.31 L1530.42 1216.31 L1530.42 1210.16 L1535.48 1210.16 L1535.48 1207.62 L1540.54 1207.62 L1540.54 1203.58 L1545.61 1203.58 L1545.61 1203.58 L1550.67 1203.58 L1550.67 1205.43 L1555.74 1205.43 L1555.74 1207.51 L1560.8 1207.51 L1560.8 1209.41 L1565.87 1209.41 L1565.87 1208.85 L1570.93 1208.85 L1570.93 1210.7 L1576 1210.7 L1576 1213.13 L1581.06 1213.13 L1581.06 1214.82 L1586.12 1214.82 L1586.12 1216.66 L1591.19 1216.66 L1591.19 1218.57 L1596.25 1218.57 L1596.25 1221.1 L1601.32 1221.1 L1601.32 1223.25 L1606.38 1223.25 L1606.38 1225.46 L1611.45 1225.46 L1611.45 1227.46 L1616.51 1227.46 L1616.51 1229.68 L1621.58 1229.68 L1621.58 1230.98 L1626.64 1230.98 L1626.64 1231.66 L1631.71 1231.66 L1631.71 1233.9 L1636.77 1233.9 L1636.77 1235.58 L1641.83 1235.58 L1641.83 1236.91 L1646.9 1236.91 L1646.9 1237.55 L1651.96 1237.55 L1651.96 1237.53 L1657.03 1237.53 L1657.03 1240.06 L1662.09 1240.06 L1662.09 1241.26 L1667.16 1241.26 L1667.16 1240.29 L1672.22 1240.29 L1672.22 1240.92 L1677.29 1240.92 L1677.29 1240.94 L1682.35 1240.94 L1682.35 1240.54 L1687.41 1240.54 L1687.41 1239.36 L1692.48 1239.36 L1692.48 1237.35 L1697.54 1237.35 L1697.54 1236.31 L1702.61 1236.31 L1702.61 1235.68 L1707.67 1235.68 L1707.67 1235.04 L1712.74 1235.04 L1712.74 1234.41 L1717.8 1234.41 L1717.8 1232.66 L1722.87 1232.66 L1722.87 1234.33 L1727.93 1234.33 L1727.93 1235.77 L1733 1235.77 L1733 1234.7 L1738.06 1234.7 L1738.06 1235.65 L1743.12 1235.65 L1743.12 1234.43 L1748.19 1234.43 L1748.19 1232.37 L1753.25 1232.37 L1753.25 1230.91 L1758.32 1230.91 L1758.32 1230.01 L1763.38 1230.01 L1763.38 1229.06 L1768.45 1229.06 L1768.45 1232.29 L1773.51 1232.29 L1773.51 1231.6 L1778.58 1231.6 L1778.58 1231.91 L1783.64 1231.91 L1783.64 1233.75 L1788.7 1233.75 L1788.7 1235 L1793.77 1235 L1793.77 1235.84 L1798.83 1235.84 L1798.83 1239.2 L1803.9 1239.2 L1803.9 1242.77 L1808.96 1242.77 L1808.96 1243.61 L1814.03 1243.61 L1814.03 1244.58 L1819.09 1244.58 L1819.09 1246.38 L1824.16 1246.38 L1824.16 1248.91 L1829.22 1248.91 L1829.22 1251.34 L1834.29 1251.34 L1834.29 1252.63 L1839.35 1252.63 L1839.35 1251.23 L1844.41 1251.23 L1844.41 1252.16 L1849.48 1252.16 L1849.48 1253.85 L1854.54 1253.85 L1854.54 1255.54 L1859.61 1255.54 L1859.61 1257.07 L1864.67 1257.07 L1864.67 1257.21 L1869.74 1257.21 L1869.74 1259.06 L1874.8 1259.06 L1874.8 1262 L1879.87 1262 L1879.87 1262.68 L1884.93 1262.68 L1884.93 1262.42 L1889.99 1262.42 L1889.99 1263.02 L1895.06 1263.02 L1895.06 1263.1 L1900.12 1263.1 L1900.12 1264.82 L1905.19 1264.82 L1905.19 1267.32 L1910.25 1267.32 L1910.25 1269.02 L1915.32 1269.02 L1915.32 1270.92 L1920.38 1270.92 L1920.38 1272.35 L1925.45 1272.35 L1925.45 1271.71 L1930.51 1271.71 L1930.51 1274.07 L1935.58 1274.07 L1935.58 1276.35 L1940.64 1276.35 L1940.64 1276.78 L1945.7 1276.78 L1945.7 1275.16 L1950.77 1275.16 L1950.77 1273.21 L1955.83 1273.21 L1955.83 1275.75 L1960.9 1275.75 L1960.9 1273.83 L1965.96 1273.83 L1965.96 1273.87 L1971.03 1273.87 L1971.03 1275.75 L1976.09 1275.75 L1976.09 1275.75 L1981.16 1275.75 L1981.16 1277.3 L1986.22 1277.3 L1986.22 1275.92 L1991.28 1275.92 L1991.28 1277.28 L1996.35 1277.28 L1996.35 1275.94 L2001.41 1275.94 L2001.41 1275.75 L2006.48 1275.75 L2006.48 1276.31 L2011.54 1276.31 L2011.54 1277.06 L2016.61 1277.06 L2016.61 1277.91 L2021.67 1277.91 L2021.67 1280.32 L2026.74 1280.32 L2026.74 1278.3 L2031.8 1278.3 L2031.8 1278.77 L2036.87 1278.77 L2036.87 1281.3 L2041.93 1281.3 L2041.93 1282.41 L2046.99 1282.41 L2046.99 1282.01 L2052.06 1282.01 L2052.06 1281.38 L2057.12 1281.38 L2057.12 1280.45 L2062.19 1280.45 L2062.19 1278.05 L2067.25 1278.05 L2067.25 1276.48 L2072.32 1276.48 L2072.32 1275.64 L2077.38 1275.64 L2077.38 1275.02 L2082.45 1275.02 L2082.45 1275.97 L2087.51 1275.97 L2087.51 1277.35 L2092.57 1277.35 L2092.57 1276.51 L2097.64 1276.51 L2097.64 1276.03 L2102.7 1276.03 L2102.7 1277.08 L2107.77 1277.08 L2107.77 1276.97 L2112.83 1276.97 L2112.83 1277.81 L2117.9 1277.81 L2117.9 1278.3 L2122.96 1278.3 L2122.96 1277.77 L2128.03 1277.77 L2128.03 1274.06 L2133.09 1274.06 L2133.09 1273.71 L2138.16 1273.71 L2138.16 1273.21 L2143.22 1273.21 L2143.22 1273.45 L2148.28 1273.45 L2148.28 1274.06 L2153.35 1274.06 L2153.35 1274 L2158.41 1274 L2158.41 1273.21 L2163.48 1273.21 L2163.48 1274.99 L2168.54 1274.99 L2168.54 1276.3 L2173.61 1276.3 L2173.61 1274.85 L2178.67 1274.85 L2178.67 1274.06 L2183.74 1274.06 L2183.74 1275.75 L2188.8 1275.75 L2188.8 1275.74 L2193.86 1275.74 L2193.86 1273.84 L2198.93 1273.84 L2198.93 1273.21 L2203.99 1273.21 L2203.99 1273.21 L2209.06 1273.21 L2209.06 1272.04 L2214.12 1272.04 L2214.12 1272.68 L2219.19 1272.68 L2219.19 1272.28 L2224.25 1272.28 L2224.25 1275.94 L2229.32 1275.94 L2229.32 1277.77 L2234.38 1277.77 L2234.38 1278.5 L2239.45 1278.5 L2239.45 1278.76 L2244.51 1278.76 L2244.51 1278.47 L2249.57 1278.47 L2249.57 1279.11 L2254.64 1279.11 L2254.64 1278.36 L2259.7 1278.36 L2259.7 1278.16 L2264.77 1278.16 L2264.77 1278 L2267.3 1278" fill="none" stroke="#b955f1" stroke-width="4.17" stroke-linejoin="round" stroke-linecap="round"/>
</g>
<g clip-path="url(#c9)">
<path d="M2539.34 272.52 L2592.71 276.05 L2646.09 268.48 L2699.46 264.44 L2752.84 261.41 L2806.22 257.38 L2859.59 244.25 L2912.97 237.19 L2966.34 222.05 L3019.72 215.99 L3073.1 207.92 L3126.47 203.88 L3179.85 205.4 L3233.22 190.26 L3286.6 181.68 L3339.98 196.31 L3393.35 193.79 L3446.73 189.75 L3500.1 176.63 L3553.48 185.21" fill="none" stroke="#008b92" stroke-width="4.17" stroke-linejoin="round" stroke-linecap="round"/>
<circle cx="2539.34" cy="272.52" r="9.8" fill="#008b92"/>
<circle cx="2592.71" cy="276.05" r="9.8" fill="#008b92"/>
<circle cx="2646.09" cy="268.48" r="9.8" fill="#008b92"/>
<circle cx="2699.46" cy="264.44" r="9.8" fill="#008b92"/>
<circle cx="2752.84" cy="261.41" r="9.8" fill="#008b92"/>
<circle cx="2806.22" cy="257.38" r="9.8" fill="#008b92"/>
<circle cx="2859.59" cy="244.25" r="9.8" fill="#008b92"/>
<circle cx="2912.97" cy="237.19" r="9.8" fill="#008b92"/>
<circle cx="2966.34" cy="222.05" r="9.8" fill="#008b92"/>
<circle cx="3019.72" cy="215.99" r="9.8" fill="#008b92"/>
<circle cx="3073.1" cy="207.92" r="9.8" fill="#008b92"/>
<circle cx="3126.47" cy="203.88" r="9.8" fill="#008b92"/>
<circle cx="3179.85" cy="205.4" r="9.8" fill="#008b92"/>
<circle cx="3233.22" cy="190.26" r="9.8" fill="#008b92"/>
<circle cx="3286.6" cy="181.68" r="9.8" fill="#008b92"/>
<circle cx="3339.98" cy="196.31" r="9.8" fill="#008b92"/>
<circle cx="3393.35" cy="193.79" r="9.8" fill="#008b92"/>
<circle cx="3446.73" cy="189.75" r="9.8" fill="#008b92"/>
<circle cx="3500.1" cy="176.63" r="9.8" fill="#008b92"/>
<circle cx="3553.48" cy="185.21" r="9.8" fill="#008b92"/>
<path d="M2539.34 273.02 L2592.71 274.53 L2646.09 262.93 L2699.46 256.87 L2752.84 247.79 L2806.22 240.72 L2859.59 230.12 L2912.97 220.03 L2966.34 211.96 L3019.72 198.33 L3073.1 190.26 L3126.47 176.13 L3179.85 174.61 L3233.22 163 L3286.6 175.62 L3339.98 163 L3393.35 149.88 L3446.73 127.17 L3500.1 141.3 L3553.48 153.92" fill="none" stroke="#f15c58" stroke-width="4.17" stroke-linejoin="round" stroke-linecap="round"/>
<circle cx="2539.34" cy="273.02" r="9.8" fill="#f15c58"/>
<circle cx="2592.71" cy="274.53" r="9.8" fill="#f15c58"/>
<circle cx="2646.09" cy="262.93" r="9.8" fill="#f15c58"/>
<circle cx="2699.46" cy="256.87" r="9.8" fill="#f15c58"/>
<circle cx="2752.84" cy="247.79" r="9.8" fill="#f15c58"/>
<circle cx="2806.22" cy="240.72" r="9.8" fill="#f15c58"/>
<circle cx="2859.59" cy="230.12" r="9.8" fill="#f15c58"/>
<circle cx="2912.97" cy="220.03" r="9.8" fill="#f15c58"/>
<circle cx="2966.34" cy="211.96" r="9.8" fill="#f15c58"/>
<circle cx="3019.72" cy="198.33" r="9.8" fill="#f15c58"/>
<circle cx="3073.1" cy="190.26" r="9.8" fill="#f15c58"/>
<circle cx="3126.47" cy="176.13" r="9.8" fill="#f15c58"/>
<circle cx="3179.85" cy="174.61" r="9.8" fill="#f15c58"/>
<circle cx="3233.22" cy="163" r="9.8" fill="#f15c58"/>
<circle cx="3286.6" cy="175.62" r="9.8" fill="#f15c58"/>
<circle cx="3339.98" cy="163" r="9.8" fill="#f15c58"/>
<circle cx="3393.35" cy="149.88" r="9.8" fill="#f15c58"/>
<circle cx="3446.73" cy="127.17" r="9.8" fill="#f15c58"/>
<circle cx="3500.1" cy="141.3" r="9.8" fill="#f15c58"/>
<circle cx="3553.48" cy="153.92" r="9.8" fill="#f15c58"/>
<line x1="2539.14" y1="175" x2="3553.48" y2="175" stroke="#4c4c4c" stroke-width="4" stroke-linecap="butt" stroke-dasharray="26.67 6.67 4.17 6.67"/>
</g>
<g clip-path="url(#c10)">
<path d="M2539.34 661.6 L2592.71 668.66 L2646.09 668.16 L2699.46 666.65 L2752.84 661.09 L2806.22 642.93 L2859.59 639.39 L2912.97 630.82 L2966.34 620.72 L3019.72 618.2 L3073.1 627.28 L3126.47 619.21 L3179.85 637.38 L3233.22 614.16 L3286.6 601.04 L3339.98 583.38 L3393.35 576.82 L3446.73 575.81 L3500.1 574.8 L3553.48 568.74" fill="none" stroke="#008b92" stroke-width="4.17" stroke-linejoin="round" stroke-linecap="round"/>
<circle cx="2539.34" cy="661.6" r="9.8" fill="#008b92"/>
<circle cx="2592.71" cy="668.66" r="9.8" fill="#008b92"/>
<circle cx="2646.09" cy="668.16" r="9.8" fill="#008b92"/>
<circle cx="2699.46" cy="666.65" r="9.8" fill="#008b92"/>
<circle cx="2752.84" cy="661.09" r="9.8" fill="#008b92"/>
<circle cx="2806.22" cy="642.93" r="9.8" fill="#008b92"/>
<circle cx="2859.59" cy="639.39" r="9.8" fill="#008b92"/>
<circle cx="2912.97" cy="630.82" r="9.8" fill="#008b92"/>
<circle cx="2966.34" cy="620.72" r="9.8" fill="#008b92"/>
<circle cx="3019.72" cy="618.2" r="9.8" fill="#008b92"/>
<circle cx="3073.1" cy="627.28" r="9.8" fill="#008b92"/>
<circle cx="3126.47" cy="619.21" r="9.8" fill="#008b92"/>
<circle cx="3179.85" cy="637.38" r="9.8" fill="#008b92"/>
<circle cx="3233.22" cy="614.16" r="9.8" fill="#008b92"/>
<circle cx="3286.6" cy="601.04" r="9.8" fill="#008b92"/>
<circle cx="3339.98" cy="583.38" r="9.8" fill="#008b92"/>
<circle cx="3393.35" cy="576.82" r="9.8" fill="#008b92"/>
<circle cx="3446.73" cy="575.81" r="9.8" fill="#008b92"/>
<circle cx="3500.1" cy="574.8" r="9.8" fill="#008b92"/>
<circle cx="3553.48" cy="568.74" r="9.8" fill="#008b92"/>
<path d="M2539.34 657.06 L2592.71 667.15 L2646.09 641.92 L2699.46 647.97 L2752.84 631.82 L2806.22 614.16 L2859.59 621.73 L2912.97 600.03 L2966.34 578.33 L3019.72 551.58 L3073.1 631.82 L3126.47 611.64 L3179.85 610.63 L3233.22 594.48 L3286.6 581.36 L3339.98 573.79 L3393.35 569.75 L3446.73 564.7 L3500.1 553.6 L3553.48 538.46" fill="none" stroke="#f15c58" stroke-width="4.17" stroke-linejoin="round" stroke-linecap="round"/>
<circle cx="2539.34" cy="657.06" r="9.8" fill="#f15c58"/>
<circle cx="2592.71" cy="667.15" r="9.8" fill="#f15c58"/>
<circle cx="2646.09" cy="641.92" r="9.8" fill="#f15c58"/>
<circle cx="2699.46" cy="647.97" r="9.8" fill="#f15c58"/>
<circle cx="2752.84" cy="631.82" r="9.8" fill="#f15c58"/>
<circle cx="2806.22" cy="614.16" r="9.8" fill="#f15c58"/>
<circle cx="2859.59" cy="621.73" r="9.8" fill="#f15c58"/>
<circle cx="2912.97" cy="600.03" r="9.8" fill="#f15c58"/>
<circle cx="2966.34" cy="578.33" r="9.8" fill="#f15c58"/>
<circle cx="3019.72" cy="551.58" r="9.8" fill="#f15c58"/>
<circle cx="3073.1" cy="631.82" r="9.8" fill="#f15c58"/>
<circle cx="3126.47" cy="611.64" r="9.8" fill="#f15c58"/>
<circle cx="3179.85" cy="610.63" r="9.8" fill="#f15c58"/>
<circle cx="3233.22" cy="594.48" r="9.8" fill="#f15c58"/>
<circle cx="3286.6" cy="581.36" r="9.8" fill="#f15c58"/>
<circle cx="3339.98" cy="573.79" r="9.8" fill="#f15c58"/>
<circle cx="3393.35" cy="569.75" r="9.8" fill="#f15c58"/>
<circle cx="3446.73" cy="564.7" r="9.8" fill="#f15c58"/>
<circle cx="3500.1" cy="553.6" r="9.8" fill="#f15c58"/>
<circle cx="3553.48" cy="538.46" r="9.8" fill="#f15c58"/>
<line x1="2539.14" y1="518.9" x2="3553.48" y2="518.9" stroke="#4c4c4c" stroke-width="4" stroke-linecap="butt" stroke-dasharray="26.67 6.67 4.17 6.67"/>
</g>
<g clip-path="url(#c11)">
<path d="M2539.34 1007.28 L2592.71 1009.81 L2646.09 1008.8 L2699.46 1005.26 L2752.84 1004.76 L2806.22 1002.24 L2859.59 998.2 L2912.97 988.11 L2966.34 980.03 L3019.72 973.47 L3073.1 977.51 L3126.47 961.86 L3179.85 976.5 L3233.22 945.71 L3286.6 923.51 L3339.98 933.1 L3393.35 933.6 L3446.73 932.59 L3500.1 924.01 L3553.48 923.51" fill="none" stroke="#008b92" stroke-width="4.17" stroke-linejoin="round" stroke-linecap="round"/>
<circle cx="2539.34" cy="1007.28" r="9.8" fill="#008b92"/>
<circle cx="2592.71" cy="1009.81" r="9.8" fill="#008b92"/>
<circle cx="2646.09" cy="1008.8" r="9.8" fill="#008b92"/>
<circle cx="2699.46" cy="1005.26" r="9.8" fill="#008b92"/>
<circle cx="2752.84" cy="1004.76" r="9.8" fill="#008b92"/>
<circle cx="2806.22" cy="1002.24" r="9.8" fill="#008b92"/>
<circle cx="2859.59" cy="998.2" r="9.8" fill="#008b92"/>
<circle cx="2912.97" cy="988.11" r="9.8" fill="#008b92"/>
<circle cx="2966.34" cy="980.03" r="9.8" fill="#008b92"/>
<circle cx="3019.72" cy="973.47" r="9.8" fill="#008b92"/>
<circle cx="3073.1" cy="977.51" r="9.8" fill="#008b92"/>
<circle cx="3126.47" cy="961.86" r="9.8" fill="#008b92"/>
<circle cx="3179.85" cy="976.5" r="9.8" fill="#008b92"/>
<circle cx="3233.22" cy="945.71" r="9.8" fill="#008b92"/>
<circle cx="3286.6" cy="923.51" r="9.8" fill="#008b92"/>
<circle cx="3339.98" cy="933.1" r="9.8" fill="#008b92"/>
<circle cx="3393.35" cy="933.6" r="9.8" fill="#008b92"/>
<circle cx="3446.73" cy="932.59" r="9.8" fill="#008b92"/>
<circle cx="3500.1" cy="924.01" r="9.8" fill="#008b92"/>
<circle cx="3553.48" cy="923.51" r="9.8" fill="#008b92"/>
<path d="M2539.34 1010.31 L2592.71 993.66 L2646.09 991.64 L2699.46 994.16 L2752.84 983.06 L2806.22 978.01 L2859.59 962.37 L2912.97 973.47 L2966.34 962.37 L3019.72 949.25 L3073.1 954.29 L3126.47 946.22 L3179.85 944.7 L3233.22 926.54 L3286.6 915.43 L3339.98 911.4 L3393.35 904.33 L3446.73 896.26 L3500.1 886.16 L3553.48 873.04" fill="none" stroke="#f15c58" stroke-width="4.17" stroke-linejoin="round" stroke-linecap="round"/>
<circle cx="2539.34" cy="1010.31" r="9.8" fill="#f15c58"/>
<circle cx="2592.71" cy="993.66" r="9.8" fill="#f15c58"/>
<circle cx="2646.09" cy="991.64" r="9.8" fill="#f15c58"/>
<circle cx="2699.46" cy="994.16" r="9.8" fill="#f15c58"/>
<circle cx="2752.84" cy="983.06" r="9.8" fill="#f15c58"/>
<circle cx="2806.22" cy="978.01" r="9.8" fill="#f15c58"/>
<circle cx="2859.59" cy="962.37" r="9.8" fill="#f15c58"/>
<circle cx="2912.97" cy="973.47" r="9.8" fill="#f15c58"/>
<circle cx="2966.34" cy="962.37" r="9.8" fill="#f15c58"/>
<circle cx="3019.72" cy="949.25" r="9.8" fill="#f15c58"/>
<circle cx="3073.1" cy="954.29" r="9.8" fill="#f15c58"/>
<circle cx="3126.47" cy="946.22" r="9.8" fill="#f15c58"/>
<circle cx="3179.85" cy="944.7" r="9.8" fill="#f15c58"/>
<circle cx="3233.22" cy="926.54" r="9.8" fill="#f15c58"/>
<circle cx="3286.6" cy="915.43" r="9.8" fill="#f15c58"/>
<circle cx="3339.98" cy="911.4" r="9.8" fill="#f15c58"/>
<circle cx="3393.35" cy="904.33" r="9.8" fill="#f15c58"/>
<circle cx="3446.73" cy="896.26" r="9.8" fill="#f15c58"/>
<circle cx="3500.1" cy="886.16" r="9.8" fill="#f15c58"/>
<circle cx="3553.48" cy="873.04" r="9.8" fill="#f15c58"/>
<line x1="2539.14" y1="860.4" x2="3553.48" y2="860.4" stroke="#4c4c4c" stroke-width="4" stroke-linecap="butt" stroke-dasharray="26.67 6.67 4.17 6.67"/>
</g>
<g clip-path="url(#c12)">
<path d="M2539.34 1351.91 L2592.71 1352.41 L2646.09 1346.86 L2699.46 1349.38 L2752.84 1351.4 L2806.22 1352.41 L2859.59 1341.82 L2912.97 1342.32 L2966.34 1342.32 L3019.72 1342.82 L3073.1 1348.38 L3126.47 1348.38 L3179.85 1343.33 L3233.22 1335.76 L3286.6 1330.21 L3339.98 1329.2 L3393.35 1326.17 L3446.73 1324.66 L3500.1 1327.18 L3553.48 1331.72" fill="none" stroke="#008b92" stroke-width="4.17" stroke-linejoin="round" stroke-linecap="round"/>
<circle cx="2539.34" cy="1351.91" r="9.8" fill="#008b92"/>
<circle cx="2592.71" cy="1352.41" r="9.8" fill="#008b92"/>
<circle cx="2646.09" cy="1346.86" r="9.8" fill="#008b92"/>
<circle cx="2699.46" cy="1349.38" r="9.8" fill="#008b92"/>
<circle cx="2752.84" cy="1351.4" r="9.8" fill="#008b92"/>
<circle cx="2806.22" cy="1352.41" r="9.8" fill="#008b92"/>
<circle cx="2859.59" cy="1341.82" r="9.8" fill="#008b92"/>
<circle cx="2912.97" cy="1342.32" r="9.8" fill="#008b92"/>
<circle cx="2966.34" cy="1342.32" r="9.8" fill="#008b92"/>
<circle cx="3019.72" cy="1342.82" r="9.8" fill="#008b92"/>
<circle cx="3073.1" cy="1348.38" r="9.8" fill="#008b92"/>
<circle cx="3126.47" cy="1348.38" r="9.8" fill="#008b92"/>
<circle cx="3179.85" cy="1343.33" r="9.8" fill="#008b92"/>
<circle cx="3233.22" cy="1335.76" r="9.8" fill="#008b92"/>
<circle cx="3286.6" cy="1330.21" r="9.8" fill="#008b92"/>
<circle cx="3339.98" cy="1329.2" r="9.8" fill="#008b92"/>
<circle cx="3393.35" cy="1326.17" r="9.8" fill="#008b92"/>
<circle cx="3446.73" cy="1324.66" r="9.8" fill="#008b92"/>
<circle cx="3500.1" cy="1327.18" r="9.8" fill="#008b92"/>
<circle cx="3553.48" cy="1331.72" r="9.8" fill="#008b92"/>
<path d="M2539.34 1347.37 L2592.71 1350.39 L2646.09 1338.28 L2699.46 1349.38 L2752.84 1353.93 L2806.22 1352.41 L2859.59 1352.92 L2912.97 1348.88 L2966.34 1347.87 L3019.72 1348.88 L3073.1 1349.38 L3126.47 1347.87 L3179.85 1344.34 L3233.22 1346.36 L3286.6 1341.82 L3339.98 1337.78 L3393.35 1332.73 L3446.73 1328.19 L3500.1 1334.25 L3553.48 1334.75" fill="none" stroke="#f15c58" stroke-width="4.17" stroke-linejoin="round" stroke-linecap="round"/>
<circle cx="2539.34" cy="1347.37" r="9.8" fill="#f15c58"/>
<circle cx="2592.71" cy="1350.39" r="9.8" fill="#f15c58"/>
<circle cx="2646.09" cy="1338.28" r="9.8" fill="#f15c58"/>
<circle cx="2699.46" cy="1349.38" r="9.8" fill="#f15c58"/>
<circle cx="2752.84" cy="1353.93" r="9.8" fill="#f15c58"/>
<circle cx="2806.22" cy="1352.41" r="9.8" fill="#f15c58"/>
<circle cx="2859.59" cy="1352.92" r="9.8" fill="#f15c58"/>
<circle cx="2912.97" cy="1348.88" r="9.8" fill="#f15c58"/>
<circle cx="2966.34" cy="1347.87" r="9.8" fill="#f15c58"/>
<circle cx="3019.72" cy="1348.88" r="9.8" fill="#f15c58"/>
<circle cx="3073.1" cy="1349.38" r="9.8" fill="#f15c58"/>
<circle cx="3126.47" cy="1347.87" r="9.8" fill="#f15c58"/>
<circle cx="3179.85" cy="1344.34" r="9.8" fill="#f15c58"/>
<circle cx="3233.22" cy="1346.36" r="9.8" fill="#f15c58"/>
<circle cx="3286.6" cy="1341.82" r="9.8" fill="#f15c58"/>
<circle cx="3339.98" cy="1337.78" r="9.8" fill="#f15c58"/>
<circle cx="3393.35" cy="1332.73" r="9.8" fill="#f15c58"/>
<circle cx="3446.73" cy="1328.19" r="9.8" fill="#f15c58"/>
<circle cx="3500.1" cy="1334.25" r="9.8" fill="#f15c58"/>
<circle cx="3553.48" cy="1334.75" r="9.8" fill="#f15c58"/>
<line x1="2539.14" y1="1204" x2="3553.48" y2="1204" stroke="#4c4c4c" stroke-width="4" stroke-linecap="butt" stroke-dasharray="26.67 6.67 4.17 6.67"/>
</g>
<line x1="65.1" y1="119.1" x2="65.1" y2="285.1" stroke="#404040" stroke-width="2.2" stroke-linecap="butt"/>
<line x1="64" y1="284" x2="1179.5" y2="284" stroke="#404040" stroke-width="2.2" stroke-linecap="butt"/>
<line x1="55.1" y1="126.7" x2="65.1" y2="126.7" stroke="#1c1c1c" stroke-width="2.4" stroke-linecap="butt"/>
<text x="45.7" y="141.4" font-size="38.9" text-anchor="end" font-weight="normal" fill="#262626">1</text>
<line x1="55.1" y1="276.9" x2="65.1" y2="276.9" stroke="#1c1c1c" stroke-width="2.4" stroke-linecap="butt"/>
<text x="45.7" y="291.6" font-size="38.9" text-anchor="end" font-weight="normal" fill="#262626">0</text>
<line x1="131.6" y1="284" x2="131.6" y2="294" stroke="#1c1c1c" stroke-width="2.3" stroke-linecap="butt"/>
<text x="131.6" y="334.7" font-size="38.9" text-anchor="middle" font-weight="normal" fill="#262626">−20</text>
<line x1="375.9" y1="284" x2="375.9" y2="294" stroke="#1c1c1c" stroke-width="2.3" stroke-linecap="butt"/>
<text x="375.9" y="334.7" font-size="38.9" text-anchor="middle" font-weight="normal" fill="#262626">−10</text>
<line x1="620.6" y1="284" x2="620.6" y2="294" stroke="#1c1c1c" stroke-width="2.3" stroke-linecap="butt"/>
<text x="620.6" y="334.7" font-size="38.9" text-anchor="middle" font-weight="normal" fill="#262626">0</text>
<line x1="865" y1="284" x2="865" y2="294" stroke="#1c1c1c" stroke-width="2.3" stroke-linecap="butt"/>
<text x="865" y="334.7" font-size="38.9" text-anchor="middle" font-weight="normal" fill="#262626">10</text>
<line x1="1109.3" y1="284" x2="1109.3" y2="294" stroke="#1c1c1c" stroke-width="2.3" stroke-linecap="butt"/>
<text x="1109.3" y="334.7" font-size="38.9" text-anchor="middle" font-weight="normal" fill="#262626">20</text>
<text x="621.5" y="54.3" font-size="44.44" text-anchor="middle" font-weight="bold" fill="#000">theta</text>
<text x="621.5" y="104.1" font-size="44.44" text-anchor="middle" font-weight="bold" fill="#000">Hotchkiss</text>
<text x="709.7" y="270.9" font-size="33.3" text-anchor="middle" font-weight="normal" fill="#4d4d4d">3.67 mean</text>
<line x1="65.1" y1="511.3" x2="65.1" y2="677" stroke="#404040" stroke-width="2.2" stroke-linecap="butt"/>
<line x1="64" y1="675.9" x2="1179.5" y2="675.9" stroke="#404040" stroke-width="2.2" stroke-linecap="butt"/>
<line x1="55.1" y1="518.8" x2="65.1" y2="518.8" stroke="#1c1c1c" stroke-width="2.4" stroke-linecap="butt"/>
<text x="45.7" y="533.5" font-size="38.9" text-anchor="end" font-weight="normal" fill="#262626">1</text>
<line x1="55.1" y1="668.8" x2="65.1" y2="668.8" stroke="#1c1c1c" stroke-width="2.4" stroke-linecap="butt"/>
<text x="45.7" y="683.5" font-size="38.9" text-anchor="end" font-weight="normal" fill="#262626">0</text>
<line x1="67.1" y1="675.9" x2="67.1" y2="685.9" stroke="#1c1c1c" stroke-width="2.3" stroke-linecap="butt"/>
<text x="67.1" y="726.6" font-size="38.9" text-anchor="middle" font-weight="normal" fill="#262626">−10</text>
<line x1="201.2" y1="675.9" x2="201.2" y2="685.9" stroke="#1c1c1c" stroke-width="2.3" stroke-linecap="butt"/>
<text x="201.2" y="726.6" font-size="38.9" text-anchor="middle" font-weight="normal" fill="#262626">−5</text>
<line x1="335.6" y1="675.9" x2="335.6" y2="685.9" stroke="#1c1c1c" stroke-width="2.3" stroke-linecap="butt"/>
<text x="335.6" y="726.6" font-size="38.9" text-anchor="middle" font-weight="normal" fill="#262626">0</text>
<line x1="470" y1="675.9" x2="470" y2="685.9" stroke="#1c1c1c" stroke-width="2.3" stroke-linecap="butt"/>
<text x="470" y="726.6" font-size="38.9" text-anchor="middle" font-weight="normal" fill="#262626">5</text>
<line x1="604.4" y1="675.9" x2="604.4" y2="685.9" stroke="#1c1c1c" stroke-width="2.3" stroke-linecap="butt"/>
<text x="604.4" y="726.6" font-size="38.9" text-anchor="middle" font-weight="normal" fill="#262626">10</text>
<line x1="738.8" y1="675.9" x2="738.8" y2="685.9" stroke="#1c1c1c" stroke-width="2.3" stroke-linecap="butt"/>
<text x="738.8" y="726.6" font-size="38.9" text-anchor="middle" font-weight="normal" fill="#262626">15</text>
<line x1="873.2" y1="675.9" x2="873.2" y2="685.9" stroke="#1c1c1c" stroke-width="2.3" stroke-linecap="butt"/>
<text x="873.2" y="726.6" font-size="38.9" text-anchor="middle" font-weight="normal" fill="#262626">20</text>
<line x1="1007.6" y1="675.9" x2="1007.6" y2="685.9" stroke="#1c1c1c" stroke-width="2.3" stroke-linecap="butt"/>
<text x="1007.6" y="726.6" font-size="38.9" text-anchor="middle" font-weight="normal" fill="#262626">25</text>
<line x1="1141.8" y1="675.9" x2="1141.8" y2="685.9" stroke="#1c1c1c" stroke-width="2.3" stroke-linecap="butt"/>
<text x="1141.8" y="726.6" font-size="38.9" text-anchor="middle" font-weight="normal" fill="#262626">30</text>
<text x="621.5" y="446.5" font-size="44.44" text-anchor="middle" font-weight="bold" fill="#000">theta</text>
<text x="621.5" y="496.3" font-size="44.44" text-anchor="middle" font-weight="bold" fill="#000">St. Paul&#39;s</text>
<text x="512.5" y="662.8" font-size="33.3" text-anchor="middle" font-weight="normal" fill="#4d4d4d">6.58 mean</text>
<line x1="65.1" y1="853.2" x2="65.1" y2="1019" stroke="#404040" stroke-width="2.2" stroke-linecap="butt"/>
<line x1="64" y1="1017.9" x2="1179.5" y2="1017.9" stroke="#404040" stroke-width="2.2" stroke-linecap="butt"/>
<line x1="55.1" y1="860.6" x2="65.1" y2="860.6" stroke="#1c1c1c" stroke-width="2.4" stroke-linecap="butt"/>
<text x="45.7" y="875.3" font-size="38.9" text-anchor="end" font-weight="normal" fill="#262626">1</text>
<line x1="55.1" y1="1011.1" x2="65.1" y2="1011.1" stroke="#1c1c1c" stroke-width="2.4" stroke-linecap="butt"/>
<text x="45.7" y="1025.8" font-size="38.9" text-anchor="end" font-weight="normal" fill="#262626">0</text>
<line x1="215.7" y1="1017.9" x2="215.7" y2="1027.9" stroke="#1c1c1c" stroke-width="2.3" stroke-linecap="butt"/>
<text x="215.7" y="1068.6" font-size="38.9" text-anchor="middle" font-weight="normal" fill="#262626">−5</text>
<line x1="415" y1="1017.9" x2="415" y2="1027.9" stroke="#1c1c1c" stroke-width="2.3" stroke-linecap="butt"/>
<text x="415" y="1068.6" font-size="38.9" text-anchor="middle" font-weight="normal" fill="#262626">0</text>
<line x1="614.4" y1="1017.9" x2="614.4" y2="1027.9" stroke="#1c1c1c" stroke-width="2.3" stroke-linecap="butt"/>
<text x="614.4" y="1068.6" font-size="38.9" text-anchor="middle" font-weight="normal" fill="#262626">5</text>
<line x1="813.8" y1="1017.9" x2="813.8" y2="1027.9" stroke="#1c1c1c" stroke-width="2.3" stroke-linecap="butt"/>
<text x="813.8" y="1068.6" font-size="38.9" text-anchor="middle" font-weight="normal" fill="#262626">10</text>
<line x1="1013.2" y1="1017.9" x2="1013.2" y2="1027.9" stroke="#1c1c1c" stroke-width="2.3" stroke-linecap="butt"/>
<text x="1013.2" y="1068.6" font-size="38.9" text-anchor="middle" font-weight="normal" fill="#262626">15</text>
<text x="621.5" y="838.2" font-size="44.44" text-anchor="middle" font-weight="bold" fill="#000">mu</text>
<text x="593.6" y="1005.1" font-size="33.3" text-anchor="middle" font-weight="normal" fill="#4d4d4d">4.49 mean</text>
<line x1="65.1" y1="1195.1" x2="65.1" y2="1361" stroke="#404040" stroke-width="2.2" stroke-linecap="butt"/>
<line x1="64" y1="1359.9" x2="1179.5" y2="1359.9" stroke="#404040" stroke-width="2.2" stroke-linecap="butt"/>
<line x1="55.1" y1="1203.6" x2="65.1" y2="1203.6" stroke="#1c1c1c" stroke-width="2.4" stroke-linecap="butt"/>
<text x="45.7" y="1218.3" font-size="38.9" text-anchor="end" font-weight="normal" fill="#262626">1</text>
<line x1="55.1" y1="1352.6" x2="65.1" y2="1352.6" stroke="#1c1c1c" stroke-width="2.4" stroke-linecap="butt"/>
<text x="45.7" y="1367.3" font-size="38.9" text-anchor="end" font-weight="normal" fill="#262626">0</text>
<line x1="69.4" y1="1359.9" x2="69.4" y2="1369.9" stroke="#1c1c1c" stroke-width="2.3" stroke-linecap="butt"/>
<text x="69.4" y="1410.6" font-size="38.9" text-anchor="middle" font-weight="normal" fill="#262626">0.0</text>
<line x1="198.9" y1="1359.9" x2="198.9" y2="1369.9" stroke="#1c1c1c" stroke-width="2.3" stroke-linecap="butt"/>
<text x="198.9" y="1410.6" font-size="38.9" text-anchor="middle" font-weight="normal" fill="#262626">2.5</text>
<line x1="328" y1="1359.9" x2="328" y2="1369.9" stroke="#1c1c1c" stroke-width="2.3" stroke-linecap="butt"/>
<text x="328" y="1410.6" font-size="38.9" text-anchor="middle" font-weight="normal" fill="#262626">5.0</text>
<line x1="457.2" y1="1359.9" x2="457.2" y2="1369.9" stroke="#1c1c1c" stroke-width="2.3" stroke-linecap="butt"/>
<text x="457.2" y="1410.6" font-size="38.9" text-anchor="middle" font-weight="normal" fill="#262626">7.5</text>
<line x1="586.4" y1="1359.9" x2="586.4" y2="1369.9" stroke="#1c1c1c" stroke-width="2.3" stroke-linecap="butt"/>
<text x="586.4" y="1410.6" font-size="38.9" text-anchor="middle" font-weight="normal" fill="#262626">10.0</text>
<line x1="715.6" y1="1359.9" x2="715.6" y2="1369.9" stroke="#1c1c1c" stroke-width="2.3" stroke-linecap="butt"/>
<text x="715.6" y="1410.6" font-size="38.9" text-anchor="middle" font-weight="normal" fill="#262626">12.5</text>
<line x1="844.8" y1="1359.9" x2="844.8" y2="1369.9" stroke="#1c1c1c" stroke-width="2.3" stroke-linecap="butt"/>
<text x="844.8" y="1410.6" font-size="38.9" text-anchor="middle" font-weight="normal" fill="#262626">15.0</text>
<line x1="974" y1="1359.9" x2="974" y2="1369.9" stroke="#1c1c1c" stroke-width="2.3" stroke-linecap="butt"/>
<text x="974" y="1410.6" font-size="38.9" text-anchor="middle" font-weight="normal" fill="#262626">17.5</text>
<line x1="1103.1" y1="1359.9" x2="1103.1" y2="1369.9" stroke="#1c1c1c" stroke-width="2.3" stroke-linecap="butt"/>
<text x="1103.1" y="1410.6" font-size="38.9" text-anchor="middle" font-weight="normal" fill="#262626">20.0</text>
<text x="621.5" y="1180.1" font-size="44.44" text-anchor="middle" font-weight="bold" fill="#000">tau</text>
<text x="282.4" y="1346.6" font-size="33.3" text-anchor="middle" font-weight="normal" fill="#4d4d4d">4.12 mean</text>
<line x1="1202.4" y1="284" x2="2319" y2="284" stroke="#404040" stroke-width="2.2" stroke-linecap="butt"/>
<line x1="1254.4" y1="284" x2="1254.4" y2="292.4" stroke="#1c1c1c" stroke-width="2.8" stroke-linecap="butt"/>
<text x="1254.4" y="332.8" font-size="38.9" text-anchor="middle" font-weight="normal" fill="#262626">0.0</text>
<line x1="1456.98" y1="284" x2="1456.98" y2="292.4" stroke="#1c1c1c" stroke-width="2.8" stroke-linecap="butt"/>
<text x="1456.98" y="332.8" font-size="38.9" text-anchor="middle" font-weight="normal" fill="#262626">0.2</text>
<line x1="1659.56" y1="284" x2="1659.56" y2="292.4" stroke="#1c1c1c" stroke-width="2.8" stroke-linecap="butt"/>
<text x="1659.56" y="332.8" font-size="38.9" text-anchor="middle" font-weight="normal" fill="#262626">0.4</text>
<line x1="1862.14" y1="284" x2="1862.14" y2="292.4" stroke="#1c1c1c" stroke-width="2.8" stroke-linecap="butt"/>
<text x="1862.14" y="332.8" font-size="38.9" text-anchor="middle" font-weight="normal" fill="#262626">0.6</text>
<line x1="2064.72" y1="284" x2="2064.72" y2="292.4" stroke="#1c1c1c" stroke-width="2.8" stroke-linecap="butt"/>
<text x="2064.72" y="332.8" font-size="38.9" text-anchor="middle" font-weight="normal" fill="#262626">0.8</text>
<line x1="2267.3" y1="284" x2="2267.3" y2="292.4" stroke="#1c1c1c" stroke-width="2.8" stroke-linecap="butt"/>
<text x="2267.3" y="332.8" font-size="38.9" text-anchor="middle" font-weight="normal" fill="#262626">1.0</text>
<text x="1760.3" y="54.3" font-size="44.44" text-anchor="middle" font-weight="bold" fill="#262626">theta</text>
<text x="1760.3" y="104.1" font-size="44.44" text-anchor="middle" font-weight="bold" fill="#262626">Hotchkiss</text>
<text x="1760.7" y="385.1" font-size="40.1" text-anchor="middle" font-weight="normal" fill="#000">Fractional ranks</text>
<line x1="1202.4" y1="675.9" x2="2319" y2="675.9" stroke="#404040" stroke-width="2.2" stroke-linecap="butt"/>
<line x1="1254.4" y1="675.9" x2="1254.4" y2="684.3" stroke="#1c1c1c" stroke-width="2.8" stroke-linecap="butt"/>
<text x="1254.4" y="724.7" font-size="38.9" text-anchor="middle" font-weight="normal" fill="#262626">0.0</text>
<line x1="1456.98" y1="675.9" x2="1456.98" y2="684.3" stroke="#1c1c1c" stroke-width="2.8" stroke-linecap="butt"/>
<text x="1456.98" y="724.7" font-size="38.9" text-anchor="middle" font-weight="normal" fill="#262626">0.2</text>
<line x1="1659.56" y1="675.9" x2="1659.56" y2="684.3" stroke="#1c1c1c" stroke-width="2.8" stroke-linecap="butt"/>
<text x="1659.56" y="724.7" font-size="38.9" text-anchor="middle" font-weight="normal" fill="#262626">0.4</text>
<line x1="1862.14" y1="675.9" x2="1862.14" y2="684.3" stroke="#1c1c1c" stroke-width="2.8" stroke-linecap="butt"/>
<text x="1862.14" y="724.7" font-size="38.9" text-anchor="middle" font-weight="normal" fill="#262626">0.6</text>
<line x1="2064.72" y1="675.9" x2="2064.72" y2="684.3" stroke="#1c1c1c" stroke-width="2.8" stroke-linecap="butt"/>
<text x="2064.72" y="724.7" font-size="38.9" text-anchor="middle" font-weight="normal" fill="#262626">0.8</text>
<line x1="2267.3" y1="675.9" x2="2267.3" y2="684.3" stroke="#1c1c1c" stroke-width="2.8" stroke-linecap="butt"/>
<text x="2267.3" y="724.7" font-size="38.9" text-anchor="middle" font-weight="normal" fill="#262626">1.0</text>
<text x="1760.3" y="446.5" font-size="44.44" text-anchor="middle" font-weight="bold" fill="#262626">theta</text>
<text x="1760.3" y="496.3" font-size="44.44" text-anchor="middle" font-weight="bold" fill="#262626">St. Paul&#39;s</text>
<text x="1760.7" y="777" font-size="40.1" text-anchor="middle" font-weight="normal" fill="#000">Fractional ranks</text>
<line x1="1202.4" y1="1017.9" x2="2319" y2="1017.9" stroke="#404040" stroke-width="2.2" stroke-linecap="butt"/>
<line x1="1254.4" y1="1017.9" x2="1254.4" y2="1026.3" stroke="#1c1c1c" stroke-width="2.8" stroke-linecap="butt"/>
<text x="1254.4" y="1066.7" font-size="38.9" text-anchor="middle" font-weight="normal" fill="#262626">0.0</text>
<line x1="1456.98" y1="1017.9" x2="1456.98" y2="1026.3" stroke="#1c1c1c" stroke-width="2.8" stroke-linecap="butt"/>
<text x="1456.98" y="1066.7" font-size="38.9" text-anchor="middle" font-weight="normal" fill="#262626">0.2</text>
<line x1="1659.56" y1="1017.9" x2="1659.56" y2="1026.3" stroke="#1c1c1c" stroke-width="2.8" stroke-linecap="butt"/>
<text x="1659.56" y="1066.7" font-size="38.9" text-anchor="middle" font-weight="normal" fill="#262626">0.4</text>
<line x1="1862.14" y1="1017.9" x2="1862.14" y2="1026.3" stroke="#1c1c1c" stroke-width="2.8" stroke-linecap="butt"/>
<text x="1862.14" y="1066.7" font-size="38.9" text-anchor="middle" font-weight="normal" fill="#262626">0.6</text>
<line x1="2064.72" y1="1017.9" x2="2064.72" y2="1026.3" stroke="#1c1c1c" stroke-width="2.8" stroke-linecap="butt"/>
<text x="2064.72" y="1066.7" font-size="38.9" text-anchor="middle" font-weight="normal" fill="#262626">0.8</text>
<line x1="2267.3" y1="1017.9" x2="2267.3" y2="1026.3" stroke="#1c1c1c" stroke-width="2.8" stroke-linecap="butt"/>
<text x="2267.3" y="1066.7" font-size="38.9" text-anchor="middle" font-weight="normal" fill="#262626">1.0</text>
<text x="1760.3" y="838.2" font-size="44.44" text-anchor="middle" font-weight="bold" fill="#262626">mu</text>
<text x="1760.7" y="1119" font-size="40.1" text-anchor="middle" font-weight="normal" fill="#000">Fractional ranks</text>
<line x1="1202.4" y1="1359.9" x2="2319" y2="1359.9" stroke="#404040" stroke-width="2.2" stroke-linecap="butt"/>
<line x1="1254.4" y1="1359.9" x2="1254.4" y2="1368.3" stroke="#1c1c1c" stroke-width="2.8" stroke-linecap="butt"/>
<text x="1254.4" y="1408.7" font-size="38.9" text-anchor="middle" font-weight="normal" fill="#262626">0.0</text>
<line x1="1456.98" y1="1359.9" x2="1456.98" y2="1368.3" stroke="#1c1c1c" stroke-width="2.8" stroke-linecap="butt"/>
<text x="1456.98" y="1408.7" font-size="38.9" text-anchor="middle" font-weight="normal" fill="#262626">0.2</text>
<line x1="1659.56" y1="1359.9" x2="1659.56" y2="1368.3" stroke="#1c1c1c" stroke-width="2.8" stroke-linecap="butt"/>
<text x="1659.56" y="1408.7" font-size="38.9" text-anchor="middle" font-weight="normal" fill="#262626">0.4</text>
<line x1="1862.14" y1="1359.9" x2="1862.14" y2="1368.3" stroke="#1c1c1c" stroke-width="2.8" stroke-linecap="butt"/>
<text x="1862.14" y="1408.7" font-size="38.9" text-anchor="middle" font-weight="normal" fill="#262626">0.6</text>
<line x1="2064.72" y1="1359.9" x2="2064.72" y2="1368.3" stroke="#1c1c1c" stroke-width="2.8" stroke-linecap="butt"/>
<text x="2064.72" y="1408.7" font-size="38.9" text-anchor="middle" font-weight="normal" fill="#262626">0.8</text>
<line x1="2267.3" y1="1359.9" x2="2267.3" y2="1368.3" stroke="#1c1c1c" stroke-width="2.8" stroke-linecap="butt"/>
<text x="2267.3" y="1408.7" font-size="38.9" text-anchor="middle" font-weight="normal" fill="#262626">1.0</text>
<text x="1760.3" y="1180.1" font-size="44.44" text-anchor="middle" font-weight="bold" fill="#262626">tau</text>
<text x="1760.7" y="1461" font-size="40.1" text-anchor="middle" font-weight="normal" fill="#000">Fractional ranks</text>
<line x1="2489.1" y1="119.1" x2="2489.1" y2="285.1" stroke="#404040" stroke-width="2.2" stroke-linecap="butt"/>
<line x1="2488" y1="284" x2="3603.9" y2="284" stroke="#404040" stroke-width="2.2" stroke-linecap="butt"/>
<line x1="2479.1" y1="148.7" x2="2489.1" y2="148.7" stroke="#1c1c1c" stroke-width="2.4" stroke-linecap="butt"/>
<text x="2468.3" y="164.4" font-size="38.9" text-anchor="end" font-weight="normal" fill="#262626">500</text>
<line x1="2479.1" y1="280.75" x2="2489.1" y2="280.75" stroke="#1c1c1c" stroke-width="2.4" stroke-linecap="butt"/>
<text x="2468.3" y="296.45" font-size="38.9" text-anchor="end" font-weight="normal" fill="#262626">0</text>
<line x1="2618.7" y1="284" x2="2618.7" y2="294" stroke="#1c1c1c" stroke-width="2.3" stroke-linecap="butt"/>
<text x="2618.7" y="334.7" font-size="38.9" text-anchor="middle" font-weight="normal" fill="#262626">250</text>
<line x1="2752.14" y1="284" x2="2752.14" y2="294" stroke="#1c1c1c" stroke-width="2.3" stroke-linecap="butt"/>
<text x="2752.14" y="334.7" font-size="38.9" text-anchor="middle" font-weight="normal" fill="#262626">500</text>
<line x1="2885.58" y1="284" x2="2885.58" y2="294" stroke="#1c1c1c" stroke-width="2.3" stroke-linecap="butt"/>
<text x="2885.58" y="334.7" font-size="38.9" text-anchor="middle" font-weight="normal" fill="#262626">750</text>
<line x1="3019.02" y1="284" x2="3019.02" y2="294" stroke="#1c1c1c" stroke-width="2.3" stroke-linecap="butt"/>
<text x="3019.02" y="334.7" font-size="38.9" text-anchor="middle" font-weight="normal" fill="#262626">1000</text>
<line x1="3152.46" y1="284" x2="3152.46" y2="294" stroke="#1c1c1c" stroke-width="2.3" stroke-linecap="butt"/>
<text x="3152.46" y="334.7" font-size="38.9" text-anchor="middle" font-weight="normal" fill="#262626">1250</text>
<line x1="3285.9" y1="284" x2="3285.9" y2="294" stroke="#1c1c1c" stroke-width="2.3" stroke-linecap="butt"/>
<text x="3285.9" y="334.7" font-size="38.9" text-anchor="middle" font-weight="normal" fill="#262626">1500</text>
<line x1="3419.34" y1="284" x2="3419.34" y2="294" stroke="#1c1c1c" stroke-width="2.3" stroke-linecap="butt"/>
<text x="3419.34" y="334.7" font-size="38.9" text-anchor="middle" font-weight="normal" fill="#262626">1750</text>
<line x1="3552.78" y1="284" x2="3552.78" y2="294" stroke="#1c1c1c" stroke-width="2.3" stroke-linecap="butt"/>
<text x="3552.78" y="334.7" font-size="38.9" text-anchor="middle" font-weight="normal" fill="#262626">2000</text>
<text x="3045.95" y="54.3" font-size="44.44" text-anchor="middle" font-weight="bold" fill="#000">theta</text>
<text x="3045.95" y="104.1" font-size="44.44" text-anchor="middle" font-weight="bold" fill="#000">Hotchkiss</text>
<text x="3047.15" y="386.8" font-size="40.1" text-anchor="middle" font-weight="normal" fill="#000">Total Number of Draws</text>
<text x="2375.4" y="207.75" font-size="40.4" text-anchor="middle" textLength="75.6" lengthAdjust="spacingAndGlyphs" fill="#000" transform="rotate(-90 2375.4 207.75)">ESS</text>
<line x1="2489.1" y1="511.3" x2="2489.1" y2="677" stroke="#404040" stroke-width="2.2" stroke-linecap="butt"/>
<line x1="2488" y1="675.9" x2="3603.9" y2="675.9" stroke="#404040" stroke-width="2.2" stroke-linecap="butt"/>
<line x1="2479.1" y1="577.4" x2="2489.1" y2="577.4" stroke="#1c1c1c" stroke-width="2.4" stroke-linecap="butt"/>
<text x="2468.3" y="593.1" font-size="38.9" text-anchor="end" font-weight="normal" fill="#262626">250</text>
<line x1="2479.1" y1="674.9" x2="2489.1" y2="674.9" stroke="#1c1c1c" stroke-width="2.4" stroke-linecap="butt"/>
<text x="2468.3" y="690.6" font-size="38.9" text-anchor="end" font-weight="normal" fill="#262626">0</text>
<line x1="2618.7" y1="675.9" x2="2618.7" y2="685.9" stroke="#1c1c1c" stroke-width="2.3" stroke-linecap="butt"/>
<text x="2618.7" y="726.6" font-size="38.9" text-anchor="middle" font-weight="normal" fill="#262626">250</text>
<line x1="2752.14" y1="675.9" x2="2752.14" y2="685.9" stroke="#1c1c1c" stroke-width="2.3" stroke-linecap="butt"/>
<text x="2752.14" y="726.6" font-size="38.9" text-anchor="middle" font-weight="normal" fill="#262626">500</text>
<line x1="2885.58" y1="675.9" x2="2885.58" y2="685.9" stroke="#1c1c1c" stroke-width="2.3" stroke-linecap="butt"/>
<text x="2885.58" y="726.6" font-size="38.9" text-anchor="middle" font-weight="normal" fill="#262626">750</text>
<line x1="3019.02" y1="675.9" x2="3019.02" y2="685.9" stroke="#1c1c1c" stroke-width="2.3" stroke-linecap="butt"/>
<text x="3019.02" y="726.6" font-size="38.9" text-anchor="middle" font-weight="normal" fill="#262626">1000</text>
<line x1="3152.46" y1="675.9" x2="3152.46" y2="685.9" stroke="#1c1c1c" stroke-width="2.3" stroke-linecap="butt"/>
<text x="3152.46" y="726.6" font-size="38.9" text-anchor="middle" font-weight="normal" fill="#262626">1250</text>
<line x1="3285.9" y1="675.9" x2="3285.9" y2="685.9" stroke="#1c1c1c" stroke-width="2.3" stroke-linecap="butt"/>
<text x="3285.9" y="726.6" font-size="38.9" text-anchor="middle" font-weight="normal" fill="#262626">1500</text>
<line x1="3419.34" y1="675.9" x2="3419.34" y2="685.9" stroke="#1c1c1c" stroke-width="2.3" stroke-linecap="butt"/>
<text x="3419.34" y="726.6" font-size="38.9" text-anchor="middle" font-weight="normal" fill="#262626">1750</text>
<line x1="3552.78" y1="675.9" x2="3552.78" y2="685.9" stroke="#1c1c1c" stroke-width="2.3" stroke-linecap="butt"/>
<text x="3552.78" y="726.6" font-size="38.9" text-anchor="middle" font-weight="normal" fill="#262626">2000</text>
<text x="3045.95" y="446.5" font-size="44.44" text-anchor="middle" font-weight="bold" fill="#000">theta</text>
<text x="3045.95" y="496.3" font-size="44.44" text-anchor="middle" font-weight="bold" fill="#000">St. Paul&#39;s</text>
<text x="3047.15" y="778.7" font-size="40.1" text-anchor="middle" font-weight="normal" fill="#000">Total Number of Draws</text>
<text x="2375.4" y="599.8" font-size="40.4" text-anchor="middle" textLength="75.6" lengthAdjust="spacingAndGlyphs" fill="#000" transform="rotate(-90 2375.4 599.8)">ESS</text>
<line x1="2489.1" y1="853.2" x2="2489.1" y2="1019" stroke="#404040" stroke-width="2.2" stroke-linecap="butt"/>
<line x1="2488" y1="1017.9" x2="3603.9" y2="1017.9" stroke="#404040" stroke-width="2.2" stroke-linecap="butt"/>
<line x1="2479.1" y1="918.7" x2="2489.1" y2="918.7" stroke="#1c1c1c" stroke-width="2.4" stroke-linecap="butt"/>
<text x="2468.3" y="934.4" font-size="38.9" text-anchor="end" font-weight="normal" fill="#262626">250</text>
<line x1="2479.1" y1="1015.8" x2="2489.1" y2="1015.8" stroke="#1c1c1c" stroke-width="2.4" stroke-linecap="butt"/>
<text x="2468.3" y="1031.5" font-size="38.9" text-anchor="end" font-weight="normal" fill="#262626">0</text>
<line x1="2618.7" y1="1017.9" x2="2618.7" y2="1027.9" stroke="#1c1c1c" stroke-width="2.3" stroke-linecap="butt"/>
<text x="2618.7" y="1068.6" font-size="38.9" text-anchor="middle" font-weight="normal" fill="#262626">250</text>
<line x1="2752.14" y1="1017.9" x2="2752.14" y2="1027.9" stroke="#1c1c1c" stroke-width="2.3" stroke-linecap="butt"/>
<text x="2752.14" y="1068.6" font-size="38.9" text-anchor="middle" font-weight="normal" fill="#262626">500</text>
<line x1="2885.58" y1="1017.9" x2="2885.58" y2="1027.9" stroke="#1c1c1c" stroke-width="2.3" stroke-linecap="butt"/>
<text x="2885.58" y="1068.6" font-size="38.9" text-anchor="middle" font-weight="normal" fill="#262626">750</text>
<line x1="3019.02" y1="1017.9" x2="3019.02" y2="1027.9" stroke="#1c1c1c" stroke-width="2.3" stroke-linecap="butt"/>
<text x="3019.02" y="1068.6" font-size="38.9" text-anchor="middle" font-weight="normal" fill="#262626">1000</text>
<line x1="3152.46" y1="1017.9" x2="3152.46" y2="1027.9" stroke="#1c1c1c" stroke-width="2.3" stroke-linecap="butt"/>
<text x="3152.46" y="1068.6" font-size="38.9" text-anchor="middle" font-weight="normal" fill="#262626">1250</text>
<line x1="3285.9" y1="1017.9" x2="3285.9" y2="1027.9" stroke="#1c1c1c" stroke-width="2.3" stroke-linecap="butt"/>
<text x="3285.9" y="1068.6" font-size="38.9" text-anchor="middle" font-weight="normal" fill="#262626">1500</text>
<line x1="3419.34" y1="1017.9" x2="3419.34" y2="1027.9" stroke="#1c1c1c" stroke-width="2.3" stroke-linecap="butt"/>
<text x="3419.34" y="1068.6" font-size="38.9" text-anchor="middle" font-weight="normal" fill="#262626">1750</text>
<line x1="3552.78" y1="1017.9" x2="3552.78" y2="1027.9" stroke="#1c1c1c" stroke-width="2.3" stroke-linecap="butt"/>
<text x="3552.78" y="1068.6" font-size="38.9" text-anchor="middle" font-weight="normal" fill="#262626">2000</text>
<text x="3045.95" y="838.2" font-size="44.44" text-anchor="middle" font-weight="bold" fill="#000">mu</text>
<text x="3047.15" y="1120.7" font-size="40.1" text-anchor="middle" font-weight="normal" fill="#000">Total Number of Draws</text>
<text x="2375.4" y="941.75" font-size="40.4" text-anchor="middle" textLength="75.6" lengthAdjust="spacingAndGlyphs" fill="#000" transform="rotate(-90 2375.4 941.75)">ESS</text>
<line x1="2489.1" y1="1195.1" x2="2489.1" y2="1361" stroke="#404040" stroke-width="2.2" stroke-linecap="butt"/>
<line x1="2488" y1="1359.9" x2="3603.9" y2="1359.9" stroke="#404040" stroke-width="2.2" stroke-linecap="butt"/>
<line x1="2479.1" y1="1260.9" x2="2489.1" y2="1260.9" stroke="#1c1c1c" stroke-width="2.4" stroke-linecap="butt"/>
<text x="2468.3" y="1276.6" font-size="38.9" text-anchor="end" font-weight="normal" fill="#262626">250</text>
<line x1="2479.1" y1="1355.8" x2="2489.1" y2="1355.8" stroke="#1c1c1c" stroke-width="2.4" stroke-linecap="butt"/>
<text x="2468.3" y="1371.5" font-size="38.9" text-anchor="end" font-weight="normal" fill="#262626">0</text>
<line x1="2618.7" y1="1359.9" x2="2618.7" y2="1369.9" stroke="#1c1c1c" stroke-width="2.3" stroke-linecap="butt"/>
<text x="2618.7" y="1410.6" font-size="38.9" text-anchor="middle" font-weight="normal" fill="#262626">250</text>
<line x1="2752.14" y1="1359.9" x2="2752.14" y2="1369.9" stroke="#1c1c1c" stroke-width="2.3" stroke-linecap="butt"/>
<text x="2752.14" y="1410.6" font-size="38.9" text-anchor="middle" font-weight="normal" fill="#262626">500</text>
<line x1="2885.58" y1="1359.9" x2="2885.58" y2="1369.9" stroke="#1c1c1c" stroke-width="2.3" stroke-linecap="butt"/>
<text x="2885.58" y="1410.6" font-size="38.9" text-anchor="middle" font-weight="normal" fill="#262626">750</text>
<line x1="3019.02" y1="1359.9" x2="3019.02" y2="1369.9" stroke="#1c1c1c" stroke-width="2.3" stroke-linecap="butt"/>
<text x="3019.02" y="1410.6" font-size="38.9" text-anchor="middle" font-weight="normal" fill="#262626">1000</text>
<line x1="3152.46" y1="1359.9" x2="3152.46" y2="1369.9" stroke="#1c1c1c" stroke-width="2.3" stroke-linecap="butt"/>
<text x="3152.46" y="1410.6" font-size="38.9" text-anchor="middle" font-weight="normal" fill="#262626">1250</text>
<line x1="3285.9" y1="1359.9" x2="3285.9" y2="1369.9" stroke="#1c1c1c" stroke-width="2.3" stroke-linecap="butt"/>
<text x="3285.9" y="1410.6" font-size="38.9" text-anchor="middle" font-weight="normal" fill="#262626">1500</text>
<line x1="3419.34" y1="1359.9" x2="3419.34" y2="1369.9" stroke="#1c1c1c" stroke-width="2.3" stroke-linecap="butt"/>
<text x="3419.34" y="1410.6" font-size="38.9" text-anchor="middle" font-weight="normal" fill="#262626">1750</text>
<line x1="3552.78" y1="1359.9" x2="3552.78" y2="1369.9" stroke="#1c1c1c" stroke-width="2.3" stroke-linecap="butt"/>
<text x="3552.78" y="1410.6" font-size="38.9" text-anchor="middle" font-weight="normal" fill="#262626">2000</text>
<text x="3045.95" y="1180.1" font-size="44.44" text-anchor="middle" font-weight="bold" fill="#000">tau</text>
<text x="3047.15" y="1462.7" font-size="40.1" text-anchor="middle" font-weight="normal" fill="#000">Total Number of Draws</text>
<text x="2375.4" y="1283.7" font-size="40.4" text-anchor="middle" textLength="75.6" lengthAdjust="spacingAndGlyphs" fill="#000" transform="rotate(-90 2375.4 1283.7)">ESS</text>
</svg>
</body></html>
